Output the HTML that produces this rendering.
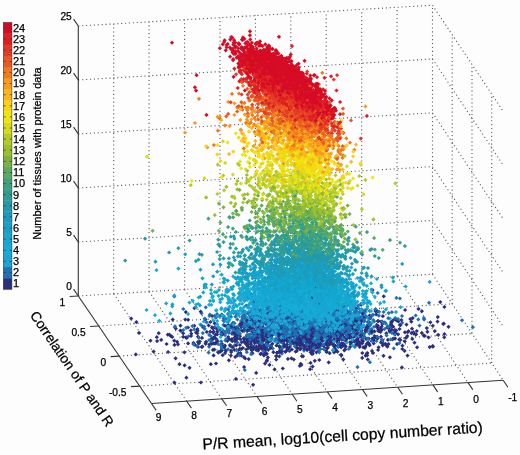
<!DOCTYPE html>
<html><head><meta charset="utf-8"><style>
html,body{margin:0;padding:0;background:#fdfdfd;}
svg{display:block;filter:blur(0.3px);}
text{font-family:"Liberation Sans",Arial,sans-serif;fill:#000;stroke:#000;stroke-width:0.25px;}
.ct{stroke:#333;stroke-width:1;opacity:0.7;}
.gd{stroke:#5a5a5a;stroke-width:1.1;stroke-dasharray:1.1 2.8;fill:none;}
.ax{stroke:#333;stroke-width:1.1;}
.s{fill:none;stroke:none;}
.tl{font-size:10.2px;}
.cl{font-size:11px;}
</style></head><body>
<svg width="520" height="455" viewBox="0 0 520 455">
<defs><marker id="m1" markerUnits="userSpaceOnUse" markerWidth="8" markerHeight="8" refX="4" refY="4" overflow="visible"><path d="M4 1.90L6.10 4 4 6.10 1.90 4z" fill="#2a2f7e"/></marker><marker id="m2" markerUnits="userSpaceOnUse" markerWidth="8" markerHeight="8" refX="4" refY="4" overflow="visible"><path d="M4 1.90L6.10 4 4 6.10 1.90 4z" fill="#2070b4"/></marker><marker id="m3" markerUnits="userSpaceOnUse" markerWidth="8" markerHeight="8" refX="4" refY="4" overflow="visible"><path d="M4 1.90L6.10 4 4 6.10 1.90 4z" fill="#1ca4d4"/></marker><marker id="m4" markerUnits="userSpaceOnUse" markerWidth="8" markerHeight="8" refX="4" refY="4" overflow="visible"><path d="M4 1.90L6.10 4 4 6.10 1.90 4z" fill="#16acd8"/></marker><marker id="m5" markerUnits="userSpaceOnUse" markerWidth="8" markerHeight="8" refX="4" refY="4" overflow="visible"><path d="M4 1.90L6.10 4 4 6.10 1.90 4z" fill="#14a8d0"/></marker><marker id="m6" markerUnits="userSpaceOnUse" markerWidth="8" markerHeight="8" refX="4" refY="4" overflow="visible"><path d="M4 1.90L6.10 4 4 6.10 1.90 4z" fill="#16a2c8"/></marker><marker id="m7" markerUnits="userSpaceOnUse" markerWidth="8" markerHeight="8" refX="4" refY="4" overflow="visible"><path d="M4 1.90L6.10 4 4 6.10 1.90 4z" fill="#1c9bbe"/></marker><marker id="m8" markerUnits="userSpaceOnUse" markerWidth="8" markerHeight="8" refX="4" refY="4" overflow="visible"><path d="M4 1.90L6.10 4 4 6.10 1.90 4z" fill="#2399aa"/></marker><marker id="m9" markerUnits="userSpaceOnUse" markerWidth="8" markerHeight="8" refX="4" refY="4" overflow="visible"><path d="M4 1.90L6.10 4 4 6.10 1.90 4z" fill="#2d9d96"/></marker><marker id="m10" markerUnits="userSpaceOnUse" markerWidth="8" markerHeight="8" refX="4" refY="4" overflow="visible"><path d="M4 1.90L6.10 4 4 6.10 1.90 4z" fill="#3ea27d"/></marker><marker id="m11" markerUnits="userSpaceOnUse" markerWidth="8" markerHeight="8" refX="4" refY="4" overflow="visible"><path d="M4 1.90L6.10 4 4 6.10 1.90 4z" fill="#5aaa62"/></marker><marker id="m12" markerUnits="userSpaceOnUse" markerWidth="8" markerHeight="8" refX="4" refY="4" overflow="visible"><path d="M4 1.90L6.10 4 4 6.10 1.90 4z" fill="#7ab244"/></marker><marker id="m13" markerUnits="userSpaceOnUse" markerWidth="8" markerHeight="8" refX="4" refY="4" overflow="visible"><path d="M4 1.90L6.10 4 4 6.10 1.90 4z" fill="#9bc02d"/></marker><marker id="m14" markerUnits="userSpaceOnUse" markerWidth="8" markerHeight="8" refX="4" refY="4" overflow="visible"><path d="M4 1.90L6.10 4 4 6.10 1.90 4z" fill="#b2cb26"/></marker><marker id="m15" markerUnits="userSpaceOnUse" markerWidth="8" markerHeight="8" refX="4" refY="4" overflow="visible"><path d="M4 1.90L6.10 4 4 6.10 1.90 4z" fill="#d4da1c"/></marker><marker id="m16" markerUnits="userSpaceOnUse" markerWidth="8" markerHeight="8" refX="4" refY="4" overflow="visible"><path d="M4 1.90L6.10 4 4 6.10 1.90 4z" fill="#f0e40f"/></marker><marker id="m17" markerUnits="userSpaceOnUse" markerWidth="8" markerHeight="8" refX="4" refY="4" overflow="visible"><path d="M4 1.90L6.10 4 4 6.10 1.90 4z" fill="#f8d412"/></marker><marker id="m18" markerUnits="userSpaceOnUse" markerWidth="8" markerHeight="8" refX="4" refY="4" overflow="visible"><path d="M4 1.90L6.10 4 4 6.10 1.90 4z" fill="#fab61c"/></marker><marker id="m19" markerUnits="userSpaceOnUse" markerWidth="8" markerHeight="8" refX="4" refY="4" overflow="visible"><path d="M4 1.90L6.10 4 4 6.10 1.90 4z" fill="#f69b1c"/></marker><marker id="m20" markerUnits="userSpaceOnUse" markerWidth="8" markerHeight="8" refX="4" refY="4" overflow="visible"><path d="M4 1.90L6.10 4 4 6.10 1.90 4z" fill="#f07a1e"/></marker><marker id="m21" markerUnits="userSpaceOnUse" markerWidth="8" markerHeight="8" refX="4" refY="4" overflow="visible"><path d="M4 1.90L6.10 4 4 6.10 1.90 4z" fill="#ea5823"/></marker><marker id="m22" markerUnits="userSpaceOnUse" markerWidth="8" markerHeight="8" refX="4" refY="4" overflow="visible"><path d="M4 1.90L6.10 4 4 6.10 1.90 4z" fill="#e23c28"/></marker><marker id="m23" markerUnits="userSpaceOnUse" markerWidth="8" markerHeight="8" refX="4" refY="4" overflow="visible"><path d="M4 1.90L6.10 4 4 6.10 1.90 4z" fill="#e01e22"/></marker><marker id="m24" markerUnits="userSpaceOnUse" markerWidth="8" markerHeight="8" refX="4" refY="4" overflow="visible"><path d="M4 1.90L6.10 4 4 6.10 1.90 4z" fill="#d60c26"/></marker></defs>
<rect width="520" height="455" fill="#fdfdfd"/>
<g><line class="gd" x1="432.5" y1="274.2" x2="432.5" y2="5.2"/><line class="gd" x1="397.1" y1="276.4" x2="397.1" y2="7.3"/><line class="gd" x1="361.7" y1="278.6" x2="361.7" y2="9.4"/><line class="gd" x1="326.2" y1="280.7" x2="326.2" y2="11.4"/><line class="gd" x1="290.8" y1="282.9" x2="290.8" y2="13.5"/><line class="gd" x1="255.4" y1="285.1" x2="255.4" y2="15.6"/><line class="gd" x1="220.0" y1="287.3" x2="220.0" y2="17.7"/><line class="gd" x1="184.6" y1="289.5" x2="184.6" y2="19.8"/><line class="gd" x1="149.1" y1="291.6" x2="149.1" y2="21.8"/><line class="gd" x1="113.7" y1="293.8" x2="113.7" y2="23.9"/><line class="gd" x1="78.3" y1="296.0" x2="432.5" y2="274.2"/><line class="gd" x1="78.3" y1="242.0" x2="432.5" y2="220.4"/><line class="gd" x1="78.3" y1="188.0" x2="432.5" y2="166.6"/><line class="gd" x1="78.3" y1="134.0" x2="432.5" y2="112.8"/><line class="gd" x1="78.3" y1="80.0" x2="432.5" y2="59.0"/><line class="gd" x1="78.3" y1="26.0" x2="432.5" y2="5.2"/><line class="gd" x1="452.2" y1="303.8" x2="452.2" y2="34.8"/><line class="gd" x1="472.0" y1="333.5" x2="472.0" y2="64.5"/><line class="gd" x1="491.7" y1="363.1" x2="491.7" y2="94.1"/><line class="gd" x1="432.5" y1="274.2" x2="503.2" y2="380.3"/><line class="gd" x1="432.5" y1="220.4" x2="503.2" y2="326.5"/><line class="gd" x1="432.5" y1="166.6" x2="503.2" y2="272.7"/><line class="gd" x1="432.5" y1="112.8" x2="503.2" y2="218.9"/><line class="gd" x1="432.5" y1="59.0" x2="503.2" y2="165.1"/><line class="gd" x1="432.5" y1="5.2" x2="503.2" y2="111.3"/><line class="gd" x1="397.1" y1="276.4" x2="468.0" y2="382.6"/><line class="gd" x1="361.7" y1="278.6" x2="432.9" y2="384.9"/><line class="gd" x1="326.2" y1="280.7" x2="397.7" y2="387.3"/><line class="gd" x1="290.8" y1="282.9" x2="362.5" y2="389.6"/><line class="gd" x1="255.4" y1="285.1" x2="327.4" y2="391.9"/><line class="gd" x1="220.0" y1="287.3" x2="292.2" y2="394.2"/><line class="gd" x1="184.6" y1="289.5" x2="257.0" y2="396.5"/><line class="gd" x1="149.1" y1="291.6" x2="221.8" y2="398.9"/><line class="gd" x1="113.7" y1="293.8" x2="186.7" y2="401.2"/><line class="gd" x1="98.7" y1="326.0" x2="452.2" y2="303.8"/><line class="gd" x1="119.2" y1="356.1" x2="472.0" y2="333.5"/><line class="gd" x1="139.6" y1="386.1" x2="491.7" y2="363.1"/></g>
<g><path class="s" marker-start="url(#m1)" marker-mid="url(#m1)" marker-end="url(#m1)" d="M310.5 342.7 256.2 372.9 310.6 362.9 275.1 339.7 330.9 332.2 313.7 319.6 221.6 332.3 183.2 336.8 334.0 318.0 270.5 315.4 213.6 355.4 312.7 335.3 335.5 327.5 305.5 322.9 287.7 329.4 271.1 345.9 299.3 341.1 279.4 336.0 270.3 346.2 417.1 347.3 259.2 346.8 342.6 339.5 340.8 307.2 288.8 337.1 239.8 348.9 249.6 347.5 351.5 320.5 300.2 322.2 258.5 315.7 328.3 332.5 316.1 326.5 404.8 341.4 312.8 353.7 221.3 345.3 367.4 353.1 361.6 335.0 194.5 308.1 329.6 353.2 309.2 328.2 296.1 340.6 309.7 313.8 299.0 342.9 177.1 341.8 362.9 341.4 288.8 327.8 251.9 353.1 290.5 342.8 289.8 325.5 175.8 328.6 319.5 344.4 313.8 339.6 289.4 326.2 323.9 339.8 305.6 301.9 438.2 334.8 307.5 315.7 366.1 327.8 377.3 338.0 247.3 345.5 238.7 349.9 385.3 343.8 440.3 302.1 318.6 351.2 345.0 316.3 342.8 331.4 267.0 360.3 326.1 317.6 237.0 329.6 305.4 339.2 315.5 347.9 300.6 291.9 382.3 340.0 265.3 333.5 243.5 320.5 296.8 351.0 320.2 345.8 288.1 325.5 340.4 328.0 288.4 313.1 302.1 341.4 277.5 340.6 197.6 330.8 238.1 328.4 205.4 319.6 312.8 309.0 304.4 334.9 421.8 332.9 198.9 343.4 278.8 333.6 135.8 354.4 308.9 330.5 286.1 306.2 285.8 321.6 380.9 342.5 253.4 332.0 294.0 329.2 309.0 339.4 365.6 355.6 262.1 317.1 259.7 322.4 355.9 320.1 234.3 333.9 251.0 341.9 288.2 325.3 334.2 338.9 345.6 320.4 260.9 327.7 324.6 333.1 221.7 314.7 301.6 332.6 318.6 330.8 235.3 356.9 334.1 352.3 304.3 340.3 293.5 322.3 377.8 321.1 251.4 350.1 318.8 343.8 286.6 324.0 212.0 327.3 279.4 351.3 280.0 347.7 269.2 320.2 382.7 345.3 367.7 325.0 222.0 334.5 327.1 345.1 290.0 333.2 378.2 330.1 283.2 342.9 272.6 326.8 437.5 321.6 309.7 328.4 308.8 328.9 378.6 347.3 423.6 335.3 277.0 352.5 332.1 325.7 223.5 316.0 299.4 343.4 293.6 335.8 333.7 340.6 238.7 337.0 288.1 334.6 217.2 334.5 275.5 340.5 318.3 310.3 328.4 317.9 343.8 345.0 416.8 331.0 279.6 346.5 358.4 337.6 235.4 339.9 232.1 333.8 395.5 330.7 367.8 359.5 235.8 334.2 296.6 318.5 372.9 353.1 271.2 338.0 305.7 323.2 369.6 345.0 333.1 333.5 300.0 339.5 235.1 341.4 304.5 314.1 372.6 290.0 185.8 312.1 244.1 367.1 239.9 345.0 167.8 334.7 131.2 318.6 301.7 337.1 386.3 333.3 220.5 351.6 316.9 344.3 241.7 342.2 298.3 343.3 178.0 344.3 413.8 333.6 341.5 343.9 271.0 318.1 266.5 343.2 387.2 327.4 289.9 346.9 322.1 323.3 304.4 332.5 282.9 341.1 341.4 355.3 336.6 335.6 198.0 346.9 292.7 327.1 234.4 327.9 225.9 350.8 297.8 325.3 340.7 334.2 297.2 348.5 260.1 345.3 228.3 324.9 314.8 360.8 311.9 329.0 287.4 326.4 383.5 355.8 316.1 332.1 281.3 330.5 374.5 336.0 336.3 320.7 253.1 340.5 270.0 336.0 297.3 341.3 338.2 316.6 342.2 339.2 378.1 350.0 304.0 332.1 426.8 328.1 258.4 317.0 314.6 319.8 237.0 333.6 188.1 343.4 257.0 349.5 311.2 338.9 353.6 330.0 298.3 337.6 287.1 344.5 335.6 349.6 347.6 311.3 350.2 335.6 191.3 333.7 366.4 338.8 314.4 344.7 405.1 310.0 200.9 382.5 314.9 337.8 338.2 333.7 338.5 336.1 261.0 335.1 186.4 377.7 280.4 348.9 287.0 339.3 315.7 326.8 280.1 312.3 246.3 349.6 300.6 340.2 328.9 326.4 346.8 331.5 312.5 327.6 295.7 351.6 219.8 329.4 364.2 337.0 297.3 338.8 310.4 332.2 213.2 332.6 266.6 361.2 320.0 330.3 408.6 331.2 184.4 352.3 407.5 355.6 341.0 354.8 292.4 332.7 300.0 349.1 251.0 344.2 350.1 342.3 412.0 328.7 237.5 355.3 297.4 345.1 253.4 321.5 400.3 340.1 314.0 334.0 358.2 318.8 389.5 331.1 305.1 335.8 346.4 314.6 358.3 345.2 288.7 350.1 225.1 353.1 341.9 315.9 411.5 333.2 303.0 336.3 367.9 328.1 279.2 323.0 410.3 319.0 328.7 362.4 349.3 338.0 298.2 327.4 434.8 331.1 271.3 325.4 301.8 343.0 313.7 343.9 234.7 337.6 225.8 350.3 306.5 343.0 323.9 331.2 260.7 336.1 312.6 344.7 256.0 338.0 326.7 351.9 331.2 340.8 332.4 331.2"/><path class="s" marker-start="url(#m2)" marker-mid="url(#m2)" marker-end="url(#m2)" d="M313.5 331.7 354.5 328.9 318.2 334.2 391.7 321.6 319.7 326.1 303.0 339.5 312.0 339.2 237.5 342.6 270.5 324.4 335.2 346.3 218.7 328.5 317.1 326.2 337.2 326.1 367.5 322.1 267.2 324.6 325.6 335.7 375.2 309.9 242.4 318.1 181.1 331.1 323.9 329.1 323.1 334.4 344.0 301.0 225.0 335.1 308.9 321.5 369.2 324.3 285.2 320.8 288.9 330.7 288.4 330.8 232.5 332.3 305.7 323.9 224.2 347.9 322.5 340.4 183.3 330.0 344.1 319.8 279.5 323.4 331.4 317.8 361.7 309.4 294.6 321.5 341.6 307.1 322.9 339.1 314.6 334.7 315.3 317.1 244.0 338.1 253.0 334.2 310.7 309.2 369.9 362.2 294.6 331.4 314.0 316.2 345.3 327.6 323.5 316.7 283.7 332.5 234.9 345.0 346.3 312.2 366.1 316.7 235.4 316.7 289.2 335.7 384.8 322.4 334.0 326.2 300.1 328.6 225.4 340.5 174.3 296.5 307.7 334.3 315.1 321.6 313.1 320.2 264.1 321.6 298.4 325.4 325.4 322.9 242.9 319.5 225.8 318.8 259.4 338.0 322.5 320.2 276.1 356.0 322.5 317.8 297.8 323.0 373.2 320.1 306.8 321.7 257.4 335.4 319.3 324.1 337.8 334.6 206.7 322.4 369.6 311.0 360.1 334.8 324.1 332.5 317.0 316.9 324.3 316.5 224.6 332.1 303.8 325.0 339.0 317.4 243.8 341.6 326.8 312.9 323.6 311.9 346.4 339.2 319.1 327.9 301.7 322.6 256.5 319.0 304.5 319.3 355.1 335.2 369.5 325.8 334.4 329.9 205.8 307.3 305.9 325.2 297.9 312.3 347.2 320.4 289.7 325.8 288.7 333.8 248.0 326.5 227.6 328.7 296.7 305.7 363.5 325.5 374.3 321.5 268.4 320.9 222.8 333.3 272.3 329.1 296.4 297.4 272.8 348.5 373.0 314.7 345.6 333.5 399.7 324.9 283.8 327.2 339.3 326.2 390.1 326.6 296.0 330.0 242.0 321.7 324.0 327.2 347.4 311.3 287.8 325.8 294.7 310.6 272.8 331.1 333.2 323.7 337.6 335.4 307.3 330.2 337.8 317.4 277.0 317.6 298.8 333.6 280.2 325.2 402.2 322.7 302.2 314.3 295.4 323.8 317.8 312.8 317.4 317.4 227.2 326.6 346.3 314.0 355.4 335.6 270.3 326.8 362.0 327.3 300.0 324.3 227.8 339.1 290.9 336.9 337.1 319.1 312.0 322.7 298.9 309.6 264.4 336.1 278.3 339.6 276.5 323.0 309.8 315.0 274.8 320.9 353.4 309.8 217.0 341.1 327.6 316.9 383.6 312.0 299.0 321.6 338.3 331.4 270.6 330.3 269.4 301.9 301.1 330.4 287.0 328.8 215.8 317.7 266.6 332.0 287.8 339.9 311.3 320.8 237.6 332.9 326.5 323.2 324.2 317.8 348.2 324.4 255.1 311.7 311.6 312.8 218.0 352.1 311.2 327.1 294.6 311.8 328.0 322.2 291.3 326.4 249.6 328.2 290.2 323.5 267.4 327.7 343.1 303.4 297.3 320.5 277.4 331.1 277.1 331.0 210.8 336.0 323.3 319.9 287.7 334.7 254.2 316.0 262.8 321.2 281.1 348.3 328.2 338.8 291.2 323.9 329.0 318.4 303.3 334.0 218.3 327.4 272.9 326.5 377.7 293.0 313.4 311.0 323.8 323.1 289.7 313.4 254.1 325.0 284.0 329.3 327.4 323.3 236.3 313.8 301.7 312.0 338.6 343.9 337.9 303.0 311.7 304.4 348.1 331.5 295.9 325.5 284.6 316.3 315.8 326.1 333.8 346.1 360.7 319.0 311.5 323.4 232.5 340.5 387.5 326.1 278.0 338.7 295.6 343.6 323.0 331.2 326.1 325.0 281.9 353.7 327.8 323.4 272.8 327.0 250.5 337.7 297.2 293.4 286.1 323.6 311.0 321.5 242.7 312.4 288.2 315.8 385.7 323.4 223.4 324.9 340.8 331.6 281.7 322.3 298.4 295.5 318.9 329.6 251.8 347.5 326.4 335.1 324.4 334.8 279.3 346.3 271.0 335.8 254.0 322.9 275.5 311.8 338.7 319.1 349.4 313.5 287.6 305.1 319.9 298.5 280.6 321.4 312.0 317.9 424.1 319.6 279.7 318.9 303.3 337.2 323.1 338.1 243.6 317.1 313.7 306.3 333.4 327.0 310.0 330.1 285.0 313.6 266.4 340.5 301.4 330.4 331.5 323.2 227.9 314.0 256.7 342.2 225.4 309.6 307.4 315.5 307.1 314.9 310.8 310.5 209.1 346.8 315.9 315.1 324.2 334.3 317.2 328.6 228.5 321.4 305.5 323.3 339.1 314.2 226.6 331.9 371.5 332.0 341.8 332.7 279.2 332.7 262.9 334.9 268.2 305.4 183.3 309.0"/><path class="s" marker-start="url(#m3)" marker-mid="url(#m3)" marker-end="url(#m3)" d="M299.5 295.3 332.0 287.8 294.0 307.3 302.3 325.8 303.0 319.5 354.5 306.7 244.6 318.2 298.7 337.3 200.3 324.5 271.4 315.4 321.0 304.3 325.7 332.2 361.9 316.9 303.1 314.6 336.0 299.6 295.5 298.8 245.4 324.7 337.5 303.9 307.8 304.9 300.5 289.5 288.8 312.1 316.3 295.6 287.5 313.9 333.6 315.2 290.3 320.2 292.4 309.2 257.1 332.8 371.9 323.0 335.0 307.5 322.4 309.9 266.3 316.0 265.6 316.6 304.5 309.7 266.1 311.4 258.3 309.8 295.6 309.8 288.5 294.0 312.3 322.5 320.7 315.2 328.9 300.9 337.9 308.6 321.3 322.6 288.8 310.5 250.0 320.6 294.0 300.3 290.2 310.2 297.3 330.0 326.4 308.6 258.8 289.0 299.8 313.1 295.2 289.1 356.8 325.5 313.1 316.1 262.7 302.9 328.1 308.0 329.1 307.8 285.9 311.9 305.9 307.0 285.6 302.9 273.5 311.1 321.8 324.1 306.6 307.7 249.0 305.0 318.3 326.7 321.9 314.0 319.8 303.2 263.1 312.2 249.9 318.0 349.7 314.2 304.0 296.1 279.8 314.2 356.8 323.5 300.2 295.6 321.0 321.1 286.2 321.9 314.4 316.0 263.2 294.4 310.7 302.7 360.7 329.5 264.1 304.3 312.1 299.4 288.5 310.3 336.9 328.8 306.8 322.0 334.9 316.0 250.8 303.0 321.4 294.7 335.0 332.9 340.4 306.5 252.6 312.3 327.9 324.7 282.4 306.7 299.8 307.7 346.8 342.6 302.2 298.8 293.4 331.5 338.9 302.5 306.9 325.0 278.9 320.1 343.2 309.4 307.3 295.2 250.2 295.5 294.5 321.6 301.9 329.6 276.8 303.3 320.0 320.1 254.2 307.8 287.7 308.9 242.4 311.4 353.9 313.2 325.4 329.9 294.4 303.2 327.6 308.5 279.3 307.1 326.6 305.8 327.9 310.2 318.7 316.5 340.6 325.8 339.3 300.6 323.3 317.5 327.8 316.2 275.3 302.5 315.8 300.8 312.9 315.8 320.8 305.3 333.5 310.6 320.8 298.8 247.7 307.5 241.2 330.1 333.8 295.9 306.0 284.8 302.4 302.9 292.3 309.6 311.5 300.3 321.0 326.1 298.7 289.2 317.7 306.8 330.6 311.5 307.9 328.3 274.5 326.6 328.5 323.2 282.5 319.4 298.1 314.1 267.9 318.4 318.1 307.0 283.1 318.2 310.5 312.0 279.0 334.9 345.7 309.4 272.3 307.6 320.1 315.9 284.4 315.9 146.6 310.0 307.3 317.4 309.9 311.1 271.6 314.2 314.9 301.2 299.9 306.9 159.3 320.8 262.7 317.6 250.5 318.4 343.5 305.9 311.6 316.0 320.7 322.2 300.2 325.5 338.9 312.1 300.4 305.9 343.6 323.2 281.9 322.1 334.4 309.9 329.7 314.1 213.1 300.3 325.7 304.2 340.9 310.8 312.2 315.7 301.8 289.1 344.6 315.8 312.9 320.0 284.2 301.7 337.1 318.7 315.6 311.0 318.9 308.0 331.0 326.5 227.8 302.9 325.3 322.3 225.7 308.9 299.9 316.3 290.7 297.4 310.4 295.2 279.0 311.0 259.8 301.2 301.4 331.2 269.0 310.4 268.9 322.9 255.0 302.5 281.7 317.2 293.2 317.3 274.5 312.4 301.1 315.2 309.1 308.4 316.2 323.2 321.5 319.4 270.4 326.4 303.9 313.4 303.6 296.0 239.9 292.0 288.6 305.7 302.7 310.9 298.1 297.1 346.1 300.2 316.8 307.6 303.1 336.7 282.8 317.2 266.8 323.9 283.0 310.6 343.1 331.9 311.2 313.6 309.9 314.0 313.0 304.8 263.4 320.7 278.0 319.3 285.4 328.3 322.0 319.8 321.4 315.1 310.2 300.2 316.9 319.2 344.5 325.9 302.3 299.8 317.5 296.6 279.4 306.0 330.0 328.8 277.6 284.3 270.5 318.7 296.1 321.2 238.7 314.3 304.7 300.6 342.9 319.2 301.2 304.8 328.2 325.9 280.3 327.5 365.9 293.6 279.9 287.7 306.2 297.3 313.9 328.7 299.2 318.2 322.6 312.1 315.4 312.6 357.4 296.0 239.3 314.3 285.7 303.2 308.1 313.4 316.1 308.7 294.9 304.7 295.9 308.0 313.9 316.1 303.6 315.2 350.5 336.1 297.5 313.5 303.1 315.2 269.8 311.8 259.8 312.5 344.9 331.0 317.1 301.6 325.8 299.5 324.7 329.0 330.3 302.6 272.1 305.0 354.5 301.2 312.5 307.9 297.4 319.4 323.8 323.8 262.2 310.9 341.5 315.3 267.8 337.3 292.4 326.1 273.3 311.4 305.9 300.4 319.1 321.3 288.7 307.6 287.3 315.8 319.1 331.9 362.7 294.0 309.5 314.1 314.4 334.4 272.4 317.6 334.2 318.6 324.8 316.0 350.6 313.2 302.3 318.3 287.5 303.8 296.6 305.3 266.9 303.7 291.5 301.8 346.5 322.2 322.0 307.4 341.5 314.8 315.0 311.3 234.6 311.5 224.8 317.0 318.9 283.1 313.0 304.9 300.7 306.8 290.8 312.4 246.0 324.0 296.6 323.1"/><path class="s" marker-start="url(#m4)" marker-mid="url(#m4)" marker-end="url(#m4)" d="M351.0 300.7 312.6 296.5 311.9 306.5 222.1 298.7 312.2 291.5 251.2 296.2 316.3 312.6 291.2 306.4 331.0 306.1 239.8 310.6 329.7 298.5 317.5 308.5 325.2 300.9 268.4 309.7 337.6 319.4 327.7 305.2 276.2 309.8 308.5 301.9 262.5 308.1 281.0 300.5 316.8 310.4 313.3 299.3 283.5 302.8 327.4 300.8 292.3 310.0 311.9 302.6 251.0 308.7 312.6 301.3 270.0 313.8 306.5 296.3 308.0 311.8 277.7 294.3 317.9 293.9 265.0 291.5 227.5 289.6 300.5 284.3 331.1 315.1 302.7 288.3 317.3 302.0 277.2 309.5 359.8 281.1 285.3 322.3 261.9 287.5 294.3 297.7 263.0 283.7 323.7 289.4 265.7 305.9 299.4 308.9 247.7 297.8 332.7 285.6 312.2 291.4 281.0 303.1 286.3 298.3 312.0 296.2 310.0 285.6 317.4 306.4 333.9 298.7 317.7 286.6 312.6 296.7 278.7 305.4 315.5 303.2 365.5 310.3 329.9 302.7 335.8 308.9 322.7 295.6 284.5 317.4 339.1 305.9 295.2 297.1 318.2 286.4 324.7 309.7 302.5 300.2 340.7 296.9 318.0 318.6 279.2 296.5 332.3 309.3 288.1 306.6 313.9 303.6 345.3 305.6 356.6 311.7 258.6 305.2 332.6 307.2 231.2 287.9 259.4 303.5 254.4 318.1 226.9 321.8 298.3 310.7 313.3 296.0 283.7 293.4 329.8 300.6 302.1 310.3 312.7 288.2 251.8 308.8 192.8 300.8 327.0 299.5 264.5 288.8 304.4 292.7 318.1 298.0 335.1 319.3 259.4 319.1 273.1 302.3 264.2 305.3 287.9 280.0 284.5 296.6 316.2 286.8 281.9 310.7 301.2 308.6 280.4 289.4 309.4 300.2 283.1 288.3 249.0 307.2 302.6 296.7 310.2 297.8 256.7 305.0 336.4 301.4 300.3 305.3 354.2 288.0 287.1 287.1 306.4 299.7 313.7 281.2 283.1 311.4 343.6 291.2 305.4 288.7 330.8 298.8 310.2 304.6 269.6 309.7 287.0 283.5 324.6 304.8 304.1 291.8 324.8 291.9 188.1 314.1 275.8 316.0 290.5 294.1 340.7 300.8 313.5 295.0 360.9 332.3 286.7 287.0 300.9 284.3 317.2 306.8 312.1 291.4 327.2 291.0 291.0 303.5 322.8 311.7 320.9 315.1 304.6 293.1 319.0 296.4 229.1 263.8 351.1 282.3 293.7 303.4 325.7 287.0 290.2 309.1 303.0 319.4 315.9 294.8 316.9 297.1 286.6 302.8 247.0 297.2 294.0 295.7 314.6 300.3 294.6 294.2 266.2 295.5 336.0 305.6 221.2 309.2 315.3 310.5 341.4 297.6 320.7 330.5 311.8 308.6 357.9 307.6 304.5 289.1 261.2 306.5 213.4 320.4 334.0 303.0 299.8 284.9 336.1 295.9 346.5 304.8 314.7 288.9 282.9 307.0 289.1 317.4 365.2 310.1 297.0 280.8 285.4 297.5 246.3 284.2 329.8 295.9 316.8 309.3 307.6 300.0 302.6 310.6 289.9 302.4 278.1 296.5 334.4 302.7 293.5 305.1 346.6 318.2 254.6 295.9 345.1 296.1 333.2 313.9 316.6 304.3 313.5 298.0 308.2 296.8 318.3 300.1 266.0 292.1 351.9 284.7 315.5 291.6 323.7 306.4 309.3 297.6 327.6 309.3 322.7 313.8 323.5 301.2 329.5 291.1 297.4 291.5 258.0 287.8 271.2 301.1 330.6 289.2 366.4 297.4 299.1 294.4 255.2 296.5 313.4 284.4 303.8 303.0 315.2 312.7 266.3 310.1 330.7 289.1 262.9 298.0 307.3 283.3 294.6 307.0 266.6 302.6 343.8 299.3 254.8 310.9 317.0 298.8 339.3 304.0 286.9 316.7 288.7 307.0 342.4 311.0 260.3 281.5 288.4 305.0 311.0 291.6 328.0 319.0 343.2 305.8 309.8 286.3 261.9 307.5 310.9 304.9 318.4 298.4 240.0 300.5 245.6 296.4 314.2 282.4 282.2 287.0 304.3 290.9 266.3 302.6 319.4 300.7 271.7 308.5 327.2 315.1 273.5 313.5 292.4 301.8 331.4 286.7 270.8 307.0 308.2 302.0 301.6 286.5 307.8 302.2 256.3 298.6 296.6 310.6 258.6 309.1 321.0 311.0 286.9 283.7 324.7 288.0 284.0 302.7 297.7 309.1 338.7 309.5 261.2 303.6 305.6 308.1 289.7 302.2 338.4 322.6 309.6 308.2 296.0 294.9 287.9 285.3 313.7 306.6 294.4 298.8 228.9 317.0 298.1 303.6 291.9 321.5 303.5 293.6 272.1 297.9 286.7 286.6 265.8 312.4 301.5 313.7 317.6 300.4 322.3 304.2"/><path class="s" marker-start="url(#m5)" marker-mid="url(#m5)" marker-end="url(#m5)" d="M309.0 286.8 321.1 303.0 266.4 298.2 289.8 285.2 294.8 271.6 354.4 300.6 310.2 285.0 313.9 274.7 346.4 316.4 327.8 288.8 289.6 289.7 326.9 295.8 400.6 307.2 294.6 291.4 267.1 286.4 347.0 292.2 348.7 289.9 286.8 282.1 289.6 265.0 342.3 299.6 317.9 291.4 306.8 293.7 326.9 286.4 330.0 310.1 257.5 308.7 260.2 290.8 324.2 292.4 258.1 278.5 299.9 280.3 323.3 292.0 315.8 287.0 318.1 289.3 334.0 303.6 278.0 285.3 295.3 273.2 336.9 265.4 334.0 290.4 305.4 286.4 327.6 316.7 228.7 298.1 276.4 311.3 267.1 302.9 339.1 286.8 322.8 288.2 342.4 278.7 322.6 283.5 282.3 287.4 306.4 268.3 279.9 275.9 328.2 313.8 331.3 287.8 329.2 301.9 341.6 289.9 316.6 292.4 245.6 297.4 266.2 307.6 312.3 292.5 334.1 280.5 276.0 289.3 305.5 298.1 317.0 285.0 321.4 291.7 299.8 258.1 295.1 286.7 315.0 284.6 314.4 290.3 308.3 289.2 313.2 314.3 261.7 289.3 325.1 274.1 268.1 290.0 322.8 315.0 316.8 285.4 251.0 298.7 304.9 292.0 284.5 290.1 316.4 288.1 309.5 293.2 298.7 281.0 311.0 297.6 327.4 305.1 358.6 294.4 276.9 287.3 321.3 273.7 292.1 298.5 285.7 277.8 327.3 280.4 263.5 282.8 298.6 292.0 282.8 276.6 316.2 278.3 292.3 283.0 286.4 276.2 269.4 277.6 335.9 275.5 344.4 305.2 265.4 282.8 361.2 281.1 325.7 292.1 308.3 286.8 294.4 298.7 241.6 279.8 297.1 282.5 314.9 291.4 308.5 255.0 318.1 292.4 272.5 310.2 241.2 280.7 336.5 306.2 273.2 286.3 251.6 283.8 280.5 298.8 248.8 285.9 338.0 294.4 349.4 278.9 319.1 299.9 329.1 295.5 275.7 282.6 287.2 291.4 304.6 285.7 315.9 284.9 333.7 294.5 300.6 276.2 344.0 293.7 351.9 316.0 272.2 304.7 290.9 289.5 309.7 293.2 312.0 288.9 337.3 291.1 241.8 294.9 331.8 300.5 284.9 280.0 308.8 290.3 286.5 277.6 294.0 303.3 332.0 279.1 313.5 278.9 275.1 262.1 293.2 282.8 303.4 279.0 271.0 288.4 353.4 300.3 333.0 286.7 295.4 295.3 232.9 298.3 320.8 283.8 343.1 293.6 269.6 291.0 323.2 295.6 332.2 299.9 306.2 278.8 312.5 283.3 323.1 296.5 277.0 295.2 311.3 289.9 320.7 297.4 326.4 303.4 254.3 281.9 329.7 294.5 326.2 277.0 290.6 309.2 305.5 285.5 292.7 291.7 328.3 287.3 338.5 299.0 275.3 274.6 284.3 287.1 323.2 283.5 326.3 306.9 279.5 296.1 352.9 293.0 203.3 292.4 292.2 287.7 292.5 276.9 255.0 265.8 311.6 281.9 228.9 290.5 247.3 287.0 313.9 277.7 328.6 270.8 284.0 269.6 258.9 280.9 226.3 289.9 297.3 285.7 308.0 300.8 323.9 274.0 287.8 278.7 302.9 295.7 293.7 309.1 332.3 283.8 275.1 273.7 315.3 281.2 314.1 284.4 259.2 275.5 291.6 287.7 311.6 296.3 278.5 293.9 277.7 289.8 300.4 282.5 346.4 291.7 316.0 301.6 311.7 284.2 314.3 282.8 327.2 301.9 289.7 285.4 232.9 308.5 312.6 279.9 292.0 304.1 307.3 281.8 304.5 314.1 363.6 283.9 245.1 292.3 295.5 287.2 284.4 296.3 318.6 300.7 283.0 281.9 337.0 297.6 327.0 276.1 344.3 287.1 305.8 273.7 216.7 292.1 296.0 288.4 243.7 286.4 325.2 292.2 261.0 283.0 305.9 273.3 326.2 300.9 345.1 301.5 281.3 295.6 297.9 288.9 346.6 302.8 245.5 288.6 345.8 303.2 318.5 270.1 283.7 282.1 279.9 291.2 329.8 306.6 263.2 291.7 309.4 283.9 298.0 283.4 335.4 300.8 276.6 281.0 310.4 307.4 269.0 285.2 325.8 293.9 307.9 296.2 280.2 292.5 316.0 261.4 333.3 281.5 322.1 273.1 320.7 283.8 322.6 287.0 270.0 285.9"/><path class="s" marker-start="url(#m6)" marker-mid="url(#m6)" marker-end="url(#m6)" d="M271.6 290.9 311.3 284.2 303.2 283.2 294.7 280.7 318.4 273.4 296.7 272.4 281.4 283.4 275.6 282.9 358.4 292.7 281.5 271.1 316.7 285.3 254.5 289.2 293.6 284.0 315.2 286.7 313.0 276.3 269.7 265.8 309.7 277.9 290.4 286.9 303.9 267.1 312.0 291.7 241.0 264.8 287.4 281.8 280.6 278.2 295.6 267.7 308.6 278.4 230.1 263.4 307.4 258.8 319.7 278.2 270.9 276.9 281.3 285.9 285.0 276.6 281.5 279.5 312.6 281.4 311.9 287.1 244.0 268.9 293.7 290.8 271.9 279.8 343.8 280.4 289.3 248.8 306.0 272.0 271.3 267.2 315.7 292.0 285.8 273.4 321.1 273.5 323.5 284.6 273.6 273.8 318.1 265.6 232.1 289.2 281.1 284.7 307.7 274.6 289.9 280.1 262.2 299.1 323.9 277.3 286.6 268.8 254.2 274.7 320.5 281.1 337.6 263.4 326.6 289.0 308.0 278.9 323.7 277.7 286.0 258.1 285.9 272.4 292.5 293.6 320.0 286.1 318.2 282.8 310.5 266.2 292.8 279.2 320.0 288.6 272.3 278.5 283.3 284.6 340.4 281.4 306.9 280.9 202.5 278.3 332.6 268.9 269.3 271.3 262.1 291.1 291.7 263.3 274.8 289.0 267.0 280.0 337.5 256.5 239.4 270.2 321.7 287.4 295.7 296.0 333.3 267.3 310.1 268.4 293.4 269.0 267.4 272.0 301.1 284.4 342.3 273.5 337.0 254.5 317.2 290.2 322.7 277.3 314.4 271.4 306.0 268.6 291.5 278.6 287.8 286.3 285.1 299.5 306.0 278.9 364.6 295.7 304.8 283.3 335.1 289.7 309.2 287.7 273.3 278.9 299.6 273.6 236.5 278.8 308.1 280.0 317.1 280.1 269.6 286.7 261.1 273.5 279.4 293.4 305.7 264.7 292.4 280.8 281.2 256.3 327.8 285.3 274.5 271.5 318.0 282.1 277.4 274.1 341.7 279.4 330.9 276.7 314.2 284.3 273.4 274.4 292.4 270.2 288.3 279.7 254.4 298.6 320.7 283.3 303.5 283.6 340.4 286.3 314.3 274.1 300.0 283.3 274.9 280.0 254.8 282.0 274.8 290.5 289.4 273.8 402.2 263.9 287.7 277.5 313.5 285.4 330.2 284.8 239.7 272.6 287.6 284.0 274.6 260.2 324.1 286.3 313.0 270.9 315.0 286.8 326.5 288.5 309.2 280.3 292.0 268.1 308.1 259.9 273.2 273.1 312.8 284.0 300.1 285.0 294.3 263.6 277.5 271.7 312.7 295.2 238.7 293.6 297.4 296.9 323.2 277.7 291.7 271.4 284.0 268.1 334.4 288.9 294.5 272.5 332.3 282.3 277.8 274.6 264.8 285.5 271.3 273.2 264.9 288.7 312.5 292.5 299.9 280.7 349.7 275.1 313.1 264.4 255.9 260.8 304.6 273.7 259.6 264.5 275.1 287.6"/><path class="s" marker-start="url(#m7)" marker-mid="url(#m7)" marker-end="url(#m7)" d="M323.9 280.7 306.7 278.6 290.6 269.7 317.0 270.4 306.7 273.9 321.4 249.0 241.2 235.8 292.1 279.8 321.0 289.6 311.6 267.7 327.4 275.9 313.9 254.3 247.1 278.0 277.8 244.5 336.2 259.3 319.3 263.7 298.9 273.2 198.5 259.7 230.2 247.9 312.5 265.5 301.4 258.0 249.0 257.4 297.0 253.4 313.8 252.0 309.2 268.5 326.0 278.3 323.2 267.7 299.6 253.6 243.0 249.6 319.3 275.2 317.7 274.2 309.1 267.0 314.7 281.0 272.6 286.9 291.1 271.5 301.4 254.6 319.5 255.2 257.7 262.8 296.1 254.9 317.6 284.6 317.2 251.8 284.8 274.1 291.8 265.7 314.7 247.7 306.6 255.6 284.5 252.3 332.1 279.3 297.6 264.1 381.5 285.3 299.3 281.6 316.6 270.0 305.5 266.6 292.4 259.4 320.3 267.1 318.5 273.4 228.9 258.4 299.3 251.4 315.2 287.6 337.0 282.4 285.4 263.6 251.9 283.5 338.7 267.3 307.8 252.5 304.5 272.3 328.9 280.7 303.4 270.0 302.3 277.8 322.6 261.6 315.9 276.0 275.1 249.6 288.6 277.8 304.9 268.7 293.5 254.7 292.4 290.1 285.2 279.7 291.2 267.4 308.0 257.2 319.6 282.5 331.9 253.8 276.4 262.8 272.4 268.5 281.7 276.3 213.0 264.4 279.6 274.3 287.4 253.0 356.6 295.0 361.7 279.0 328.6 243.6 266.8 280.6 310.0 261.9 267.5 281.4 320.9 235.2 341.4 290.3 259.1 261.9 292.0 242.5 248.5 274.9 307.1 266.5 321.4 263.3 282.5 262.6 298.9 253.6 337.8 275.1 297.4 272.4 309.7 252.6 281.1 281.7 270.1 275.5 283.1 282.4 304.3 277.7 268.3 269.0 292.5 277.8 312.2 276.4 262.8 260.0 308.2 251.4 316.3 280.3 282.5 272.4 326.5 260.3 308.3 275.4 272.1 273.0 306.9 261.1 266.4 255.4 255.2 267.4 303.0 255.8"/><path class="s" marker-start="url(#m8)" marker-mid="url(#m8)" marker-end="url(#m8)" d="M289.6 242.4 287.5 273.9 300.3 251.2 321.1 263.3 317.7 259.9 310.0 261.7 328.0 259.6 218.4 244.6 317.6 255.4 322.9 253.7 347.7 292.9 268.6 253.7 309.7 261.3 305.4 256.2 316.4 257.7 274.0 254.4 295.2 237.1 308.3 248.7 319.9 273.4 332.3 258.4 334.0 258.9 273.6 250.4 331.9 257.9 300.0 248.6 307.2 252.5 281.3 261.3 280.4 261.6 286.5 250.1 333.1 259.8 272.3 268.7 288.8 253.7 242.3 251.5 316.8 270.1 312.2 265.3 284.8 247.3 304.8 267.7 287.0 265.3 268.8 250.9 313.0 278.5 264.2 258.6 357.0 261.9 305.8 246.0 297.8 259.2 277.2 258.4 315.0 269.1 312.7 250.1 256.8 249.5 291.5 243.8 327.3 266.6 282.2 245.3 322.3 222.1 333.0 254.4 291.9 258.9 230.8 236.7 341.1 257.0 247.1 238.9 296.7 250.2 289.9 260.6 233.8 236.3 303.0 265.3 308.6 256.5 285.3 274.2 283.1 242.0 320.5 237.9 245.9 263.0 311.6 249.4 276.3 265.7 280.6 253.4 288.4 236.6 313.4 272.3 300.1 281.1 246.4 260.4 258.1 248.1 331.5 275.3 278.5 255.2 316.3 262.2 338.6 244.5 251.0 255.0 271.0 254.7 255.6 240.0 341.5 236.4 260.8 249.0 279.8 261.3 316.1 269.7 268.1 250.9 362.2 254.6 312.1 262.2 348.4 284.2 355.0 259.8 263.0 256.0 302.1 270.1 324.7 264.6"/><path class="s" marker-start="url(#m9)" marker-mid="url(#m9)" marker-end="url(#m9)" d="M297.2 268.5 295.8 226.9 276.3 253.2 338.1 249.9 301.0 217.6 317.3 238.8 324.5 265.8 299.1 238.5 312.6 245.7 336.0 250.2 322.8 244.1 295.0 254.8 332.8 246.2 307.9 246.5 285.4 236.7 312.7 248.8 303.6 232.6 308.3 229.1 286.1 244.3 277.3 235.8 252.9 228.0 307.9 245.6 329.8 246.1 276.2 238.2 330.9 237.8 279.8 261.5 292.2 226.5 310.7 241.7 302.3 223.9 316.4 251.8 321.2 229.0 338.7 268.6 308.3 259.5 317.5 250.3 323.1 252.5 324.9 237.7 189.6 240.5 347.5 240.0 264.2 260.1 306.7 244.5 287.0 232.1 299.1 265.0 260.0 227.4 301.0 225.5 253.9 256.8 301.0 237.6 316.6 240.2 320.7 240.3 301.7 256.8 283.5 220.6 330.7 242.1 308.7 254.1 320.5 261.7 294.6 231.3 300.8 248.0 348.0 249.8 321.3 238.5 295.8 257.8 313.3 257.4 242.8 267.9 312.8 245.8 310.3 249.0 301.3 269.1 374.8 256.1 310.2 245.0 300.8 250.4 279.1 224.2 319.1 232.8 318.5 256.5 319.9 239.3 268.2 235.2 262.1 243.8 298.2 254.2"/><path class="s" marker-start="url(#m10)" marker-mid="url(#m10)" marker-end="url(#m10)" d="M312.0 218.5 235.9 231.9 330.8 236.8 310.7 210.8 321.5 220.0 312.6 250.5 302.9 242.9 249.2 225.4 233.1 217.3 308.5 239.8 286.1 250.2 331.5 240.1 301.8 235.2 244.3 227.1 308.7 240.9 283.0 250.4 311.8 226.9 301.1 232.7 313.6 247.7 326.0 237.1 293.1 244.3 341.9 231.7 353.7 247.3 315.2 251.7 270.2 231.9 311.8 229.1 297.5 223.9 335.1 243.8 309.6 259.1 303.7 242.6 338.6 264.6 300.8 238.2 269.2 218.8 288.9 244.5 309.0 226.6 318.0 230.0 315.7 226.5 331.9 258.1 319.6 236.4 271.8 242.0 299.5 240.3 284.6 219.1 262.6 230.7 301.4 228.1 325.1 231.6 296.6 215.2 355.8 226.7 283.4 221.6 341.0 233.3 316.0 240.8 321.1 263.1 329.4 245.7 290.5 261.1 295.0 237.2 294.7 228.7 335.1 239.6 208.4 218.7 307.9 226.0 298.7 241.0 314.6 246.9 245.6 226.8 357.5 248.6 304.6 260.8 312.5 239.7 325.0 242.9 327.2 238.5 331.1 256.9 300.0 225.4 291.0 208.9 248.8 230.7 247.9 231.6 303.3 229.0 312.4 252.9"/><path class="s" marker-start="url(#m11)" marker-mid="url(#m11)" marker-end="url(#m11)" d="M271.2 218.9 258.0 195.7 325.2 233.6 273.4 223.9 274.0 231.9 262.2 231.8 321.4 235.0 309.1 226.4 304.0 219.0 382.7 249.8 295.1 208.0 311.1 208.4 342.7 247.5 314.7 236.3 268.4 235.0 220.4 222.6 278.6 223.6 289.6 221.3 225.7 237.0 306.4 225.7 311.0 218.4 318.3 236.9 301.3 209.5 252.7 207.1 285.1 214.9 321.9 223.3 313.3 227.3 283.1 222.7 338.8 227.3 321.7 233.7 329.3 222.9 272.1 215.0 319.4 223.5 317.1 211.3 320.4 224.3 337.0 244.7 333.4 219.6 309.5 220.1 299.5 223.8 304.4 220.7 341.7 229.3 347.8 231.5 290.6 209.1 270.1 231.0 293.9 220.7 287.3 234.4 300.4 231.6 303.0 206.7 273.8 213.9 296.3 217.6 292.5 230.2 313.2 228.6 285.8 222.3"/><path class="s" marker-start="url(#m12)" marker-mid="url(#m12)" marker-end="url(#m12)" d="M273.7 212.2 300.4 215.1 299.8 209.0 343.7 242.0 334.1 227.4 292.9 208.4 292.8 236.3 281.7 229.0 289.1 224.7 306.0 205.2 303.2 226.2 245.2 228.7 317.9 219.6 328.1 215.0 251.6 240.0 280.7 217.1 288.2 235.9 308.8 192.0 314.7 216.1 315.6 221.0 312.7 228.6 253.1 206.6 301.7 225.1 274.1 213.6 272.7 220.4 340.5 214.4 331.7 234.5 299.0 217.5 329.8 237.0 335.0 228.1 279.6 225.3 299.7 223.1 285.9 238.5 223.5 207.3 318.0 226.6 322.5 225.6 274.4 199.4 312.9 204.2 312.5 225.0 337.8 229.6 317.2 216.4 306.9 219.9 320.2 218.1 319.8 214.7 244.2 198.7 317.7 214.1 247.2 202.5 295.0 203.0"/><path class="s" marker-start="url(#m13)" marker-mid="url(#m13)" marker-end="url(#m13)" d="M315.6 206.4 322.5 210.5 324.1 204.0 304.1 198.4 327.1 236.4 274.1 175.8 307.9 196.1 300.2 205.0 270.2 201.7 340.3 189.9 330.8 213.5 316.8 202.1 252.1 201.3 273.3 206.9 303.3 198.2 291.0 176.3 256.8 199.5 316.7 208.8 237.5 181.0 289.3 203.3 285.8 209.9 314.6 187.4 317.8 212.8 329.9 192.5 319.1 182.2 267.5 195.6 286.2 203.4 267.6 206.0 287.6 214.1 283.0 211.8 263.4 171.1 307.8 206.9 303.5 191.1 293.4 193.6 341.8 218.3 300.9 193.1 355.4 239.4 301.2 191.6 284.2 212.2 301.5 212.9 334.8 196.4 335.1 218.1 301.7 185.9 297.1 211.0 317.7 219.3 312.6 211.0 318.6 216.9 334.9 218.8 247.3 170.8 332.1 192.7 341.0 214.3 323.3 193.7 257.9 216.8 296.5 193.7 309.4 203.0 304.2 200.4 305.9 195.5 312.6 189.7 299.4 200.4 329.8 201.6 318.0 225.3 277.5 193.9 267.3 195.4 321.6 213.6 263.4 193.7 291.1 213.5"/><path class="s" marker-start="url(#m14)" marker-mid="url(#m14)" marker-end="url(#m14)" d="M329.0 172.6 303.9 191.9 321.4 204.1 296.0 200.3 253.5 188.4 315.3 183.2 321.1 193.6 316.1 184.2 303.3 196.6 236.3 184.1 365.4 180.1 299.1 163.8 254.2 189.7 342.9 194.0 256.2 174.2 223.3 175.5 294.9 198.2 306.0 210.7 269.3 171.1 238.0 163.8 306.8 183.3 320.0 186.6 280.3 196.7 266.7 199.7 277.3 173.6 280.5 196.4 302.4 182.7 276.2 180.3 306.7 184.1 276.4 175.4 297.5 199.2 334.4 187.5 302.0 174.0 267.7 180.1 321.2 195.7 303.1 194.1 306.4 182.7 301.5 175.1 284.6 185.4 257.4 191.7 337.1 227.0 263.9 178.1 281.5 193.4 260.0 183.9 281.5 188.3 288.8 191.9 300.4 192.7 311.1 204.4 258.9 181.4 263.6 173.0 217.8 164.7 334.0 186.3 327.2 189.9 315.5 187.9 265.0 175.5 348.7 183.2 292.5 188.2 285.9 175.4 279.5 203.7"/><path class="s" marker-start="url(#m15)" marker-mid="url(#m15)" marker-end="url(#m15)" d="M311.4 165.6 335.1 193.1 282.2 170.0 263.4 142.2 254.7 176.6 291.1 179.5 287.5 148.5 346.9 166.3 303.3 177.2 296.4 167.7 291.4 191.0 256.2 173.4 294.6 164.5 314.8 162.0 323.4 189.3 271.4 188.4 324.6 151.6 319.0 190.2 268.7 173.7 343.0 188.0 291.7 154.4 302.2 167.8 310.1 175.3 309.4 185.5 294.4 182.2 261.3 163.9 268.0 174.7 357.6 185.7 258.3 156.3 276.3 173.3 323.6 174.8 288.4 152.3 288.4 160.7 316.6 157.2 277.0 178.0 314.6 182.9 302.4 172.5 338.4 186.0 262.9 194.3 309.5 162.8 270.7 179.4 318.3 161.4 298.4 179.7 342.7 210.5 298.0 166.6 297.3 173.4 282.7 185.5 277.6 172.3 232.9 174.5 292.7 153.5 294.7 182.5 245.7 169.3 329.9 174.1 297.2 190.7 306.0 170.1 315.4 176.9 298.9 170.5 280.8 181.6 334.2 185.1 334.1 190.9 317.0 188.8"/><path class="s" marker-start="url(#m16)" marker-mid="url(#m16)" marker-end="url(#m16)" d="M294.3 170.2 304.8 164.7 262.7 183.2 291.6 182.3 326.2 166.5 279.7 156.5 353.1 178.4 278.5 191.8 299.5 148.4 227.6 142.4 304.2 169.9 299.1 165.3 320.4 170.4 321.7 189.9 292.5 157.8 302.4 137.0 284.4 166.2 290.5 178.4 279.0 153.2 322.7 189.5 302.4 172.5 299.1 166.8 320.9 177.6 295.9 158.8 297.3 160.7 309.7 156.5 303.9 169.8 243.5 148.4 280.0 180.5 316.4 165.9 309.8 180.7 265.4 141.6 308.2 166.8 285.7 144.4 273.3 158.2 274.5 161.2 285.7 156.2 312.7 169.1 311.1 170.3 259.0 155.1 294.6 156.7 317.2 160.1 250.0 166.8 304.0 149.6 296.5 143.9 263.7 135.7 303.7 184.3 372.6 177.5 291.9 128.1 334.7 164.0 273.8 178.0 308.4 165.8 247.6 151.3 311.9 174.0 291.8 143.1 297.4 159.7 320.5 186.8 262.7 155.9 298.6 186.4"/><path class="s" marker-start="url(#m17)" marker-mid="url(#m17)" marker-end="url(#m17)" d="M345.9 182.6 319.9 165.8 309.6 162.5 291.4 138.1 316.4 179.5 328.9 175.0 294.0 147.8 330.9 170.3 264.8 129.5 339.9 166.0 271.3 165.7 271.2 151.5 321.4 158.0 296.8 150.2 299.7 157.4 312.0 157.6 310.9 165.7 317.6 154.3 310.6 147.6 261.2 173.5 246.9 146.3 328.8 160.6 277.4 150.0 300.6 146.6 306.9 165.1 321.6 169.3 281.0 174.4 295.8 146.5 301.0 146.5 314.1 168.9 274.1 133.4 312.7 162.2 273.1 127.1 268.0 146.7 319.7 148.8 269.8 173.5 280.2 123.5 309.7 163.5 347.8 188.0 307.9 147.4 267.5 154.2 244.2 135.6 284.6 179.6 353.2 156.4 312.9 158.0 288.3 142.9 281.3 127.1 296.7 157.1 217.3 154.4 325.3 172.6 319.9 155.5 296.9 174.4 311.8 161.3 266.5 133.7 281.9 159.2 269.1 156.2 308.0 160.4 264.9 142.8 286.8 147.8 289.2 138.1 308.8 161.1 262.4 147.1"/><path class="s" marker-start="url(#m18)" marker-mid="url(#m18)" marker-end="url(#m18)" d="M345.2 146.6 304.2 181.4 280.9 142.3 294.6 125.7 325.6 141.0 303.2 137.4 313.9 160.2 293.5 146.9 314.0 152.6 323.4 155.3 278.9 121.7 305.8 131.0 315.4 141.4 297.4 156.9 309.4 133.5 281.1 138.2 312.4 172.2 284.7 121.6 302.9 155.1 294.7 139.4 289.2 122.0 284.3 124.1 285.0 157.0 327.0 148.6 275.0 139.9 322.7 151.6 297.0 163.3 275.0 108.1 284.5 135.4 287.6 164.8 300.6 138.4 305.7 138.0 298.9 138.9 305.3 144.2 293.7 127.9 324.3 156.7 327.7 155.6 296.4 133.9 289.3 117.7 321.0 156.5 302.9 159.7 320.3 145.0 315.4 149.0 321.0 148.1 329.7 138.7 271.9 126.1 266.9 126.3 247.6 124.6 260.9 100.7 302.1 137.3 306.2 138.7 300.8 128.4 324.4 147.9 301.5 152.8 339.9 179.9 298.5 142.4 294.1 143.8 298.7 162.7 308.1 124.1 321.0 136.3 305.3 139.0 261.0 136.7 309.1 152.1 302.5 152.6 311.1 132.9 277.7 128.2 309.7 149.6 332.3 169.0 313.5 148.3"/><path class="s" marker-start="url(#m19)" marker-mid="url(#m19)" marker-end="url(#m19)" d="M289.9 119.7 303.9 146.3 261.9 137.8 273.7 138.1 306.0 137.1 326.8 139.6 295.8 143.9 278.9 126.5 228.2 101.9 279.1 134.2 300.9 133.4 283.9 136.1 306.1 135.5 300.7 120.4 328.9 154.0 217.5 116.8 289.4 147.3 285.0 131.1 264.6 158.3 302.7 127.5 308.2 134.2 291.0 112.5 288.4 145.5 301.0 120.5 287.5 131.6 308.8 135.9 314.8 134.3 338.3 168.8 306.9 130.5 290.0 126.6 268.1 113.3 312.7 133.9 325.7 148.4 299.5 129.6 305.0 132.5 291.4 130.2 267.1 120.4 257.8 130.3 309.8 114.0 286.3 112.1 256.9 134.2 301.5 125.3 295.8 147.2 325.6 145.7 262.6 115.9 288.3 87.4 287.4 120.1 307.9 126.4 332.7 146.1 293.3 151.0 294.1 124.4 308.5 128.4 275.2 131.7 294.4 133.4 329.4 144.1 314.6 128.3 277.3 131.6 303.1 154.0 338.2 163.4 291.6 111.4 284.2 123.6 234.5 103.3 278.2 136.2 336.8 169.4 295.2 130.6 304.2 140.7 284.3 116.5 322.1 140.2 185.0 132.6 282.4 118.5 241.0 130.2 207.4 147.3 291.3 132.5 306.1 127.5 269.2 118.1 273.0 139.3 310.6 121.8 303.3 130.0 295.9 131.6"/><path class="s" marker-start="url(#m20)" marker-mid="url(#m20)" marker-end="url(#m20)" d="M278.9 124.9 299.8 126.3 217.9 130.7 250.9 122.5 273.8 133.2 294.5 109.4 342.9 155.3 277.3 105.5 323.0 146.6 257.5 115.6 265.6 104.5 297.7 121.2 283.1 99.4 276.2 119.8 323.3 139.9 289.6 127.0 306.4 122.8 254.2 124.5 280.1 136.9 320.5 145.6 291.9 149.2 305.7 124.2 291.3 126.9 299.0 116.9 296.4 110.2 301.1 148.4 304.0 127.5 273.8 129.7 340.2 132.2 313.2 129.6 296.9 119.9 313.0 140.9 309.2 140.8 277.1 109.4 326.7 146.2 306.5 105.8 295.1 114.6 294.1 123.7 335.0 126.1 303.6 132.0 298.1 130.4 303.0 117.8 289.5 109.5 306.0 113.6 309.1 134.7 320.7 128.3 297.4 121.1 327.7 131.6 259.4 78.9 297.2 119.4 310.6 119.2 272.5 86.6 298.8 125.7 286.2 103.0 323.2 130.7 306.6 112.2 308.3 141.4 254.6 131.9 312.5 120.0 275.5 128.4 346.4 138.4 320.3 144.9 296.6 130.9 293.1 111.5 303.5 108.4 297.4 107.7 302.6 120.4 303.0 119.9 308.7 131.6 292.4 146.7 279.7 110.6 338.7 145.9 313.0 119.7 297.5 123.5 297.1 110.3 337.0 139.2 325.7 141.0 308.0 139.5 302.8 129.2 305.5 120.6 288.4 121.6 301.9 148.4 307.8 107.0 294.4 125.6 308.1 114.9 325.1 117.3 252.6 107.4 283.8 104.3 301.1 118.5 296.8 122.6 283.4 115.6 267.7 108.7 302.6 103.8 321.6 147.5 294.1 115.5"/><path class="s" marker-start="url(#m21)" marker-mid="url(#m21)" marker-end="url(#m21)" d="M254.4 88.8 275.3 100.6 304.5 112.4 226.3 116.3 299.4 113.0 228.2 113.9 304.0 106.7 297.5 132.7 283.3 99.2 295.5 117.1 333.3 129.4 331.3 133.7 257.9 112.2 295.5 124.5 280.7 114.1 309.4 120.5 296.5 105.1 261.3 117.4 298.2 99.4 304.3 106.8 318.2 150.3 327.1 127.5 264.8 87.0 307.8 121.3 270.8 98.9 284.4 127.2 290.6 109.6 311.3 117.9 295.9 111.0 288.4 109.2 273.7 86.8 271.4 98.0 311.8 117.4 283.3 89.4 272.7 95.0 325.1 108.4 219.8 118.4 279.1 122.7 279.0 98.2 288.5 105.2 294.1 89.2 319.7 106.5 288.6 124.4 281.4 80.7 311.8 129.1 312.3 117.3 321.8 119.9 281.8 123.9 273.4 115.4 266.3 112.7 274.1 123.0 320.9 131.4 277.3 114.3 303.7 108.8 272.6 121.4 293.7 130.9 302.3 113.2 301.5 112.5 302.0 120.5 316.4 125.8 291.8 101.3 279.9 106.0 309.7 137.1 273.7 93.2 286.4 113.0 302.8 109.7 291.6 104.0 278.0 95.3 237.2 111.5 314.6 136.1 255.1 97.7 300.9 103.9 284.5 106.0 308.7 120.7 298.5 100.8 319.7 137.5 299.4 105.5 286.9 90.9 251.6 96.7 269.0 123.7 292.3 123.5 269.6 99.1 258.1 119.4 308.0 123.2 290.8 118.6 329.7 102.6 285.0 98.9 286.6 108.2 291.1 108.8 308.6 114.6 291.5 124.9 307.5 127.0 318.5 138.2 333.4 146.2 333.1 118.5 258.8 103.8 284.3 95.3 305.8 111.2 299.6 102.2 274.0 104.4 291.7 101.1 288.0 114.4 305.0 109.7 301.3 100.6 279.5 112.2 260.0 110.3 293.2 103.3 272.3 109.2 299.3 111.8"/><path class="s" marker-start="url(#m22)" marker-mid="url(#m22)" marker-end="url(#m22)" d="M291.3 93.1 309.7 101.2 293.2 127.4 337.7 133.5 308.2 98.3 299.8 116.2 286.9 99.9 280.2 119.0 282.5 115.7 296.8 92.4 283.1 120.3 334.4 125.7 310.2 103.9 303.3 104.7 247.7 94.6 307.3 111.3 272.2 88.6 255.7 91.4 321.5 103.5 278.2 95.3 261.1 89.9 285.0 92.3 311.3 108.5 282.2 96.9 303.8 116.8 316.1 115.6 301.7 110.9 272.5 82.3 270.2 93.3 257.5 65.0 275.7 110.7 297.1 105.1 280.3 82.7 289.4 90.8 298.1 100.8 281.1 100.9 304.8 118.0 254.8 84.7 247.7 113.5 273.4 75.5 290.5 102.7 289.6 96.5 311.7 113.1 271.0 88.0 296.9 120.7 285.3 93.4 292.0 91.7 311.8 107.3 288.5 95.8 326.2 110.9 285.4 83.9 334.4 114.9 281.1 81.8 273.0 82.8 275.4 109.6 303.2 87.8 290.1 89.8 287.5 80.5 321.4 109.5 313.7 124.5 302.1 111.1 277.7 115.6 256.4 71.7 297.0 115.7 332.5 117.2 306.4 113.0 262.8 86.3 300.3 106.7 283.8 104.2 300.1 110.1 275.1 87.4 295.6 120.9 268.3 77.5 259.5 96.2 339.3 134.0 310.4 103.0 296.2 97.6 292.8 100.9 274.1 84.4 314.7 119.6 279.3 105.5 321.9 109.3 294.7 97.3 276.0 78.5 276.9 79.6 259.6 68.6 307.1 98.6 338.8 128.6 302.3 112.9 291.7 85.5 280.1 82.4 299.3 105.7 329.5 118.0 277.3 87.4 308.2 119.5 257.6 107.8 298.4 99.5 291.8 93.1 308.7 87.8 292.7 99.0 295.8 113.3 314.6 113.3 338.6 131.0 311.9 115.5 255.6 93.3 282.4 108.8 280.4 88.3 276.8 91.5 276.9 98.5 277.8 93.2 331.5 123.0 284.1 112.8 300.9 96.7 299.5 101.4 259.5 93.6 292.4 93.2 314.7 103.5 256.4 77.6 287.0 103.7 318.6 123.8 282.2 103.9 309.6 121.8 288.5 108.7 278.1 88.4 286.2 104.7 311.2 127.2 295.7 104.5 315.6 109.7 280.7 102.6 299.1 100.8 321.5 103.6 269.4 72.7 311.5 113.4 291.7 97.0 286.4 113.7 286.1 102.2 277.2 85.1 262.9 91.7 306.9 117.3 290.8 100.6 290.0 101.5 298.5 91.9 305.7 114.3 260.0 96.0 252.0 95.8 318.7 125.1 257.5 92.7 287.5 87.9 299.3 103.4 310.1 107.0 311.9 121.0 322.6 115.8 295.2 98.7 251.6 81.1 310.7 122.6 294.6 94.2 297.8 87.0 315.6 123.0 308.5 117.1 262.5 84.4 315.8 106.3 266.0 90.3 288.2 104.8 287.9 103.0 262.8 87.6 325.1 125.3 297.3 107.7 277.0 83.0 320.0 103.4 252.0 96.5 310.1 112.0 338.5 124.1 294.5 107.2 258.2 67.7 285.5 123.3 294.8 86.8"/><path class="s" marker-start="url(#m23)" marker-mid="url(#m23)" marker-end="url(#m23)" d="M301.8 76.6 319.7 97.2 336.5 90.5 294.6 83.7 305.9 92.9 281.1 90.6 295.3 82.2 303.6 98.8 323.1 124.2 294.5 94.0 289.0 79.6 299.5 96.6 255.9 82.0 320.0 113.8 282.4 73.5 322.3 122.8 300.7 88.3 303.1 94.5 284.0 90.9 294.2 74.4 286.6 81.7 337.7 122.7 275.9 88.2 293.4 91.1 262.7 46.1 252.9 83.6 297.6 91.1 261.3 58.6 239.9 60.9 239.3 66.2 286.1 88.4 271.2 66.7 320.2 123.9 304.4 98.3 326.4 109.6 304.2 93.2 288.0 83.7 251.0 66.2 318.1 116.7 298.0 85.4 237.4 107.0 257.6 64.9 310.4 102.0 288.6 80.8 311.1 86.9 260.8 76.0 284.3 75.2 288.7 82.6 277.3 80.8 274.8 81.3 308.8 101.4 317.8 112.9 275.5 88.1 313.9 98.0 287.8 82.8 289.8 106.2 291.6 87.7 266.8 88.8 275.2 93.4 325.8 119.6 283.3 95.2 289.9 71.7 301.7 101.4 290.9 105.2 293.3 88.9 299.7 95.9 294.2 102.1 290.5 108.1 284.1 73.2 278.1 100.0 266.4 70.3 302.4 102.1 331.1 76.3 309.0 109.6 258.9 75.6 286.3 78.4 288.8 89.9 320.1 113.6 267.5 79.7 282.1 89.8 263.9 63.7 240.2 71.4 296.4 104.6 286.3 86.8 277.6 84.4 340.1 102.0 281.9 74.5 262.4 74.9 282.6 105.6 314.2 100.3 240.3 58.4 292.0 103.7 309.8 86.3 295.0 82.9 285.4 73.5 271.5 94.0 273.7 77.0 247.4 60.0 284.5 79.8 302.1 108.6 319.4 109.3 296.6 83.9 289.9 85.1 272.6 69.8 324.5 77.8 310.4 106.9 292.8 88.0 331.6 123.6 297.0 110.0 286.8 73.8 289.2 95.2 310.9 94.9 306.6 99.9 262.4 72.2 307.0 113.5 325.8 121.1 274.4 84.9 291.9 90.6 289.3 77.2 273.4 80.7 267.7 82.9 295.1 99.5 329.4 106.0 260.1 64.8 292.9 98.0 283.3 75.3 277.6 63.6 309.0 115.1 308.5 116.6 246.0 79.1 288.7 84.9 294.3 80.5 276.4 91.6 308.5 83.2 294.3 82.2 271.9 85.4 325.3 111.4 313.4 114.7 285.3 71.1 324.0 120.9 298.2 98.5 317.9 112.3 273.6 78.8 264.2 81.2 280.1 66.3 265.3 89.1 254.7 76.8 320.9 113.5 298.8 82.4 298.5 96.6 291.6 104.3 286.1 96.5 323.4 123.9 293.0 106.0 266.9 74.6 305.3 106.7 309.6 97.8 273.3 63.3 303.1 83.5 257.2 96.6 273.7 94.6 311.4 101.1 316.5 115.0 313.8 75.4 237.8 88.0 280.9 93.3 294.0 76.5 264.2 93.6 297.8 85.1 289.8 78.6 286.0 83.8 294.8 87.2 305.5 102.2 273.0 71.7 273.8 84.7 273.6 73.2 293.4 107.9 292.3 99.3 257.9 74.4 287.1 90.2 290.1 107.0 305.1 94.9 268.1 68.1 282.8 104.0 302.0 93.1 294.1 103.8 316.8 117.8 303.5 93.2 243.7 61.8 261.7 77.9 322.8 111.1 273.6 111.4 332.7 109.5 279.4 67.7 248.9 70.7 277.8 67.3 323.6 111.7 274.3 70.5 261.7 84.3 269.8 71.6 277.2 77.5 280.3 96.1 316.4 101.2 309.1 93.3 250.3 83.2 309.9 99.6 267.2 82.3 278.7 69.6 277.8 81.9 278.7 73.2 303.4 107.0 258.1 73.2 283.8 93.2 306.6 117.6 262.9 65.2 319.1 92.8 276.2 81.4 283.3 107.6 276.5 89.4 295.6 98.7 252.7 70.4 261.7 72.6 292.1 101.1 309.6 108.5 268.2 78.0 284.1 95.8 286.2 78.0 275.7 64.4 277.6 76.0 310.6 87.5 312.3 110.8 257.7 95.7 290.9 98.0 273.0 57.9 291.8 90.5 290.9 85.8 281.0 70.6 279.0 76.8 309.8 100.3 323.1 89.3 323.1 113.7 290.7 89.3 298.2 75.2 273.0 75.8 275.0 100.4 313.7 101.8 300.3 97.3 315.2 103.2 304.7 100.1 296.7 81.1 272.8 95.9 260.2 74.7 309.6 95.6 247.3 78.5"/><path class="s" marker-start="url(#m24)" marker-mid="url(#m24)" marker-end="url(#m24)" d="M289.0 79.5 277.1 52.6 290.8 54.5 273.1 63.3 257.9 69.9 285.3 72.0 277.0 61.4 296.1 89.1 282.5 66.3 313.2 102.3 288.7 80.5 301.8 77.0 315.3 99.4 303.9 84.7 296.5 99.4 275.9 77.1 286.5 57.9 266.7 79.9 292.8 70.3 300.1 83.4 277.3 83.9 298.4 75.0 295.4 95.4 308.0 98.2 272.5 73.3 335.1 108.4 282.2 60.4 269.4 70.3 262.2 71.5 282.6 79.1 298.8 86.2 277.3 66.4 260.9 45.5 285.6 76.1 272.8 84.0 289.1 74.0 302.1 75.6 247.9 54.3 233.8 53.8 265.7 68.9 243.8 50.2 264.7 67.9 284.4 61.4 261.6 55.9 287.6 94.3 320.6 95.5 267.3 71.9 284.2 63.3 295.2 77.2 321.2 107.7 256.6 57.6 318.2 89.0 308.7 89.3 270.3 56.2 317.3 86.3 278.5 82.9 333.1 116.9 299.7 88.5 282.9 76.2 245.7 65.8 295.0 80.8 284.4 78.6 284.1 75.0 283.5 73.7 307.0 93.8 300.8 83.7 281.1 63.5 252.1 63.2 314.5 75.1 279.9 76.5 286.0 72.8 317.0 100.7 294.2 80.7 285.6 61.7 268.0 59.4 273.2 53.5 286.4 77.6 303.1 102.4 271.3 81.0 250.3 39.6 257.4 51.4 234.4 45.5 290.6 75.3 316.5 95.2 322.7 104.2 255.5 52.5 268.5 62.4 267.7 67.6 302.6 89.8 264.8 69.7 285.7 81.6 308.2 91.3 271.7 63.7 288.6 69.7 279.4 80.3 286.2 63.9 276.2 73.7 274.2 74.8 298.8 77.3 298.3 95.0 238.3 63.6 255.9 68.8 248.2 58.1 225.7 50.3 290.7 73.3 290.6 67.7 282.6 65.6 233.3 44.5 255.1 65.0 299.5 89.0 279.4 61.9 304.2 116.2 284.8 69.6 306.8 73.5 241.0 48.2 295.2 71.9 249.6 54.3 233.6 76.8 256.7 54.7 298.7 82.8 288.0 81.6 321.4 114.8 271.3 60.6 320.1 89.1 285.7 74.1 282.8 87.7 278.1 82.8 303.7 93.3 307.7 92.2 270.1 55.2 244.5 55.7 284.0 71.6 277.4 71.8 278.6 58.0 286.2 70.3 286.0 79.8 259.0 45.9 274.9 82.7 294.8 77.0 259.4 64.4 275.3 72.6 276.8 69.6 291.2 70.6 268.4 76.9 296.6 82.7 259.3 43.1 300.5 90.0 281.3 81.6 300.3 88.0 287.4 72.0 297.8 100.1 298.5 97.6 254.7 63.9 304.5 89.8 243.7 70.0 282.0 73.9 275.9 81.3 290.5 80.7 296.1 95.8 239.0 66.5 318.8 100.4 306.0 88.3 288.8 86.6 306.8 79.2 296.4 87.4 248.9 55.0 259.5 59.5 275.8 83.7 254.1 60.6 297.1 82.7 280.4 81.1 295.3 69.9 289.5 93.7 261.2 75.9 285.0 69.8 260.8 57.1 275.6 74.1 266.7 70.2 250.0 71.5 247.2 54.7 254.4 68.4 294.3 83.0 304.0 90.8 303.9 84.9 277.2 65.8 294.0 80.6 232.5 50.5 279.3 63.9 252.4 53.1 279.3 74.1 244.2 55.3 297.5 85.1 292.0 98.9 281.3 55.8 297.9 80.5 312.5 92.8 262.1 55.5 313.5 105.3 311.0 91.1 244.6 61.1 268.8 70.0 288.0 76.5 258.7 78.8 299.8 85.1 273.7 58.7 282.8 78.9 289.6 73.1 266.7 55.0 295.5 83.3 310.2 90.4 276.2 86.8 274.7 82.1 296.0 81.9 324.4 110.1 316.7 89.2 320.3 114.2 287.7 72.2 258.7 63.4 251.8 61.3 255.0 64.1 271.6 74.2 296.5 93.6 278.9 66.4 278.1 79.7 282.7 59.3 276.8 75.0 317.5 84.1 300.2 79.2 300.4 75.5 319.3 105.4 287.0 95.7 286.0 88.2 295.8 83.9 270.0 76.3 244.4 38.8 296.5 76.9 298.2 77.2 316.4 98.5 298.6 85.8 293.1 81.1 255.1 57.2 281.0 73.3 259.0 62.0 289.9 56.7 290.9 75.9 284.0 84.8 269.7 68.5 257.0 59.4 286.7 74.0 309.6 82.1 235.6 51.1 306.0 93.7 238.5 43.4 305.5 88.3 284.3 64.8 311.3 91.6 299.4 94.0 300.9 80.7 326.7 103.2 287.7 70.4 285.5 70.6 306.1 99.7 304.0 89.4 287.1 88.5 301.2 84.4 274.7 71.0 260.8 57.7 280.4 58.1 311.7 100.0 274.8 61.1 322.1 107.5 309.7 101.2 281.7 65.9 284.0 75.3 279.0 61.6 256.0 44.3 291.9 83.4 260.0 51.2 242.0 39.7 261.8 67.5 258.4 81.9 255.4 54.7 288.8 70.5 256.2 59.0 291.8 64.7 263.4 73.9 289.8 94.6 283.1 75.3 263.3 64.4 276.1 72.0 250.9 56.9 244.4 52.1 285.9 68.1 313.2 96.5 264.7 67.4 278.0 72.9 254.5 65.2 267.8 79.4 293.2 81.1 263.4 59.6 286.7 71.4 330.9 114.2 306.2 102.8 282.1 73.5 277.7 88.0 298.7 67.5 294.1 101.4 313.9 108.1 280.7 74.4 299.9 88.1 284.8 61.9 277.6 71.3 295.1 75.2 310.2 93.0 234.1 40.2 327.5 117.1 291.3 64.5 267.0 72.5 281.2 67.5 299.4 87.2 305.2 86.4 243.0 37.4 304.8 92.5 253.7 56.5 306.0 89.7 293.5 68.5 303.2 83.7 293.0 88.8 288.8 75.6 313.4 104.6 304.3 78.5 248.6 61.7 282.3 77.6 219.9 48.2 291.1 82.4 244.6 65.6 269.5 71.9 248.2 55.5 297.6 91.0 310.1 100.1 260.2 51.3 305.7 79.7 300.0 94.3 314.0 102.9 287.6 74.2 266.4 60.3 269.0 71.8 278.4 66.8 269.3 59.4 290.2 96.5 315.0 91.2 269.2 69.2 252.9 66.0 267.3 67.3 260.6 61.2 245.1 47.5 287.0 80.0 298.3 85.1 305.7 100.6 279.0 68.6 300.5 93.9 305.5 86.0 249.8 62.7 273.2 79.1 321.7 110.6 267.8 53.2 291.1 75.1 249.5 44.5 329.5 98.4 266.9 67.7 275.0 76.0 263.9 55.7 293.2 86.4 289.2 79.1 283.2 72.6 296.9 86.1 292.2 73.8 278.8 64.1 248.6 64.2 262.4 70.7 272.8 73.6 245.9 58.9 291.7 76.4 271.2 69.2 291.6 83.0 281.9 68.0 284.3 65.6 252.2 55.6 314.0 97.2 257.0 66.6 270.3 58.4 270.3 69.2 282.4 62.9 297.7 105.8 289.4 70.6 283.0 68.2 292.8 83.0 276.6 66.9 286.2 70.7 306.1 79.6 290.9 69.1 306.4 80.7 263.5 78.1 266.0 59.6 278.8 74.4 288.6 66.2 286.2 80.9 289.8 89.6 298.6 93.3 281.4 78.9 290.4 80.4 278.4 53.6 277.1 90.1 282.0 73.5 280.3 85.2 286.0 87.4 272.2 57.7 272.2 89.0 274.9 80.1 308.3 89.7 285.2 69.6 256.1 65.6 239.9 53.0 264.0 64.6 254.4 51.8 275.6 75.3 249.7 69.6 300.2 89.0 310.6 79.4 290.0 78.4 273.2 79.0 284.1 71.6 267.8 48.7 267.8 69.8 259.0 61.5 280.8 72.2 286.9 73.5 280.4 75.6 284.7 85.0 281.9 65.5 306.6 86.2 282.8 59.6 264.8 75.4 305.8 80.5 272.9 82.2 250.1 61.3 306.0 100.5 260.8 73.6 290.2 80.6 311.4 99.5 314.3 110.1 310.3 93.6 270.0 77.2 318.2 108.3 254.8 65.7 284.8 77.8 309.0 87.0 295.6 95.4"/><path class="s" marker-start="url(#m1)" marker-mid="url(#m1)" marker-end="url(#m1)" d="M319.6 338.8 186.7 337.8 266.2 335.0 367.2 355.5 314.0 339.3 334.3 322.4 261.2 353.5 246.2 342.6 280.0 352.3 341.8 344.6 252.5 353.4 297.7 328.9 377.4 337.0 230.3 345.9 356.7 321.6 311.6 352.3 318.3 332.6 168.1 352.0 284.6 344.8 325.4 334.4 361.7 337.4 329.6 322.0 397.0 344.1 307.1 328.3 301.0 328.9 342.8 343.8 307.0 336.4 262.4 324.9 264.2 351.6 376.2 314.5 358.6 327.2 413.4 332.3 336.4 307.2 263.9 355.5 334.2 345.1 314.9 332.5 310.9 339.3 326.8 342.3 301.3 331.2 346.1 329.1 315.4 343.7 269.1 323.7 298.5 331.0 261.1 330.8 282.0 347.6 258.1 350.7 263.7 323.0 269.7 341.5 265.2 349.9 311.9 353.9 358.9 335.8 166.6 344.0 266.2 347.9 333.3 341.0 353.5 327.2 326.5 351.7 302.4 334.4 317.0 329.9 293.8 359.5 355.7 329.8 262.6 339.2 353.7 336.9 286.4 334.1 297.4 336.9 254.7 340.9 274.6 340.3 300.6 343.0 369.6 315.5 381.0 336.7 244.0 341.5 277.7 342.8 393.8 338.7 232.9 322.9 212.9 349.9 336.3 334.6 282.4 341.9 416.1 334.3 316.3 342.5 388.5 344.1 407.7 332.1 377.7 338.3 299.4 333.8 284.6 330.6 314.8 333.0 208.7 325.4 320.1 334.8 231.1 350.7 342.5 344.4 217.4 331.9 215.9 343.3 255.8 341.2 368.7 343.7 326.4 343.4 348.6 333.8 255.5 332.6 312.5 342.5 350.1 336.4 381.5 326.8 325.6 329.3 292.7 333.8 247.1 339.6 352.0 341.4 369.5 345.2 310.2 347.0 303.8 339.6 300.7 363.8 267.3 330.6 214.6 323.3 348.3 323.7 378.0 327.2 252.8 348.3 343.9 344.0 346.0 319.2 399.5 329.0 361.6 330.6 249.4 313.4 309.5 332.2 293.8 339.8 342.5 315.3 296.4 347.3 301.6 339.4 343.7 345.0 306.7 325.6 291.9 349.5 294.6 336.3 300.0 338.3 400.5 325.1 358.4 341.3 374.4 338.0 389.9 331.5 352.8 322.1 272.5 327.7 276.4 356.3 193.4 342.9 347.5 333.3 319.5 338.7 273.4 352.2 235.8 336.1 313.9 313.7 265.2 352.2 287.8 334.4 265.9 339.3 278.1 328.0 319.4 342.0 263.9 354.6 258.8 337.1 311.9 347.7 319.0 325.6 280.3 334.7 337.2 324.7 310.9 341.0 242.8 348.0 228.2 337.0 302.7 335.1 283.2 337.6 263.3 345.3 286.8 347.0 315.2 342.8 344.7 337.8 265.0 363.6 380.4 328.9 256.6 320.2 327.5 337.4 256.2 350.0 359.9 336.2 234.5 349.9 303.0 356.3 372.2 338.6 382.3 324.2 320.2 325.1 395.1 338.6 298.4 327.8 254.5 335.2 275.7 317.5 348.9 334.2 282.5 329.1 280.0 333.9 309.5 331.4 280.5 335.7 373.7 343.4 320.6 340.7 322.5 337.5 195.1 344.9 367.5 327.0 299.7 347.7 188.0 327.5 349.7 336.7 354.3 341.6 284.1 313.9 329.2 335.0 185.3 319.5 289.4 351.0 325.9 333.8 366.6 344.1 270.1 319.9 238.4 353.5 296.0 334.9 277.2 353.0 259.1 331.7 345.1 332.1 248.6 347.9 402.5 345.7 201.7 347.0 412.3 338.9 313.6 331.6 263.7 339.0 229.0 339.1 250.4 337.6 262.1 341.6 332.1 324.4 361.1 304.8 285.5 335.5 274.1 331.4 282.1 351.2 393.4 320.0 268.5 340.6 307.2 340.8 295.0 336.2 323.8 345.9 335.4 323.3 337.7 342.7 313.2 340.5 309.6 347.3 318.1 347.8 222.0 343.9 428.6 337.5 335.7 345.9 351.4 337.4 183.2 333.3 295.6 326.0 274.6 369.4 387.9 339.9 380.1 330.4 252.3 331.4 356.1 308.7 310.6 352.3 285.4 325.6 306.2 320.1 301.9 340.6 297.7 324.1 378.3 321.1 325.8 336.0 263.4 329.2 357.9 324.6 227.4 341.0 256.4 346.4 306.8 336.8 358.0 329.6 278.9 329.3 355.8 329.9 341.1 326.7 312.4 341.3 374.5 331.4 300.7 345.0 295.6 316.0 388.7 328.2 225.1 325.8 279.6 346.5 312.1 345.8 285.4 331.6 285.6 317.9 260.7 323.7 356.4 328.4 295.8 324.8 362.3 353.0 346.0 339.9 302.5 326.5 246.1 342.1 395.5 333.1 347.7 336.2 318.7 335.2 335.7 351.2 357.5 343.1 297.0 343.4 252.0 320.2 345.2 349.4 296.9 322.6 150.5 340.7 282.4 339.1 404.6 350.9 430.4 322.3 283.2 332.2 332.1 329.3 301.7 336.5 324.8 336.3 444.4 306.9 340.3 345.3 231.1 326.3"/><path class="s" marker-start="url(#m2)" marker-mid="url(#m2)" marker-end="url(#m2)" d="M282.7 346.5 278.0 339.1 266.6 332.7 293.1 341.8 273.2 331.4 309.7 311.3 362.2 337.3 325.9 296.4 342.6 310.7 263.9 310.4 339.1 315.1 364.9 318.0 356.9 335.5 369.0 321.7 280.9 331.1 223.4 330.8 340.5 318.1 309.6 321.5 278.8 308.2 265.1 337.3 242.9 325.2 323.4 323.0 293.0 317.6 312.5 335.7 327.5 309.6 302.8 318.0 274.5 320.5 239.7 325.2 242.3 317.0 250.4 326.1 322.8 330.4 332.0 332.0 289.0 313.8 371.0 331.1 335.8 324.2 373.5 340.8 357.8 332.4 327.0 330.2 306.1 331.5 259.1 327.0 304.1 308.6 236.6 331.0 322.8 301.5 324.4 325.6 323.2 339.4 356.1 335.3 323.9 298.1 350.6 321.5 311.3 307.5 304.2 333.3 294.4 339.3 321.6 312.4 286.4 305.3 332.2 326.8 269.4 307.5 307.4 328.1 322.1 345.4 247.1 331.3 369.2 325.2 307.7 329.2 201.6 325.4 289.0 311.2 290.9 308.0 330.8 324.5 309.7 331.8 347.1 333.7 304.4 320.9 248.9 330.2 321.6 333.1 293.8 330.8 249.9 315.8 277.6 318.6 330.0 310.3 365.2 332.5 348.4 314.5 357.1 328.1 340.7 326.9 318.8 332.6 261.2 313.3 232.8 328.6 306.5 325.0 305.4 317.8 325.6 335.6 354.5 312.4 319.9 328.2 328.5 320.9 249.7 330.2 325.5 326.8 333.2 332.3 269.1 330.3 347.6 314.4 287.2 321.1 360.2 324.3 317.3 329.8 282.7 326.4 193.5 344.3 273.8 323.3 309.4 323.1 290.6 325.7 319.8 309.8 273.3 327.5 326.5 331.7 209.4 316.0 266.7 323.7 245.6 322.1 288.0 324.3 286.5 315.5 340.6 326.9 314.3 334.8 268.8 333.2 285.7 319.3 297.2 331.6 284.3 329.6 277.0 334.9 361.9 334.4 344.8 345.5 287.9 333.7 289.0 340.5 336.7 326.1 220.8 329.1 292.8 310.6 364.4 321.2 311.3 314.3 342.7 317.2 304.8 309.0 216.6 339.3 351.0 327.2 314.7 327.2 323.8 310.2 217.1 314.1 371.7 315.7 326.3 339.1 343.8 327.5 336.6 312.9 305.8 323.6 305.7 323.2 325.1 335.0 257.8 321.9 324.1 304.4 316.0 321.1 204.7 286.6 298.5 302.4 391.9 312.2 289.4 313.1 279.0 311.7 322.5 324.8 283.7 323.3 338.1 336.0 308.5 312.9 256.2 326.9 288.4 323.7 423.8 317.9 286.7 321.5 260.2 310.5 266.0 328.5 321.9 331.7 287.7 329.3 325.0 309.0 296.1 340.0 338.2 325.7 343.5 317.6 286.7 315.9 328.3 332.0 284.4 323.6 336.3 336.6 359.8 319.2 331.2 318.4 211.3 342.1 261.7 342.7 298.4 336.7 302.3 322.0 234.3 331.7 279.4 331.7 402.0 316.0 352.6 316.1 298.8 310.4 240.9 321.0 419.5 325.6 332.1 316.9 329.7 340.2 348.5 315.6 337.0 319.4 273.7 302.2 265.4 318.3 282.2 319.4 188.4 336.4 308.1 325.5 265.7 341.1 269.5 346.2 370.9 329.5 320.1 329.8 370.0 324.3 267.1 307.1 312.3 326.2 295.8 329.1 316.1 319.1 315.6 344.3 234.5 323.2 236.9 339.2 334.9 331.4 288.5 311.1 329.9 333.7 338.7 337.8 330.2 308.2 314.5 309.9 316.9 337.7 319.0 330.6 315.5 311.3 415.7 315.5 272.1 317.5 343.5 320.1 280.2 323.3 332.7 322.4 289.4 332.8 393.8 348.4 395.2 318.1 361.0 303.8 237.1 326.8 255.9 338.0 297.7 322.2 226.2 339.1 326.0 321.4 303.9 317.3 282.0 342.5 332.5 324.6 262.1 343.1 357.5 367.1 285.7 326.6 323.7 319.0 359.5 312.6 325.7 317.5 341.1 315.4 309.9 335.6 279.1 324.2 337.3 326.3 313.0 336.6 289.8 324.8 277.6 332.9 325.1 309.3 324.3 334.3 237.3 319.4 317.0 309.6 346.7 303.6 298.7 315.2 329.7 310.2 215.0 326.9 316.7 338.4 271.2 347.4 281.4 328.3 358.4 319.7 201.6 313.3 309.8 323.6 314.2 340.6 324.1 344.2 293.0 327.0 308.2 334.7 289.1 317.8 349.1 319.3 309.6 327.8 302.1 332.4 367.3 331.0 283.8 317.7 301.7 325.4 343.7 312.1 354.9 346.9 308.3 307.4 290.8 329.0 290.6 337.3 280.1 342.0 293.4 332.5 357.4 315.4 364.2 336.3 308.3 320.1 202.8 333.1 383.1 323.0 279.4 339.1 253.9 324.1 289.6 334.0 305.9 328.2 288.5 349.8 352.3 334.7 259.9 333.6 246.3 305.5 388.5 326.8 276.9 327.5 206.4 341.9 312.5 319.0 363.2 316.7"/><path class="s" marker-start="url(#m3)" marker-mid="url(#m3)" marker-end="url(#m3)" d="M309.0 303.6 280.4 290.7 235.8 304.9 326.9 302.9 308.5 308.5 316.8 301.6 267.8 337.8 216.5 310.4 330.0 330.5 256.1 306.2 295.0 309.9 333.1 302.8 331.4 303.5 320.0 330.2 315.0 307.8 284.2 311.2 285.1 299.0 324.8 321.7 300.6 303.1 276.3 309.6 248.9 311.4 355.9 318.9 301.6 302.5 310.7 310.7 288.9 320.0 262.3 323.2 339.4 320.4 233.2 286.6 312.6 320.4 342.4 333.2 347.1 302.4 353.5 322.4 260.1 309.2 241.8 295.6 339.0 311.7 333.0 320.4 280.9 285.3 272.0 310.2 323.4 290.0 336.4 321.5 305.2 314.3 314.8 334.0 308.1 301.2 304.0 326.2 369.7 329.5 355.4 321.4 298.1 290.1 343.7 318.1 357.4 312.4 322.0 317.1 224.3 321.4 336.9 311.2 252.5 325.7 307.7 306.2 322.3 309.1 281.6 312.7 310.6 303.4 295.1 318.9 342.8 316.7 330.8 308.8 299.6 321.1 334.5 314.6 306.9 335.7 293.1 307.3 315.1 299.3 316.4 313.3 329.2 306.7 310.3 289.3 284.9 308.9 270.1 304.7 270.7 332.3 288.5 306.6 317.1 315.5 301.9 334.7 363.6 321.5 220.3 302.2 335.2 321.2 300.9 299.6 320.5 317.3 341.4 323.6 313.8 326.7 308.7 307.6 323.7 322.5 285.1 310.8 295.1 292.1 271.9 307.8 322.7 332.0 269.2 304.3 310.8 310.6 267.8 301.7 282.3 304.0 261.7 310.8 332.0 317.9 291.0 307.9 263.0 322.9 298.5 305.3 301.2 307.5 270.7 324.4 313.8 290.9 290.5 296.2 283.1 305.5 360.8 316.6 304.9 307.2 291.9 321.1 305.9 326.6 318.9 315.5 280.2 313.3 309.5 298.5 341.4 314.4 264.1 299.5 285.3 301.6 323.8 311.2 303.9 301.4 281.1 298.5 290.5 316.2 291.7 299.6 323.5 313.1 307.1 314.2 325.9 328.0 330.3 320.3 307.1 311.1 323.8 298.2 293.5 290.2 234.9 312.5 275.3 307.1 328.4 335.1 325.6 309.7 307.0 287.9 221.9 329.0 336.4 318.3 272.3 315.8 305.9 307.3 305.8 313.2 284.5 296.3 293.4 292.8 333.6 323.6 312.5 327.3 283.2 323.7 317.3 326.4 326.1 296.8 233.5 312.8 302.8 294.9 314.6 318.7 279.0 320.3 293.8 308.8 217.3 324.3 257.5 288.8 332.7 313.2 316.8 306.6 338.1 310.8 307.1 300.5 311.5 304.7 295.5 338.4 336.9 315.6 303.7 304.2 273.4 331.3 286.7 307.3 239.8 288.5 340.0 308.0 344.5 314.1 350.6 330.7 307.2 311.4 344.5 312.5 290.2 298.6 285.5 310.5 293.7 314.4 321.4 324.5 271.4 307.6 325.7 314.9 343.2 300.8 322.0 315.4 324.5 294.3 285.6 313.8 313.9 321.8 287.2 311.7 343.1 322.4 337.4 325.2 254.4 312.0 334.1 310.1 299.5 333.1 272.2 323.2 280.8 322.6 230.3 300.4 358.4 327.6 288.5 306.6 285.3 337.7 325.0 317.7 284.7 319.6 323.1 307.6 250.5 316.4 331.8 311.0 302.7 301.9 260.4 322.0 231.1 316.9 315.3 323.1 277.0 324.2 331.8 318.5 266.0 293.5 310.1 306.9 357.0 322.9 259.6 314.1 283.6 311.4 268.3 312.6 323.4 316.4 325.8 313.7 328.7 306.5 326.9 313.4 314.8 312.5 299.9 296.7 292.1 296.2 292.9 287.8 363.4 311.6 311.2 309.0 307.9 304.7 294.2 328.5 345.0 313.0 308.4 312.1 309.0 314.5 253.5 312.8 278.6 317.5 317.3 305.1 318.3 302.5 330.8 322.4 304.8 326.2 296.9 296.3 354.1 320.3 322.2 303.1 310.2 297.9 282.4 293.7 310.4 322.0 279.9 301.9 264.9 313.1 285.3 301.9 335.1 310.7 295.0 320.3 318.9 320.5 324.8 312.7 327.9 303.5 285.8 311.9 329.2 307.4 260.4 315.5 303.3 315.7 297.7 304.4 311.9 307.8 325.2 327.9 313.4 331.1 321.5 316.8 309.5 305.1 363.0 318.1 290.3 309.6 271.4 337.6 311.9 281.5 326.3 298.4 335.4 311.3 323.3 319.4 319.8 292.5 328.3 291.2 331.3 336.9 272.2 314.0 327.2 304.0 276.8 302.8 255.5 314.4 331.2 309.5 286.2 302.5 346.7 323.2 324.5 314.1 280.8 297.6 310.7 324.0 292.3 312.6 287.5 312.4 298.6 309.6 293.3 286.4 278.1 306.4 296.9 300.4 305.4 303.5 314.8 315.9 311.0 318.3 321.1 317.5 258.5 301.8"/><path class="s" marker-start="url(#m4)" marker-mid="url(#m4)" marker-end="url(#m4)" d="M322.7 304.6 299.1 294.8 337.5 297.3 315.7 302.9 301.7 279.9 323.7 317.0 308.1 296.2 331.1 308.7 260.5 271.8 298.4 300.6 302.3 288.5 250.5 302.1 313.2 295.8 259.4 288.8 316.1 310.0 327.6 315.6 264.5 328.4 329.2 303.4 319.3 308.2 323.5 311.6 272.6 300.6 253.5 283.3 307.1 312.1 297.2 293.2 353.8 306.0 299.1 287.3 312.0 294.0 274.3 295.9 303.0 286.6 317.0 294.4 292.9 279.5 307.7 308.7 253.7 304.5 314.8 292.4 245.6 276.4 294.6 282.5 296.3 299.9 269.7 310.8 313.3 304.1 300.5 298.5 250.4 302.4 312.8 301.7 324.7 308.8 312.1 297.9 304.9 307.5 274.5 308.6 309.4 302.7 312.8 300.0 339.7 307.7 323.7 288.1 254.5 304.9 291.3 290.1 363.6 303.6 300.3 309.6 309.2 300.3 335.5 287.2 330.8 308.7 330.5 311.9 360.5 312.4 324.8 295.2 326.1 295.2 312.3 305.3 350.0 311.1 309.9 305.4 305.7 318.1 281.3 299.1 319.6 315.1 324.1 308.7 308.4 298.3 303.1 300.1 335.2 307.9 254.5 295.7 365.8 312.1 329.7 323.4 290.8 295.2 309.6 290.0 251.0 310.7 309.6 296.5 286.8 293.2 276.4 285.2 333.7 308.7 290.4 309.3 320.0 302.1 331.6 311.3 318.9 308.6 362.5 303.7 286.9 299.6 296.3 279.7 254.5 293.2 319.4 314.6 300.4 311.7 334.6 296.7 329.1 298.6 356.2 303.0 304.6 292.3 300.1 289.9 341.5 291.8 263.6 316.1 328.9 293.9 290.1 287.5 292.8 278.9 277.8 292.7 279.1 305.3 277.3 270.0 246.9 291.3 333.2 307.1 323.5 305.4 297.3 294.0 291.4 287.9 284.6 293.7 300.8 329.3 292.8 284.7 266.5 294.7 282.2 311.0 263.1 301.3 273.2 302.2 265.4 296.7 281.6 303.1 259.1 298.8 325.5 289.0 321.9 299.1 340.2 281.7 335.1 305.4 339.3 321.3 292.4 299.0 371.0 283.4 317.8 308.8 290.7 301.9 282.2 296.8 303.0 291.4 303.5 286.0 309.2 302.1 311.6 304.6 272.9 310.4 263.0 293.3 253.4 300.4 337.4 312.5 282.6 301.3 287.4 303.6 314.1 304.1 304.5 304.2 303.4 292.3 325.6 303.3 262.1 294.8 310.7 293.5 310.0 310.9 254.6 295.1 305.2 303.1 294.1 289.2 258.7 290.1 321.0 320.0 389.9 318.5 240.2 294.4 289.4 289.9 273.6 312.0 317.0 307.6 325.9 319.2 292.9 289.6 310.9 291.6 288.2 307.6 333.3 309.2 302.4 300.5 320.4 299.0 248.7 294.3 309.5 284.8 263.6 296.4 301.4 316.7 297.4 286.2 242.4 282.6 252.9 295.5 325.9 306.9 304.6 304.9 278.3 304.4 259.1 296.9 322.8 273.1 295.8 314.0 307.5 298.9 283.8 304.9 309.8 286.7 342.0 306.1 327.9 309.6 324.7 323.0 372.5 292.5 317.5 321.2 364.4 302.3 321.0 291.9 284.6 317.6 234.1 295.2 296.7 301.1 341.4 307.4 281.6 292.1 258.7 313.9 249.1 291.6 313.8 305.0 325.3 309.2 239.4 278.6 156.5 270.2 263.0 314.7 310.5 292.0 292.4 302.2 281.3 301.5 198.3 303.9 362.7 291.0 284.0 288.7 306.6 305.6 288.8 302.2 262.7 297.3 316.0 297.5 283.1 295.7 325.8 303.0 310.5 280.2 221.5 308.2 297.4 299.1 318.0 319.5 330.9 291.7 320.0 316.0 357.5 301.6 293.4 305.1 259.6 294.3 296.4 310.2 312.3 286.0 332.4 280.5 296.0 316.2 248.8 281.0 321.7 295.3 346.5 316.8 315.1 287.9 329.1 315.1 330.1 303.8 308.5 299.4 243.3 297.9 330.9 300.1 313.9 288.3 309.1 294.5 322.8 307.8 295.9 294.0 305.3 308.2 209.1 304.8 250.2 298.8 295.7 305.3 302.9 302.1 325.9 303.0 329.7 310.4 234.0 300.9 283.2 292.8 307.2 309.7 310.7 283.4 334.1 299.4 330.3 299.7 329.6 291.6 276.4 303.9 337.2 306.1 340.5 291.7 306.0 285.7 323.1 300.8 302.7 287.0 326.0 313.4 314.3 307.3 245.5 316.2 242.0 288.5 296.2 309.3 264.8 293.1 291.6 304.6 309.6 274.6 310.6 284.9 310.6 281.9 254.7 294.0 315.2 307.0 318.1 301.4 277.6 296.5 341.4 307.4 261.8 288.4 316.8 300.7 264.1 306.2 325.5 304.2 321.8 311.3 311.5 315.3 319.3 285.2 308.4 305.0 254.8 291.1 325.9 287.1 286.3 291.6 323.9 289.2 317.4 305.6 282.0 310.2 298.2 310.7 304.1 297.7 354.0 298.2 272.1 302.5 266.2 302.0 286.0 300.9 273.0 294.2 312.5 301.5 292.2 292.7 271.5 287.5 339.8 280.6 287.6 303.0 316.5 303.3 288.7 293.5 322.1 323.2 267.6 320.5 313.5 286.2 321.0 285.2 284.1 303.4 328.4 297.8 312.8 313.5 323.4 300.8 324.8 309.1 281.4 294.8 320.8 309.0 353.6 300.1 341.2 297.7 275.7 307.2 352.1 283.7"/><path class="s" marker-start="url(#m5)" marker-mid="url(#m5)" marker-end="url(#m5)" d="M335.0 271.3 265.2 295.3 285.2 290.8 348.2 276.2 242.1 303.8 287.6 295.0 312.5 282.9 265.9 290.6 306.9 295.9 304.4 291.2 255.9 298.8 254.3 282.7 243.0 276.9 246.4 295.8 254.5 284.5 304.5 284.6 364.0 285.0 301.1 279.7 283.3 299.9 295.9 265.7 287.3 300.5 278.2 284.3 325.0 297.7 315.8 297.5 265.8 268.6 323.8 286.5 321.3 279.4 345.2 286.4 240.3 280.7 247.8 290.4 302.3 279.4 316.1 278.7 334.0 309.1 281.5 280.8 255.5 271.9 334.3 303.1 324.0 299.7 329.6 284.6 318.3 293.8 312.1 274.5 277.0 294.0 316.9 280.5 258.8 273.1 314.3 290.9 302.9 290.1 312.9 287.7 264.9 281.6 310.3 293.2 337.4 293.7 274.4 287.1 333.0 287.5 294.5 303.7 293.9 300.3 306.8 269.9 319.3 290.7 345.5 297.1 264.9 280.9 303.8 283.9 318.7 298.0 293.5 299.1 312.8 277.4 243.7 285.5 283.0 289.0 312.7 291.7 211.2 293.6 239.6 278.7 332.8 298.0 285.6 274.0 318.3 284.4 253.4 299.9 278.8 294.6 291.1 297.8 303.2 266.5 293.0 282.2 316.2 299.7 280.5 301.3 342.0 290.6 329.9 295.4 339.9 283.5 302.5 294.4 307.9 289.7 329.7 277.4 304.3 270.8 351.0 304.8 319.6 304.0 303.1 273.3 288.7 248.6 309.0 282.0 242.8 287.7 314.5 286.5 285.4 300.3 300.9 294.2 253.6 287.2 285.2 279.3 307.0 288.3 345.0 293.6 333.1 291.1 320.4 291.7 366.9 291.0 283.2 289.1 292.2 297.6 294.6 287.5 351.6 296.1 289.7 290.1 333.0 273.5 282.7 291.5 318.0 302.9 257.3 282.9 324.6 291.7 271.6 305.6 310.2 285.3 286.8 273.3 304.7 269.7 327.2 290.5 296.7 311.9 315.6 268.1 327.9 288.4 311.4 286.7 283.6 279.0 376.9 279.0 254.7 293.0 286.6 288.2 341.7 289.1 324.1 281.0 310.8 283.5 272.0 285.6 287.4 270.9 298.4 288.6 341.0 296.2 377.2 311.2 198.7 297.5 268.4 288.3 264.8 288.6 274.1 286.7 282.2 291.6 269.1 283.7 293.8 296.7 332.5 291.2 314.9 313.7 325.9 290.0 280.3 280.3 311.9 283.7 269.6 296.4 302.7 290.7 332.8 298.4 279.1 285.0 240.7 277.9 280.9 298.1 342.2 299.7 309.3 301.8 346.5 314.5 315.0 297.2 324.2 280.0 322.7 299.0 301.8 259.5 317.5 298.4 306.0 276.4 273.0 289.1 323.4 288.3 302.7 302.4 278.5 312.7 326.2 267.1 330.5 280.5 285.2 281.2 347.5 296.0 320.5 275.5 326.3 300.1 274.2 274.9 321.2 307.5 330.0 281.0 296.1 273.5 317.0 277.1 302.8 280.6 262.8 297.8 302.5 289.7 328.1 296.8 235.3 278.1 262.0 275.6 296.3 282.8 323.6 302.5 287.3 296.4 251.9 274.8 297.2 282.3 304.3 289.0 349.9 295.6 339.4 286.9 311.7 279.8 312.3 286.1 305.8 304.5 318.5 295.1 263.1 281.1 321.8 279.4 303.9 304.7 244.4 286.2 315.2 286.7 310.5 295.5 315.5 299.0 310.8 284.0 304.7 296.4 227.5 291.9 319.0 292.6 273.1 285.1 325.6 299.0 258.4 272.2 293.5 286.5 327.5 312.1 270.8 301.8 318.1 287.7 298.0 279.4 318.8 297.6 247.3 289.9 302.6 286.6 317.4 286.2 330.0 287.4 283.6 287.3 264.6 298.2 302.3 275.0 261.0 316.5 286.9 300.5 310.9 295.8 319.1 287.8 214.8 292.0 303.0 304.7 302.9 289.4 266.9 272.7 304.4 282.3 298.3 273.7 327.8 288.8 313.1 278.4 299.9 284.5 338.8 306.9 315.5 298.4 308.6 287.6 307.8 291.0 319.1 291.2 299.3 278.8 301.1 285.3 303.6 284.9 325.7 278.3 326.1 280.9 309.0 271.8 277.5 270.3 302.8 294.5 315.8 296.3 326.3 296.1 291.3 300.1 313.8 284.7 344.9 292.7 348.8 314.7"/><path class="s" marker-start="url(#m6)" marker-mid="url(#m6)" marker-end="url(#m6)" d="M299.6 267.5 324.9 285.3 330.9 288.8 280.0 251.6 296.1 280.9 271.8 293.1 236.6 283.2 287.1 276.2 307.4 288.3 240.8 269.2 308.1 286.3 318.0 277.9 327.2 269.8 381.6 287.3 289.5 260.9 315.0 277.2 298.3 281.8 289.2 287.3 252.0 283.2 239.7 263.9 291.3 261.5 312.6 281.0 333.1 252.3 290.3 270.1 269.0 283.6 305.6 291.4 300.6 279.2 311.5 260.6 322.6 287.3 310.8 282.5 357.7 278.0 331.5 275.4 330.0 272.8 273.7 281.0 342.4 294.0 303.5 281.1 303.4 275.5 307.4 281.1 309.3 275.1 271.6 282.6 270.6 280.9 299.4 275.9 322.9 283.9 274.6 284.4 288.0 276.4 295.0 261.6 328.1 282.8 288.2 263.6 261.5 264.0 302.6 259.9 305.1 284.2 316.7 295.9 328.9 278.9 320.6 287.2 323.8 278.6 313.1 276.5 255.8 283.9 284.9 260.4 289.0 270.1 289.6 253.5 332.1 295.8 314.0 278.0 360.6 277.6 392.8 277.6 347.8 296.5 361.7 273.0 326.2 263.4 324.7 281.6 277.1 278.5 297.4 296.7 267.6 279.2 281.1 276.9 291.6 269.2 329.7 273.8 301.4 276.8 293.4 280.6 248.5 292.1 300.5 280.5 322.5 277.5 300.2 265.2 302.5 307.6 337.0 264.5 303.9 274.1 328.7 276.3 270.0 272.7 295.3 301.5 254.4 290.1 329.3 300.6 247.3 273.9 269.5 287.6 311.6 281.5 292.7 263.0 218.9 290.0 331.5 284.9 286.8 281.2 290.4 294.7 314.6 269.1 310.8 296.5 244.7 264.8 322.2 279.0 325.1 272.1 305.5 292.9 205.3 287.4 308.5 279.4 284.5 260.3 336.1 276.8 282.7 277.2 253.9 258.3 263.8 281.5 273.2 287.1 314.5 294.8 314.9 281.8 314.2 277.4 338.5 282.2 311.6 268.7 327.6 281.4 333.2 286.0 307.1 272.4 336.7 275.4 296.7 301.1 333.4 287.2 255.7 283.7 325.4 286.0 313.2 280.2 308.3 291.3 299.7 279.9 238.5 272.5 319.8 277.1 265.0 280.5 273.8 290.7 220.4 264.8 328.2 283.9 291.9 302.6 274.2 288.4 305.5 292.6 311.8 283.8 308.9 278.4 314.3 295.2 318.1 284.4 313.5 254.8 300.5 254.7 271.1 267.8 323.9 279.0 247.1 279.6 308.8 259.1 308.7 284.3 342.5 290.6 280.4 274.2 272.2 292.4 333.2 289.3 323.9 266.8 328.2 267.2 261.5 271.9 294.9 277.7 325.1 290.0 251.5 293.8 316.3 277.1 334.3 277.2 312.2 285.9 285.7 269.0 325.1 261.2 281.9 264.1 386.1 290.8 276.4 265.6 270.2 279.2 351.8 286.6 284.8 284.2 330.2 285.4 312.4 273.4 242.5 285.2 339.4 293.6 280.2 302.0 308.9 275.5 347.2 301.5 294.3 289.9 309.6 294.0 324.7 285.7 294.6 276.9 313.1 285.5 284.9 262.9 330.9 280.9 313.1 289.4 278.6 286.8 292.5 291.7 293.4 292.7 282.7 264.2 319.3 265.0 306.2 260.8 256.9 275.9"/><path class="s" marker-start="url(#m7)" marker-mid="url(#m7)" marker-end="url(#m7)" d="M276.4 240.6 294.7 249.2 304.5 263.3 316.0 253.4 287.9 286.8 289.4 245.1 311.9 267.5 270.5 266.2 312.6 267.0 217.2 271.7 295.2 284.2 286.3 270.9 296.0 261.1 200.5 269.7 335.4 276.0 328.6 279.4 258.4 282.9 304.1 268.9 297.4 250.8 308.8 265.3 291.6 245.8 285.9 247.3 345.5 259.0 249.2 282.8 341.7 298.5 277.7 278.6 307.5 268.1 296.4 259.5 302.4 267.7 293.5 256.9 290.6 269.3 330.7 252.4 318.6 275.5 289.1 276.0 312.1 284.8 327.1 262.2 285.0 269.9 352.9 274.1 322.0 252.3 323.1 259.9 331.6 272.1 318.8 254.4 302.4 250.5 305.8 271.6 280.6 284.4 305.8 275.4 281.5 269.9 287.8 269.1 320.8 276.7 288.9 262.9 270.4 260.4 321.9 274.4 306.1 260.1 254.1 269.6 289.4 280.4 297.6 289.1 284.8 260.2 277.3 269.6 315.8 287.3 311.8 276.8 251.6 253.8 257.0 260.7 314.6 275.1 260.0 275.4 320.5 257.4 291.6 277.2 302.5 278.1 314.7 269.4 326.4 294.3 305.6 287.8 325.0 257.1 219.7 259.1 305.3 270.0 245.9 272.9 269.1 276.1 274.7 266.8 272.0 267.5 325.2 258.7 328.8 257.1 320.9 279.4 322.5 271.6 305.9 274.5 282.8 270.9 252.5 278.4 336.7 279.6 217.1 252.0 317.1 274.1 283.8 259.1 266.1 252.2 329.3 293.3 274.6 269.8 284.1 261.0 304.2 270.6 299.2 270.7 255.5 278.3 318.2 265.6 271.5 267.7 233.8 257.4 349.5 270.8 310.6 270.6 331.8 261.7 342.0 246.0 307.3 248.0 234.8 260.2 350.6 257.9 285.3 282.2 301.1 262.5 303.4 281.3 304.6 269.2 343.9 267.3 309.0 276.9 296.5 269.4 308.1 264.5 277.8 276.0 297.5 256.0 323.3 275.9 307.7 263.0 255.4 259.1 248.7 250.2 258.2 288.1 256.2 254.3 285.6 269.8 301.4 274.2 311.0 271.0 260.2 255.0 290.9 254.8 283.0 264.7 301.6 268.4 242.9 273.8 332.5 271.2"/><path class="s" marker-start="url(#m8)" marker-mid="url(#m8)" marker-end="url(#m8)" d="M318.0 252.6 361.1 253.0 237.9 256.3 310.3 248.5 250.5 239.0 286.8 260.2 296.4 241.5 322.1 269.8 238.6 252.8 267.0 268.9 302.5 245.7 305.3 268.9 284.1 260.2 306.4 231.0 314.1 254.9 268.1 254.0 309.7 251.2 317.5 255.8 310.2 247.2 298.0 248.0 270.9 236.0 281.7 236.0 306.2 253.4 293.6 246.8 230.6 243.9 308.7 248.7 299.1 245.6 301.0 248.1 323.1 257.2 346.5 268.0 320.1 237.2 333.1 249.3 319.3 247.9 288.7 224.9 268.5 239.9 314.7 256.0 305.3 258.4 317.4 259.0 280.1 248.1 325.5 280.8 274.1 266.2 302.5 242.2 328.6 274.9 261.8 241.6 315.3 265.5 280.8 266.0 256.3 261.8 320.1 269.2 283.9 241.7 316.1 270.9 249.9 258.4 329.6 266.6 318.0 269.5 308.6 261.7 240.0 261.8 288.7 243.2 287.6 250.7 257.5 247.8 303.2 233.4 286.1 249.0 319.8 256.8 282.7 255.7 306.2 238.4 328.1 262.5 261.2 241.6 332.3 259.4 263.8 257.7 355.1 246.9 292.6 252.4 305.4 270.6 320.3 260.3 316.2 255.9 313.2 259.6 322.6 244.1 195.9 261.1 315.0 250.2 317.1 263.1 348.8 237.8 297.8 250.4 313.6 256.6 266.5 268.2 310.1 259.8 260.7 254.0"/><path class="s" marker-start="url(#m9)" marker-mid="url(#m9)" marker-end="url(#m9)" d="M275.3 275.7 235.5 272.6 302.8 225.3 311.8 218.6 335.0 238.2 331.1 260.9 303.3 258.7 328.2 257.7 343.6 266.4 317.3 234.4 306.0 241.0 302.4 245.9 329.0 278.6 314.6 236.6 303.3 259.8 259.5 255.7 288.0 243.0 345.6 250.0 271.6 247.6 317.8 238.6 304.2 251.8 319.3 246.5 249.8 220.5 310.1 234.1 325.9 266.6 325.7 251.7 315.4 245.3 330.2 253.5 294.5 250.0 282.5 246.7 327.9 249.6 301.8 239.0 344.8 257.5 302.1 241.2 279.8 266.1 313.8 257.2 316.3 250.5 333.4 253.3 287.4 239.2 279.9 245.1 299.8 237.7 333.5 261.4 260.8 267.0 321.6 238.0 292.3 253.1 245.1 265.8 282.9 246.4 309.2 251.0 312.3 235.3 256.2 228.0 278.2 238.4 303.2 228.4 250.6 238.1 257.2 243.8 316.0 249.9 322.6 254.7 325.7 236.7 324.5 245.3 283.7 254.2 295.8 239.3 332.1 248.8 288.2 258.0 252.0 258.5 289.7 244.3 339.5 276.2 284.9 238.7 201.8 254.8 378.8 258.0 311.1 242.8 320.5 230.4 314.6 249.9 327.4 249.4 339.3 244.7 302.5 244.3 329.8 252.0 275.0 239.7 247.5 239.5 315.4 275.7 337.3 259.5 304.6 252.3 315.8 234.9"/><path class="s" marker-start="url(#m10)" marker-mid="url(#m10)" marker-end="url(#m10)" d="M310.4 232.0 262.4 243.1 262.6 244.4 309.4 232.5 327.0 232.9 306.6 223.4 274.3 209.6 354.1 246.7 318.2 249.1 309.9 244.1 310.1 235.9 312.9 230.1 291.0 232.1 316.3 223.1 282.9 235.6 301.0 220.9 303.8 234.0 287.5 233.0 295.1 219.2 305.8 228.9 282.2 244.8 319.3 232.0 319.0 238.2 281.8 238.3 316.3 224.8 319.5 267.6 290.5 232.3 313.1 229.1 322.9 231.2 301.4 225.4 310.2 244.9 329.7 235.6 315.8 243.3 287.4 235.4 299.0 227.5 312.0 227.2 335.9 230.9 305.0 237.7 323.1 227.6 251.7 228.2 344.0 247.1 310.4 245.5 269.7 217.7 301.1 230.8 299.5 236.7 274.6 222.3 228.1 227.1 308.7 212.3 340.7 234.6 310.4 244.0 305.1 232.4 333.8 245.5 322.5 243.4 296.5 226.7 341.2 230.8 314.2 235.3 308.5 233.0 272.6 235.7 328.9 228.6 311.8 236.3 262.9 245.6 317.4 229.0 318.5 238.8"/><path class="s" marker-start="url(#m11)" marker-mid="url(#m11)" marker-end="url(#m11)" d="M293.7 220.4 310.3 229.7 280.1 250.5 318.0 239.1 312.7 224.4 334.2 219.4 315.9 211.2 295.3 207.9 281.4 217.3 302.4 233.6 312.1 230.3 329.3 208.2 281.7 240.3 341.9 228.5 324.1 214.4 320.0 227.5 251.4 247.2 298.0 204.2 319.1 232.5 262.5 227.1 329.1 237.1 306.2 211.3 307.4 214.5 263.9 212.9 336.8 226.0 272.8 220.5 297.2 221.9 322.7 225.1 324.3 223.2 314.7 229.8 304.1 236.7 309.8 210.2 307.0 223.5 308.4 217.3 302.7 234.4 281.5 204.3 311.5 235.5 263.7 232.1 242.2 237.2 310.8 225.4 263.6 216.9 306.8 226.7 293.1 195.5 315.1 230.8 255.8 212.7 310.2 215.6 264.3 224.5 311.4 230.4 328.9 219.3 289.3 230.8 317.2 242.7 337.0 233.6 317.5 238.4 333.1 231.7 289.8 204.8 311.6 230.6 268.6 230.6 272.4 203.5 307.9 225.2 330.5 233.4 285.7 223.3 280.9 220.0 359.9 233.1"/><path class="s" marker-start="url(#m12)" marker-mid="url(#m12)" marker-end="url(#m12)" d="M259.0 210.6 275.8 200.5 294.4 206.8 302.4 191.7 320.1 214.3 327.6 206.2 294.7 219.1 285.8 205.2 331.0 201.3 318.3 216.1 285.9 219.6 260.5 219.3 303.8 205.7 331.3 223.1 313.2 213.3 317.2 206.1 272.3 213.3 303.6 208.9 295.1 197.0 308.8 219.0 335.1 217.4 263.4 219.9 287.6 203.4 290.1 218.7 296.4 228.1 321.4 220.8 315.4 217.9 251.6 211.9 305.8 231.6 262.7 211.5 317.9 202.8 287.4 181.0 232.9 213.5 304.3 206.7 302.2 209.9 310.1 211.6 301.8 218.1 294.5 212.5 285.9 230.2 331.8 211.4 291.2 206.5 347.7 205.6 277.3 210.7 319.1 201.2 315.9 197.3 314.4 227.8 319.5 218.4 262.2 200.1 299.4 225.9 275.1 218.0 320.4 208.5 306.9 218.5 362.0 252.2 306.3 213.4 317.7 211.7 302.9 210.3"/><path class="s" marker-start="url(#m13)" marker-mid="url(#m13)" marker-end="url(#m13)" d="M333.8 210.3 311.1 192.6 314.7 218.0 312.3 201.9 230.9 202.8 235.5 203.9 326.1 179.4 313.7 191.0 334.1 217.1 285.9 181.6 254.4 198.6 303.4 192.2 278.0 227.9 244.7 194.5 304.7 207.4 309.0 204.0 323.5 219.0 328.6 186.0 309.8 216.1 305.9 215.2 327.3 184.1 331.2 221.0 331.8 214.9 323.0 194.6 277.1 213.3 295.2 205.8 237.3 189.3 295.3 215.1 310.2 192.8 279.8 176.6 285.7 207.1 314.8 207.6 311.0 205.7 273.4 199.7 314.7 207.1 261.6 233.8 310.5 200.2 276.8 192.6 271.8 205.2 323.0 214.1 331.4 212.1 248.9 200.8 353.4 225.0 256.6 205.3 323.1 201.1 298.4 206.0 310.2 193.5 308.8 200.7 307.5 199.5 294.1 200.7 327.4 199.5 291.3 190.0 299.5 177.3 284.9 195.0 292.7 214.9"/><path class="s" marker-start="url(#m14)" marker-mid="url(#m14)" marker-end="url(#m14)" d="M301.2 184.4 325.3 193.0 292.3 178.9 319.0 194.4 307.4 183.6 308.8 193.8 361.9 209.2 247.4 179.5 293.7 194.8 265.3 185.5 307.5 167.4 329.8 191.8 263.0 180.0 305.1 198.2 307.4 185.9 311.2 195.7 311.1 190.9 303.0 185.9 308.3 190.6 333.7 201.6 286.9 186.0 301.3 171.8 272.6 180.3 329.7 216.9 304.9 188.4 285.6 190.0 281.5 177.0 316.1 179.0 315.1 212.4 313.5 176.2 299.7 181.5 299.7 189.6 291.2 189.5 255.6 190.6 272.4 197.0 266.3 181.2 299.0 182.9 309.1 187.4 289.9 185.6 275.8 180.8 319.2 210.4 239.2 165.1 333.7 201.1 316.9 197.8 295.3 185.0 288.3 189.6 339.8 180.8 359.3 176.1 295.6 185.1 286.9 197.7 251.1 177.8 304.5 178.7"/><path class="s" marker-start="url(#m15)" marker-mid="url(#m15)" marker-end="url(#m15)" d="M306.3 175.9 315.0 189.4 303.5 184.1 303.5 194.3 336.7 186.3 316.1 196.9 287.4 175.7 349.8 180.8 285.3 180.2 274.0 186.2 265.6 179.7 287.9 170.0 279.2 135.4 308.5 175.7 276.4 161.1 302.0 157.0 292.6 182.6 269.4 157.0 290.8 173.7 319.1 192.2 330.2 200.8 314.0 174.7 325.4 172.5 309.5 167.3 320.9 207.1 313.8 188.5 317.7 200.0 314.7 167.2 287.1 196.2 274.0 183.4 225.2 162.9 322.0 203.8 297.8 162.7 298.4 158.9 251.6 150.1 222.9 141.3 330.4 184.4 282.8 187.5 299.3 175.5 204.3 178.3 341.4 208.3 300.3 160.4 289.9 219.3 295.6 185.0 274.9 186.2 315.8 192.5 298.0 180.3 286.0 191.5 240.9 183.6 308.5 184.4 288.6 181.8 282.7 171.4 315.9 195.6 327.0 206.3 293.4 183.9 296.8 169.9 343.8 177.7 325.9 213.1 269.8 158.5 306.7 185.7 320.0 167.6 289.2 179.9 268.7 185.1 283.7 176.0 312.9 164.5 306.9 180.7 266.0 168.4 271.8 177.3 267.9 171.0"/><path class="s" marker-start="url(#m16)" marker-mid="url(#m16)" marker-end="url(#m16)" d="M321.2 166.6 256.8 162.3 221.5 177.2 311.2 158.8 291.6 164.5 280.7 168.3 332.5 181.5 267.4 168.6 317.9 182.3 262.6 158.9 351.0 188.8 314.3 177.5 302.9 164.7 271.8 152.3 300.9 159.0 321.9 167.7 296.8 162.6 240.1 161.5 310.0 166.0 317.2 167.9 310.9 163.2 307.0 156.4 324.5 188.5 316.1 150.0 267.8 145.4 315.2 161.0 270.3 176.4 287.3 170.6 319.6 177.3 325.0 162.5 321.9 169.2 309.8 170.7 283.7 149.8 241.2 168.4 308.1 186.8 295.7 157.1 280.2 199.5 324.5 183.7 271.9 181.8 255.6 161.4 310.4 154.0 284.0 168.3 280.3 149.6 314.5 175.6 191.8 180.9 266.8 152.9 259.5 157.0 276.0 141.5 332.1 179.5 323.2 183.7 308.8 160.4 297.1 160.2 289.0 149.9 278.6 181.1 324.3 161.7 286.0 153.7 299.8 176.5"/><path class="s" marker-start="url(#m17)" marker-mid="url(#m17)" marker-end="url(#m17)" d="M312.0 141.3 315.8 166.4 310.0 144.7 270.2 174.0 296.1 147.3 300.6 155.1 328.2 171.6 282.5 143.8 309.0 158.0 297.7 157.8 290.9 137.6 319.1 160.8 343.1 175.8 308.1 164.0 291.1 149.2 285.2 148.9 319.8 146.5 294.0 144.9 278.3 148.2 283.6 159.5 271.2 172.4 321.2 157.3 304.4 146.4 263.7 128.3 241.4 140.9 300.6 144.7 300.2 150.9 315.6 152.6 310.5 159.4 220.5 161.1 272.1 165.5 293.2 154.2 282.8 160.2 315.9 175.5 290.7 159.2 290.0 161.0 259.9 167.2 262.9 163.2 267.6 153.1 315.3 154.8 256.9 170.9 279.5 147.0 330.0 183.3 346.9 145.3 294.1 159.5 252.7 150.7 295.7 147.5 303.7 160.2 279.5 165.7 275.4 149.5 282.7 153.2 315.5 168.7 297.9 164.4 317.8 183.0 301.6 165.0 312.6 151.8 302.9 167.6 293.3 176.6 319.5 153.3 267.6 136.7 287.9 137.4 243.2 134.2 206.0 146.3 318.6 157.5 296.3 147.9"/><path class="s" marker-start="url(#m18)" marker-mid="url(#m18)" marker-end="url(#m18)" d="M302.4 132.6 342.3 132.3 275.9 143.4 284.6 130.6 271.3 131.0 290.5 128.7 265.0 125.7 329.3 178.7 287.7 140.3 273.8 148.9 351.2 161.9 298.6 147.8 288.1 119.7 294.8 135.3 316.5 147.3 300.0 140.3 321.7 153.0 268.0 143.6 276.3 145.6 268.1 120.6 282.3 107.7 244.0 141.1 296.6 128.2 287.5 136.1 290.4 147.9 263.4 148.3 289.5 132.2 303.0 172.1 304.1 136.3 314.1 119.9 255.4 141.1 305.1 136.2 241.9 133.1 327.2 154.7 289.7 134.4 257.1 148.0 264.8 143.1 307.5 141.1 294.9 138.9 312.1 113.0 293.6 118.1 295.4 111.3 272.3 142.4 295.1 139.2 306.1 146.5 297.3 132.4 311.1 148.3 314.0 163.7 292.7 156.5 292.6 152.0 313.9 148.3 275.6 138.6 291.6 152.2 311.3 130.3 306.2 153.4 288.8 146.1 303.2 144.0 271.8 164.3 322.7 153.7 297.0 137.0 324.6 153.7 282.9 120.4 301.4 144.6 256.9 125.6 278.1 130.9 263.4 136.1 242.3 104.0 278.4 158.8 309.5 163.7 298.7 119.3 313.4 148.1 311.5 152.8 278.4 141.1"/><path class="s" marker-start="url(#m19)" marker-mid="url(#m19)" marker-end="url(#m19)" d="M306.8 111.2 290.3 124.2 246.8 119.4 325.2 144.4 296.3 124.4 301.9 134.5 305.7 141.0 283.7 132.4 302.5 130.2 300.5 125.4 281.6 121.8 295.7 125.9 294.9 138.0 319.4 141.8 240.3 120.1 329.0 144.8 301.5 132.8 321.7 143.4 297.9 128.8 266.1 122.3 301.8 130.0 277.2 124.9 307.6 133.1 261.1 123.8 296.7 131.0 294.9 130.2 260.6 133.4 285.6 134.4 321.7 148.3 318.1 157.6 289.4 132.0 296.3 126.3 298.7 121.1 365.5 106.4 283.1 128.2 289.6 144.1 318.6 156.0 305.9 135.3 300.8 112.3 273.5 108.7 276.9 118.2 271.4 146.8 294.6 154.7 268.9 138.6 303.0 132.8 259.4 96.6 289.0 119.0 284.1 117.0 279.8 129.4 247.5 121.1 318.1 160.8 275.5 123.5 307.2 152.5 335.2 157.7 290.9 119.7 293.4 124.9 339.8 170.1 321.7 141.0 311.0 123.1 325.6 159.4 286.0 113.4 234.3 115.0 247.0 109.3 302.2 147.0 275.5 105.2 313.6 135.2 262.5 105.8 287.8 110.3 284.8 90.3 316.1 148.1 254.1 100.3 295.1 135.2 337.6 144.9"/><path class="s" marker-start="url(#m20)" marker-mid="url(#m20)" marker-end="url(#m20)" d="M309.5 121.3 288.4 108.8 273.9 116.8 310.2 123.1 333.4 142.5 293.1 104.7 255.1 99.8 322.3 72.8 338.5 151.8 299.3 123.4 279.6 127.8 302.2 127.2 249.9 100.3 269.4 107.1 300.3 114.9 247.9 116.4 333.0 148.3 337.7 157.3 295.1 118.6 274.8 90.7 258.6 103.9 307.6 123.3 313.7 131.0 304.0 117.1 327.3 149.4 292.4 97.5 285.3 130.5 289.7 105.6 320.9 121.2 317.6 133.5 278.0 139.6 314.9 121.8 266.1 99.4 309.5 129.1 294.8 113.0 310.2 132.3 259.8 97.8 284.3 129.7 318.4 141.1 298.7 111.3 258.5 98.1 342.5 157.9 328.3 159.0 281.2 114.7 289.9 98.8 297.9 127.5 245.7 107.5 304.4 102.1 266.6 117.8 290.8 111.3 283.4 123.5 332.0 131.1 321.6 153.5 294.6 101.2 280.4 106.8 278.0 133.5 272.8 105.7 304.8 141.9 289.6 109.2 309.5 125.4 354.3 149.8 295.5 92.8 304.9 122.6 297.5 125.9 295.5 118.0 271.7 124.9 319.1 142.4 325.3 130.0 303.9 111.3 297.9 129.4 287.8 113.1 244.5 102.9 273.4 110.9 249.7 123.4 257.9 111.2 323.5 143.3 265.4 102.8"/><path class="s" marker-start="url(#m21)" marker-mid="url(#m21)" marker-end="url(#m21)" d="M318.3 126.5 291.6 94.0 343.0 113.9 294.6 108.9 278.9 99.7 314.1 145.9 316.2 124.2 319.8 129.6 287.9 110.1 332.7 126.0 300.7 90.2 331.0 136.3 304.7 118.2 300.6 115.5 312.9 122.7 303.4 118.6 306.5 114.9 307.0 140.3 279.1 80.1 307.1 120.1 286.0 95.1 274.1 102.0 289.3 110.0 319.6 122.7 294.8 102.9 293.8 110.8 302.2 134.4 328.7 141.3 264.2 97.4 306.8 132.7 300.9 102.3 269.6 109.5 305.2 107.6 263.9 102.7 321.2 132.6 282.8 102.7 338.7 135.3 303.7 122.8 287.8 98.5 311.8 110.5 292.3 106.2 241.4 102.2 302.9 106.7 283.7 114.2 269.4 100.0 303.2 122.8 298.4 124.2 342.6 146.2 242.3 109.7 274.0 101.3 294.9 128.4 343.0 108.6 294.8 102.8 286.9 117.7 310.7 114.6 324.7 127.6 302.9 108.5 292.9 98.2 308.2 115.2 310.9 123.4 281.6 106.4 303.0 117.9 321.7 129.9 290.4 119.6 320.9 128.4 302.2 117.7 324.7 131.6 318.9 126.3 329.9 132.9 317.0 117.4 313.4 118.0 280.6 113.6 264.2 101.2 337.3 137.8 272.6 106.9 317.4 130.7 284.3 104.9 260.4 96.5 287.7 94.9 315.2 108.9 293.5 112.0 309.8 120.4 261.0 110.3 273.3 95.9 290.7 110.8 297.4 132.0 287.5 98.2 293.2 108.8 300.3 108.5 316.8 124.2 310.9 111.1 308.7 136.3 270.1 102.6 302.2 139.8 251.3 108.3 316.3 122.0 293.1 85.4 272.3 114.4 287.3 97.9 351.0 120.4 261.5 98.9 315.8 126.6 303.7 118.8 317.7 120.2 280.9 108.9 313.1 123.5 294.0 97.9 305.6 125.2 317.9 111.7 286.3 114.9 315.1 97.3 317.2 118.0 294.8 99.5 301.7 112.7"/><path class="s" marker-start="url(#m22)" marker-mid="url(#m22)" marker-end="url(#m22)" d="M334.7 122.0 256.6 92.6 324.5 124.7 315.5 116.9 289.6 86.3 300.7 111.9 292.0 113.9 311.6 98.7 295.0 98.0 305.4 97.1 318.3 122.4 269.4 99.0 296.4 98.5 301.3 111.2 281.9 95.9 288.4 93.3 280.7 77.1 284.2 79.5 301.0 99.4 269.4 90.6 311.5 107.9 274.9 95.0 288.0 101.2 277.9 99.4 294.4 73.8 288.6 97.3 293.1 89.6 278.6 86.5 275.7 94.4 300.4 92.5 276.8 122.8 230.7 102.3 264.9 65.7 307.6 106.2 296.2 114.0 266.6 95.6 273.6 89.5 291.7 98.2 299.0 106.0 241.7 107.1 293.5 99.5 299.9 97.2 296.9 97.0 312.0 112.8 246.0 80.9 286.7 95.5 278.6 98.5 305.9 103.7 305.6 103.3 300.2 109.5 282.2 95.3 256.0 74.5 259.4 77.7 298.2 102.1 297.3 96.8 271.8 95.0 289.9 86.6 266.6 115.2 302.5 101.7 307.1 111.1 279.5 88.6 289.7 115.4 321.4 131.9 343.4 132.8 282.5 104.1 296.0 95.1 290.9 78.1 278.0 102.9 271.8 82.5 280.5 103.0 289.6 90.9 288.4 88.8 309.9 100.7 283.9 91.7 297.5 119.1 260.0 81.3 314.0 102.2 273.9 97.5 276.8 86.6 244.3 68.9 301.3 106.1 302.7 101.5 334.9 130.6 312.5 105.5 312.3 110.5 302.6 86.5 290.8 118.4 312.5 116.8 307.9 95.5 302.4 127.9 280.3 84.8 266.9 85.0 309.5 119.9 273.0 101.1 316.8 122.9 310.7 106.1 313.6 113.1 311.2 120.7 289.4 118.9 328.3 116.2 295.9 98.1 263.4 103.7 269.2 89.1 285.0 80.9 318.0 114.0 309.4 93.2 268.4 102.2 278.1 100.7 302.1 104.5 304.2 105.8 297.6 104.0 306.2 97.7 293.0 113.0 261.8 77.6 302.1 106.0 296.5 99.9 291.6 79.4 305.9 92.4 312.4 112.2 291.9 87.9 289.7 81.3 280.5 103.5 305.5 91.7 297.8 94.6 293.7 97.4 263.6 92.9 276.2 66.9 306.1 101.8 286.0 118.0 318.5 106.6 297.7 109.6 296.9 113.0 288.9 100.2 276.5 104.7 300.2 98.6 291.5 101.8 335.2 122.4 337.1 75.2 301.4 98.5 312.0 102.6 312.1 126.0 256.5 97.7 285.9 107.0 303.2 107.8 282.9 85.7 323.0 120.8 300.1 131.2 318.7 104.5 272.4 77.9 280.7 86.7 286.6 87.2 284.7 94.4 270.1 98.6 279.0 88.4 278.9 99.7 295.6 108.2 279.4 88.1 302.6 116.1 275.7 67.5 302.5 96.0 290.1 105.8"/><path class="s" marker-start="url(#m23)" marker-mid="url(#m23)" marker-end="url(#m23)" d="M275.0 83.5 293.7 78.1 323.7 113.8 323.3 103.3 307.1 89.8 324.8 117.8 297.4 86.0 318.5 116.9 271.5 77.9 267.2 74.5 271.1 71.7 324.5 120.1 270.3 93.3 258.7 80.9 298.7 99.8 295.5 68.3 308.9 98.6 269.2 82.4 292.8 81.8 247.0 72.4 278.3 77.8 286.6 68.8 311.6 105.2 313.8 92.5 270.4 79.1 280.2 92.4 283.4 79.4 299.9 87.0 262.2 85.5 320.7 97.9 326.6 109.3 293.1 82.3 300.7 77.6 315.0 99.9 305.7 103.9 307.3 95.1 285.2 85.4 278.5 84.8 276.0 76.2 278.2 95.1 257.5 88.8 299.2 91.3 273.3 95.3 308.9 88.8 250.4 82.1 299.1 83.2 304.2 93.6 315.6 112.6 300.2 86.9 262.3 72.3 266.3 78.6 268.3 70.9 262.9 78.3 333.9 111.4 282.3 99.1 317.0 77.2 279.8 96.3 287.8 104.0 366.9 115.9 274.2 77.5 293.1 86.1 277.0 72.1 306.0 111.4 274.6 82.5 284.8 89.5 306.2 105.7 304.8 102.0 260.9 63.8 260.3 82.0 272.7 74.2 280.9 68.1 271.8 76.1 289.5 82.3 266.3 79.6 318.1 104.1 299.8 98.9 310.2 103.7 325.2 119.0 291.1 83.7 287.3 103.5 272.6 86.2 253.7 55.1 329.0 113.8 265.2 68.2 272.4 81.4 281.7 94.5 296.1 88.8 302.2 104.9 262.0 73.4 278.8 84.1 290.8 85.0 319.8 96.3 271.1 71.2 252.5 82.4 305.5 100.6 286.3 103.8 280.9 91.5 285.9 69.6 293.8 81.9 246.9 73.7 279.3 93.8 281.1 91.3 294.0 78.8 279.4 79.1 299.8 94.9 255.9 73.4 294.1 94.2 322.8 96.9 319.0 107.9 267.7 103.3 267.5 77.9 257.8 89.4 292.1 90.5 332.1 125.9 250.0 82.0 284.9 80.5 311.0 100.4 299.5 96.8 287.5 88.0 286.2 98.1 327.0 106.8 272.2 93.1 284.8 92.9 291.3 86.9 308.8 93.0 289.0 83.6 301.1 86.8 291.6 96.3 307.5 83.8 266.8 89.5 303.7 94.3 293.9 80.1 294.6 92.2 301.0 84.3 281.1 92.4 277.4 86.4 315.3 106.7 295.5 88.6 285.1 93.8 299.5 95.7 287.1 78.1 268.8 67.5 272.9 82.2 314.0 105.5 297.3 78.9 295.6 110.2 272.6 76.3 270.9 89.6 286.7 76.7 271.5 89.4 314.0 104.1 258.2 80.2 275.4 102.9 309.0 108.5 308.7 101.5 263.7 79.7 284.2 89.7 291.5 81.7 296.4 96.1 296.5 97.5 301.3 82.7 271.7 97.8 270.6 96.4 293.6 92.2 303.7 75.9 279.9 83.5 255.7 61.1 286.7 83.8 312.4 101.6 289.8 104.4 302.8 113.8 326.6 114.2 310.3 112.6 274.1 92.7 337.0 127.0 330.5 105.6 275.5 80.9 275.4 97.3 287.3 85.8 245.1 62.6 271.8 78.3 306.5 105.4 321.0 100.9 330.0 117.8 289.7 87.0 286.2 72.2 322.5 110.1 286.8 84.7 288.6 96.0 293.8 85.5 298.3 109.6 296.0 74.2 271.0 73.9 273.4 64.5 296.1 108.1 332.8 129.0 297.2 71.3 280.6 73.8 286.8 97.0 305.8 103.3 297.9 101.6 259.8 81.3 252.5 83.1 313.7 89.9 263.8 77.3 264.5 72.7 281.3 84.5 316.5 115.6 298.3 114.5 313.4 118.5 321.2 120.6 284.4 69.2 271.9 78.4 247.3 56.1 309.6 85.0 264.0 75.2 246.9 66.7 290.2 103.3 300.2 109.1 269.2 81.2 274.8 77.6 257.4 75.1 290.9 82.3 291.3 95.7 325.5 109.3 340.0 114.2 317.2 95.7 271.4 92.5 310.4 99.1 263.2 86.5 289.1 100.6 315.3 95.8 326.1 106.7 304.7 91.0 312.6 102.0 288.4 70.0 301.1 101.5 306.6 98.8 277.2 70.0 265.0 59.5 296.0 127.7"/><path class="s" marker-start="url(#m24)" marker-mid="url(#m24)" marker-end="url(#m24)" d="M285.1 75.4 275.0 77.9 272.5 48.9 249.9 35.3 292.3 78.8 257.4 59.8 276.6 69.6 278.9 89.5 286.5 62.7 311.9 106.6 276.9 61.5 307.8 97.9 268.9 56.5 304.1 106.2 299.0 82.1 297.3 71.2 280.3 82.3 284.9 67.0 302.4 80.0 272.3 80.1 280.5 69.2 303.8 92.7 260.5 64.6 206.5 114.9 290.3 70.9 279.7 85.0 262.2 88.8 277.6 57.5 305.2 89.2 322.7 102.0 279.3 71.2 264.1 65.2 268.8 45.4 315.1 100.1 277.3 68.3 247.0 67.8 292.8 92.7 262.7 57.4 265.3 44.3 318.3 88.4 296.1 79.3 301.8 88.6 263.2 68.2 292.1 81.3 285.0 67.6 269.5 78.6 303.6 76.7 273.7 60.5 260.6 55.7 332.0 112.4 282.4 65.2 310.2 97.1 268.1 65.6 331.8 100.3 281.6 78.8 276.7 89.8 267.7 61.8 253.2 72.7 280.6 59.9 279.3 83.6 282.4 93.4 239.3 44.6 242.4 39.7 285.1 67.4 305.2 88.4 267.2 47.0 259.4 65.4 286.8 68.6 286.2 81.2 285.0 68.9 194.9 87.3 251.3 55.8 235.3 42.5 266.3 68.2 246.6 42.3 300.8 80.3 284.1 70.3 290.6 95.2 286.3 68.0 270.2 63.8 281.1 69.9 288.5 80.5 292.1 71.0 266.1 64.3 299.1 88.4 261.5 72.8 250.1 84.0 259.3 57.5 272.7 61.4 308.8 92.6 263.9 76.8 300.5 80.3 263.6 70.3 309.8 110.5 250.1 54.0 261.7 63.7 301.6 83.4 268.1 56.1 241.9 54.3 290.4 90.1 276.3 73.5 255.4 52.5 288.5 65.5 291.1 61.7 257.7 57.1 285.3 76.0 303.6 84.2 270.3 87.4 301.9 84.9 309.8 78.7 286.0 74.8 293.0 79.2 270.4 66.1 301.8 73.0 278.8 67.0 260.0 41.3 248.3 50.4 308.8 92.6 303.8 86.9 296.0 77.7 281.4 60.3 256.7 62.2 318.0 97.0 298.7 99.0 273.5 76.0 296.8 91.8 282.6 66.7 272.6 67.1 297.0 85.8 269.3 49.9 315.3 98.8 246.0 57.0 287.4 72.2 262.7 83.8 284.9 69.2 284.2 90.1 263.7 72.2 324.9 100.4 275.2 66.7 276.4 72.7 282.7 74.4 292.1 79.9 257.8 63.9 252.8 69.6 306.3 98.0 276.2 77.4 286.2 59.0 279.1 67.2 287.6 67.9 282.7 67.4 300.1 106.1 233.8 42.6 287.4 66.9 275.6 61.6 329.6 106.6 276.9 79.9 285.4 79.9 322.1 95.0 274.1 64.3 313.9 106.2 231.2 37.1 275.6 77.7 282.3 74.9 278.9 68.8 278.5 64.1 265.5 76.6 291.4 76.1 289.1 58.7 302.8 100.8 240.7 61.2 260.4 51.2 294.8 79.8 277.3 78.1 317.1 100.3 323.3 113.4 305.4 84.7 273.8 64.2 310.9 78.5 336.0 110.7 301.3 82.7 242.3 66.3 282.2 73.2 293.6 87.0 310.3 88.9 277.5 62.3 224.2 41.9 258.5 70.5 301.8 90.1 288.3 76.7 285.5 74.6 262.9 62.8 300.8 104.1 294.7 79.1 317.3 105.8 294.8 88.5 263.0 64.6 256.9 60.1 290.0 78.6 309.5 89.7 316.0 92.6 304.0 94.2 256.7 66.7 283.9 64.0 273.0 80.1 316.9 87.9 301.4 90.9 280.6 76.9 303.3 98.4 304.9 89.8 284.3 74.1 273.8 73.8 265.7 68.7 266.7 72.8 260.7 77.0 293.2 85.6 250.0 60.1 255.1 64.9 282.1 75.9 294.9 72.5 292.7 82.7 291.8 69.0 333.7 114.7 279.8 79.6 322.4 104.2 273.5 75.5 238.2 48.4 252.9 48.9 325.4 110.4 266.9 72.4 270.4 66.5 277.4 59.5 258.4 52.0 253.2 74.6 274.7 71.6 290.3 79.4 266.5 57.2 275.2 75.8 305.6 93.9 172.0 42.7 266.1 70.5 247.6 48.8 281.5 79.8 278.6 76.1 279.2 57.0 280.3 80.8 278.6 73.4 295.6 86.8 253.4 57.9 292.6 77.8 261.0 73.7 310.9 93.7 255.2 59.7 327.2 115.7 301.6 80.8 275.1 79.6 287.6 79.4 264.1 70.4 298.5 97.6 279.2 69.8 280.6 65.6 293.8 82.7 269.1 71.2 291.2 92.6 306.4 94.6 255.8 43.4 253.0 71.8 271.0 55.9 312.0 84.6 270.0 76.5 290.0 98.4 282.1 66.0 306.4 100.9 325.1 90.9 277.8 68.8 324.6 94.1 310.8 91.8 325.9 105.9 298.6 63.7 311.8 102.6 296.5 74.8 276.0 71.0 277.0 57.7 298.3 88.5 274.9 67.5 252.3 67.7 286.9 73.7 275.2 90.4 295.2 86.2 271.7 61.8 282.6 65.9 290.3 87.7 295.8 80.7 284.4 74.4 240.0 66.4 309.9 82.8 308.0 92.3 275.2 66.7 288.9 80.6 286.0 81.7 297.4 77.7 293.1 66.4 251.0 59.7 315.7 86.9 256.0 53.5 274.8 87.2 286.0 101.6 278.5 63.1 304.0 82.3 302.5 78.9 293.6 90.4 281.8 62.7 265.0 76.2 254.0 60.0 300.7 96.1 278.8 71.5 274.0 69.7 247.8 56.7 287.8 79.2 271.3 78.3 273.0 69.8 260.3 62.7 248.5 53.1 295.7 94.7 277.2 73.6 308.3 102.6 289.1 74.8 301.3 81.1 258.0 81.6 262.8 75.9 282.4 77.5 316.6 102.8 266.0 69.9 243.6 61.9 317.4 104.4 295.7 87.6 299.9 84.0 263.8 67.7 312.8 97.3 301.8 87.0 196.1 90.6 299.4 88.8 276.8 88.4 267.6 83.4 245.4 43.4 303.5 84.3 267.8 56.2 276.8 70.3 251.8 57.0 276.8 62.5 292.1 88.6 270.8 67.8 285.6 68.6 280.7 63.8 296.1 89.5 263.7 50.0 280.6 70.5 268.9 82.1 227.8 44.0 266.6 67.7 331.1 118.8 272.7 57.1 323.7 105.4 317.2 103.6 222.8 44.3 274.7 76.3 287.2 77.7 295.1 90.7 278.0 69.3 248.6 65.1 264.1 73.2 245.7 72.1 316.7 99.3 273.4 70.1 274.2 67.6 267.3 67.0 284.6 77.7 288.6 71.0 247.7 74.0 279.5 75.5 321.2 107.4 316.0 107.2 285.3 71.3 262.0 59.1 282.4 85.6 292.7 69.1 259.0 90.5 278.3 71.2 291.6 79.1 271.8 63.4 252.9 63.9 289.1 91.8 262.9 70.6 292.1 71.6 296.0 88.6 288.7 70.6 269.1 76.2 278.8 66.8 293.6 74.4 263.4 75.7 307.7 101.2 298.0 73.1 278.2 77.3 294.9 87.1 301.0 79.9 307.2 92.8 306.8 107.7 293.9 76.4 264.1 73.5 276.6 78.0 262.4 52.5 280.8 95.7 265.0 57.9 235.2 53.9 304.4 84.2 273.1 68.1 261.5 66.9 234.4 51.6 279.9 74.3 293.0 75.6 293.9 72.7 266.1 49.7 278.4 62.3 250.4 66.7 265.3 80.1 254.5 54.8 276.3 72.7 265.9 80.3 282.9 70.0 285.3 76.4 243.9 60.3 266.6 52.1 273.3 82.2 288.0 73.0 278.9 74.0 295.3 72.4 269.3 67.3 293.6 68.4 287.0 73.7 315.3 99.1 271.2 77.7 293.3 80.4 250.8 59.1 290.5 73.3 297.1 69.9 298.3 90.4 280.4 66.5 256.5 66.1 281.8 87.4 255.3 59.7 265.7 56.2 289.1 74.8 269.0 57.3 257.9 57.0 291.1 81.5 312.5 107.7 285.5 69.4 279.0 76.9 304.9 95.1 318.5 101.2 239.2 63.4 295.5 76.9 269.1 62.8 260.1 59.6 247.7 58.8 287.9 77.5 251.6 48.2 292.7 82.8 270.4 74.5 320.6 111.2 281.3 63.1 301.1 90.2 288.5 93.0 280.4 73.5 262.2 52.8 266.4 67.0 276.7 54.0 248.5 49.3 231.2 49.1 283.5 76.8 285.4 79.0 302.2 80.2 285.3 72.7 285.3 72.3"/><path class="s" marker-start="url(#m1)" marker-mid="url(#m1)" marker-end="url(#m1)" d="M270.6 348.1 412.7 318.1 302.1 322.1 336.0 327.4 432.8 325.8 396.5 320.4 329.3 331.2 230.9 355.5 302.4 322.8 344.3 350.3 370.4 318.1 333.3 327.2 357.6 339.6 302.8 321.3 240.4 353.1 399.2 339.4 331.2 336.9 258.8 340.6 365.5 330.8 319.7 330.2 329.5 338.9 404.9 332.3 307.9 345.1 304.7 322.9 272.2 335.1 411.3 321.7 316.8 343.1 239.7 336.4 295.2 334.2 203.3 327.5 316.3 332.1 273.8 320.5 244.2 329.9 345.5 327.4 345.0 338.6 293.4 332.1 289.2 340.5 311.8 325.4 360.6 335.3 358.5 326.9 259.9 342.6 320.3 329.6 320.1 328.1 308.3 319.8 392.6 326.7 281.9 321.6 213.1 328.4 236.4 329.0 250.4 347.1 337.3 335.5 310.1 369.2 342.6 346.0 351.1 344.6 359.5 345.2 437.8 317.1 339.1 340.1 252.9 349.6 298.4 330.3 331.9 343.6 301.8 347.4 333.3 340.8 237.3 336.4 337.2 332.3 327.8 347.7 210.4 322.0 289.5 336.0 381.0 321.7 242.2 325.7 236.3 345.3 337.6 330.8 329.9 341.9 318.9 340.7 398.1 334.3 196.1 332.4 264.8 345.3 172.2 336.9 351.2 344.2 329.5 344.5 363.7 317.7 252.0 323.8 307.2 350.1 211.6 344.0 305.8 336.2 342.0 336.5 250.5 328.1 245.0 328.4 249.4 335.5 249.8 319.2 288.8 334.7 253.2 328.7 158.7 333.2 352.5 326.9 304.7 337.2 271.3 335.8 406.5 324.6 262.8 339.7 338.6 346.6 341.3 322.4 301.4 364.9 350.9 318.7 237.9 336.0 315.4 344.9 393.0 326.5 334.3 348.9 212.2 339.3 288.2 321.1 174.5 344.9 331.9 331.1 356.2 344.4 263.8 339.8 229.5 312.5 299.4 333.6 239.4 336.0 293.3 343.4 335.5 322.1 352.4 328.2 260.4 354.1 285.3 325.9 312.9 334.5 247.0 341.4 342.3 337.9 285.3 335.3 337.4 324.8 303.2 329.2 286.3 350.8 350.1 346.9 191.1 335.9 239.7 335.9 290.1 318.3 353.0 327.7 309.2 327.7 288.5 340.9 241.9 323.0 344.0 345.6 350.6 325.4 376.3 337.1 241.2 355.6 234.9 334.4 296.5 324.3 339.0 342.9 316.2 318.5 415.7 334.5 344.9 323.2 421.9 311.2 205.6 343.8 172.7 319.6 250.5 338.2 331.7 321.4 360.1 342.9 231.2 352.1 213.8 343.6 277.5 318.1 316.5 352.3 288.5 322.0 316.9 347.7 289.9 338.7 297.2 340.3 361.8 333.9 357.7 342.1 340.9 316.4 224.9 345.5 392.5 339.2 342.5 334.9 249.1 340.7 199.8 341.5 249.2 334.8 233.0 332.8 206.8 331.9 220.7 350.8 236.7 339.3 282.3 328.6 372.0 351.0 299.8 365.8 342.7 336.3 296.4 339.6 189.5 367.8 329.4 327.3 321.5 331.5 383.7 296.3 214.3 349.6 273.4 321.0 252.4 346.8 341.8 327.9 326.7 330.6 281.0 338.3 444.4 334.0 258.9 343.7 282.4 330.4 380.5 332.0 259.1 330.7 235.8 338.7 337.1 341.4 262.5 326.2 355.3 320.8 231.2 339.8 297.0 330.9 327.4 343.3 294.5 326.0 269.5 364.9 298.9 338.7 308.4 345.0 341.0 346.6 299.6 339.8 288.5 348.7 367.9 342.6 268.0 313.5 253.6 338.7 266.7 325.0 233.8 326.8 320.9 325.8 267.3 336.4 218.5 352.6 246.9 327.5 287.9 358.9 354.5 317.6 339.7 324.9 350.0 318.9 327.8 335.5 377.7 327.5 349.4 330.0 232.0 339.0 375.6 311.3 342.7 344.4 299.2 335.1 249.8 327.4 262.0 335.1 268.2 349.8 319.3 360.0 304.7 338.8 280.4 338.1 315.4 328.8 299.6 330.6 296.7 324.7 210.8 364.2 139.0 332.9 356.4 339.7 287.7 334.9 247.7 346.0 300.0 332.8 313.7 337.0 251.3 321.8 259.8 336.0 194.3 325.8 344.7 319.0 362.1 343.4 290.8 336.9 313.7 337.0 328.0 320.0 396.1 330.4 282.3 339.0 279.3 356.3 275.3 327.8 306.5 334.7 180.3 330.5 197.2 333.3 354.6 331.4 312.6 366.6 360.8 323.1 304.9 339.9 382.4 340.9 205.8 342.1 264.7 289.8 269.2 328.4 272.4 343.7 424.7 335.9 326.6 344.3 323.1 319.6 320.1 341.1 170.8 335.9 341.0 327.3 266.8 353.8 286.5 345.3 310.7 329.0 262.9 332.5 333.1 343.0 284.5 346.5 260.8 346.9 361.8 328.1 322.7 331.5 265.0 332.6 284.4 340.6 244.9 321.8 202.0 337.9 333.6 350.3 348.9 324.3 341.6 336.0 310.9 314.1 387.4 346.7 373.6 339.8 339.7 332.7 285.1 323.0 306.1 327.4 221.9 350.3"/><path class="s" marker-start="url(#m2)" marker-mid="url(#m2)" marker-end="url(#m2)" d="M328.6 320.6 253.7 302.1 308.4 319.0 313.6 316.6 339.2 328.1 297.9 341.0 287.4 316.7 253.3 322.7 280.9 326.3 340.1 314.8 314.6 335.0 231.4 346.7 322.2 327.8 362.0 320.7 303.2 330.5 252.2 315.9 313.6 347.8 299.6 322.2 384.7 329.0 319.7 342.2 309.4 301.4 233.1 323.2 371.8 333.2 332.4 328.4 301.7 308.0 269.6 324.0 363.4 313.6 299.2 316.7 343.5 321.7 236.7 350.4 296.0 326.1 284.6 333.2 325.5 319.7 262.9 323.4 321.0 311.8 294.4 334.8 369.5 322.8 299.0 327.9 323.7 327.9 343.1 309.2 358.4 323.5 246.8 352.2 300.0 318.6 329.3 319.3 314.9 342.4 322.6 325.6 342.4 305.1 328.6 311.1 334.9 322.5 303.8 321.7 251.2 354.2 254.2 346.1 361.7 318.6 333.7 320.8 301.3 336.9 316.6 325.2 317.3 318.8 259.8 335.8 318.5 316.7 339.0 336.6 245.3 321.2 462.0 320.3 292.0 325.3 309.2 326.1 272.4 332.7 317.4 302.8 301.8 348.1 227.5 329.2 285.6 315.9 292.9 325.1 308.6 332.1 295.7 324.1 274.4 312.7 275.7 316.5 319.2 352.3 320.7 349.0 278.0 332.2 259.1 325.0 278.5 322.8 304.0 329.5 369.8 325.3 377.5 336.9 276.5 329.8 300.9 329.2 336.5 316.6 284.4 319.1 316.5 320.2 269.5 333.2 472.9 327.2 315.2 322.3 342.5 315.7 254.3 322.9 260.1 342.6 315.7 328.3 232.6 333.0 287.0 318.8 304.0 329.0 333.2 324.3 252.9 319.7 364.2 321.0 356.0 313.7 348.8 305.2 305.3 323.4 265.3 320.3 325.2 333.1 244.8 370.0 273.6 325.3 285.8 336.3 295.0 325.9 311.1 335.7 278.7 304.9 302.1 327.7 339.2 319.0 266.4 317.7 326.7 330.0 290.3 335.3 396.4 297.9 347.3 335.0 264.5 321.0 314.0 322.2 246.0 321.4 204.7 328.8 365.8 315.9 270.9 340.2 226.0 331.9 279.2 326.5 264.4 321.5 357.0 318.6 316.1 317.1 279.8 325.4 331.5 319.0 285.8 335.0 329.5 319.5 272.5 316.5 274.6 329.6 312.1 327.5 212.0 340.8 344.2 305.5 324.1 336.6 295.5 330.8 323.1 323.5 351.8 320.4 336.1 320.6 267.3 335.9 282.7 330.5 286.8 318.1 310.7 324.0 324.8 338.7 295.1 321.7 317.8 330.1 378.9 315.7 348.8 349.0 304.0 350.6 287.5 326.3 300.2 330.4 228.4 309.4 255.4 335.2 356.5 316.2 272.6 318.3 313.8 336.8 350.1 313.5 344.2 331.8 246.0 317.6 230.9 325.0 285.6 334.0 353.8 334.7 222.2 314.9 273.6 315.2 298.7 317.2 310.7 327.2 338.9 315.7 346.2 315.7 322.3 310.5 294.9 313.1 318.7 329.8 289.9 329.0 320.8 326.6 278.1 315.7 368.3 302.4 319.2 324.5 204.2 326.5 255.1 331.9 262.0 329.4 246.5 325.5 301.9 317.6 306.9 294.1 269.0 318.6 373.9 326.9 272.5 324.3 323.4 328.4 209.9 314.5 388.7 313.1 267.0 344.2 282.9 329.8 248.1 322.0 321.9 324.8 319.1 329.0 221.8 347.1 317.1 307.2 250.7 334.4 335.7 321.8 317.7 324.2 344.9 316.0 329.1 317.7 338.2 323.9 243.0 315.4 305.6 320.9 360.4 317.0 320.7 321.7 388.2 318.2 323.4 323.6 341.3 315.3 261.9 321.7 302.1 332.6 279.0 314.4 194.2 329.4 218.1 344.1 308.6 343.1 245.6 321.8 286.2 336.0 371.2 341.0 311.0 323.1 369.4 333.7 290.7 318.4 291.7 319.0 256.5 330.6 278.9 322.3 251.1 312.0 294.5 314.5 371.4 329.2 323.1 306.2 303.1 322.6 314.4 325.8 358.6 335.2 275.0 333.2 275.6 314.9 301.0 323.4 356.9 322.2 390.8 339.4 238.2 333.1 311.9 318.9 254.4 321.4 284.3 329.0 282.2 319.7 228.0 349.3 263.8 351.7 370.1 324.9 223.5 318.5 295.0 332.8 244.0 331.1 233.3 312.7 267.1 344.7 314.5 311.8 324.0 334.7 209.2 334.8 248.2 326.9 382.5 321.7 249.3 336.2 266.2 346.1 320.3 327.8 208.6 352.6 288.9 326.0 239.8 329.8 294.9 333.2 289.1 332.2 270.4 311.1 273.6 327.9 313.1 338.8 363.9 312.2 329.8 326.4 271.5 315.9 280.3 319.9 327.8 332.2 232.5 328.7 311.3 309.7 254.9 309.8 311.0 323.9 334.0 313.6 365.2 310.6 300.3 319.7 261.3 322.3 348.7 332.7 219.0 316.0 243.8 311.2 337.2 338.3 314.6 327.5 238.4 337.6 274.9 331.7"/><path class="s" marker-start="url(#m3)" marker-mid="url(#m3)" marker-end="url(#m3)" d="M296.8 315.0 278.8 319.8 304.7 291.2 300.4 317.7 324.4 274.5 170.4 313.4 280.5 293.4 289.5 314.7 274.6 327.2 283.1 304.7 329.1 314.5 298.5 302.8 317.4 333.9 314.6 311.2 265.7 298.3 285.2 312.4 274.4 288.3 320.8 306.0 331.7 328.2 305.8 313.3 334.6 330.6 321.5 319.3 338.8 308.2 300.3 307.9 316.7 315.3 286.9 322.4 342.2 322.4 307.0 298.7 368.1 318.3 313.7 314.8 333.9 324.6 331.9 316.9 311.3 327.4 306.3 309.0 314.8 293.0 282.6 311.1 309.9 308.3 301.9 307.7 306.9 301.5 324.2 316.5 241.6 309.8 314.1 314.3 233.1 294.1 343.1 317.4 277.8 301.4 335.0 313.6 259.4 301.7 249.1 304.4 278.0 307.6 325.4 308.7 267.2 326.1 329.7 316.9 305.9 320.1 287.7 317.8 304.7 317.7 296.7 303.8 341.4 315.8 281.2 323.8 325.6 319.5 303.3 333.2 350.0 302.9 300.3 292.8 319.6 313.0 307.0 308.0 341.6 329.7 295.0 300.5 306.4 295.6 296.7 311.6 341.8 318.9 323.0 315.6 275.0 313.3 305.5 304.6 309.1 308.8 314.0 319.8 304.4 322.6 265.6 334.5 270.8 317.1 312.6 305.8 314.5 312.5 274.5 295.1 369.5 301.5 251.3 322.7 248.9 319.4 325.8 312.9 305.6 300.6 245.0 321.0 312.1 309.9 298.5 291.8 302.3 310.8 253.0 308.3 313.2 313.3 291.7 291.5 279.0 302.5 252.0 329.3 332.0 297.4 273.3 322.0 296.4 304.6 263.5 312.0 341.7 308.5 356.3 324.2 326.9 302.4 288.3 340.3 345.2 310.9 307.1 307.7 281.9 321.2 262.7 306.1 270.2 302.9 298.3 294.4 252.6 318.0 291.6 295.3 321.9 309.5 339.7 289.8 324.3 336.5 295.6 302.7 242.9 289.6 333.4 310.3 332.8 324.7 315.1 305.0 290.3 304.1 311.1 278.0 270.7 327.2 295.5 312.6 277.7 305.2 281.6 304.9 290.6 289.0 235.1 300.6 270.3 302.7 335.4 310.0 230.7 302.5 246.5 318.4 351.1 334.9 328.6 321.5 327.0 297.4 290.0 320.4 325.0 335.7 347.9 300.1 308.6 310.5 305.2 306.8 290.8 299.1 314.8 304.7 311.9 286.5 316.4 307.8 318.0 321.3 336.9 315.8 320.0 309.8 429.7 281.9 264.5 301.5 246.8 328.5 264.0 319.8 250.2 337.1 270.2 325.2 295.8 282.5 299.4 295.4 307.3 328.3 320.8 318.2 295.5 327.7 339.2 308.7 287.8 320.3 325.0 323.2 300.9 307.0 324.9 326.9 314.4 307.6 269.7 287.7 256.6 333.2 301.4 300.4 293.2 319.6 275.2 307.4 319.5 308.4 336.5 322.7 288.4 293.7 270.2 308.8 277.3 314.0 238.2 315.3 326.3 313.6 345.3 318.6 316.0 319.1 305.7 311.8 396.0 312.1 333.1 294.2 274.0 329.2 292.0 319.5 351.7 320.0 359.3 324.6 317.8 323.0 254.9 299.8 288.2 335.0 344.0 312.9 318.6 315.9 269.6 326.3 298.5 321.4 284.7 284.4 334.3 325.5 367.5 326.4 273.5 321.4 259.7 340.3 233.4 302.8 203.9 321.4 272.6 332.2 218.2 316.1 353.3 316.9 303.4 306.6 262.3 321.3 290.3 323.0 307.3 303.5 298.2 326.0 298.0 315.7 349.0 312.2 332.5 303.8 355.3 305.0 302.3 297.1 328.3 321.1 287.5 303.4 330.3 308.9 244.3 301.2 284.1 325.2 284.9 301.7 263.3 310.1 337.6 327.6 263.1 321.0 325.3 323.0 253.4 287.9 319.8 311.3 300.2 308.6 352.8 314.4 336.7 303.0 272.2 298.4 317.1 313.6 318.8 295.7 357.4 314.1 320.7 317.5 323.7 312.9 340.6 299.6 343.4 320.5 309.2 315.2 297.0 310.8 361.7 320.5 320.1 313.9 291.1 284.9 315.0 316.7 371.3 289.6 318.0 285.9 340.0 306.5 249.8 292.2 300.5 326.6 320.7 314.3 316.4 318.9 296.2 289.1 316.6 317.7 284.3 318.5 326.1 303.0 347.5 323.6 314.8 315.8 302.1 309.8 251.4 323.9 228.6 299.8 280.3 302.6 270.0 299.1 304.1 307.1 225.5 308.7 303.4 313.7 273.1 316.8 358.4 335.9 296.1 309.6 310.9 322.1 304.6 324.2 298.3 316.4 340.4 315.5 303.5 302.6 352.6 315.6 332.1 325.9 323.8 313.9 214.9 316.3 329.5 300.6 301.6 306.3 337.9 294.1 285.3 284.5 238.4 282.3 253.4 305.6 323.7 326.4 257.1 320.4 327.0 319.9 301.0 324.6 357.9 324.9 325.5 313.7"/><path class="s" marker-start="url(#m4)" marker-mid="url(#m4)" marker-end="url(#m4)" d="M216.1 310.4 331.3 299.0 352.1 319.1 341.1 293.0 291.2 278.9 300.4 300.1 328.6 308.8 313.9 297.5 324.5 310.6 321.3 299.5 290.7 304.4 242.8 298.2 346.7 316.1 258.0 276.4 279.2 296.9 283.4 297.1 313.6 297.1 312.1 294.1 317.1 297.5 306.3 290.5 297.0 297.1 359.7 316.6 309.0 283.3 303.7 283.9 287.9 326.1 292.4 297.6 294.8 282.1 274.8 308.1 326.1 291.1 288.0 297.6 252.7 304.6 307.0 296.7 239.3 304.3 246.4 298.0 302.7 306.2 324.8 304.4 306.9 293.5 257.7 285.6 290.6 314.0 315.2 288.8 309.7 292.4 309.9 302.9 312.6 298.2 264.7 288.0 224.6 311.1 323.8 310.0 311.4 285.4 326.6 298.5 310.5 279.7 285.3 300.9 308.9 311.4 258.0 313.4 365.3 298.4 309.8 291.1 296.0 294.3 264.6 289.8 363.1 283.7 333.8 306.7 309.9 299.7 304.6 306.1 328.1 305.0 374.8 296.8 264.7 285.3 245.6 298.4 307.4 304.8 326.1 306.9 318.7 312.5 304.1 293.2 311.9 313.4 292.7 315.0 290.2 295.8 322.5 291.8 295.1 299.0 299.9 289.0 312.3 305.0 318.0 299.3 271.7 298.1 274.3 309.5 277.6 300.1 322.9 324.0 341.4 297.7 255.8 283.0 314.7 308.5 273.6 288.1 334.0 302.8 350.4 308.8 313.9 311.6 257.9 283.4 344.5 299.7 346.8 306.4 258.4 304.3 252.3 296.4 308.3 297.9 252.9 311.4 306.3 313.6 295.5 307.3 341.5 286.6 337.2 318.5 342.7 306.9 317.5 303.3 306.2 309.6 329.2 292.4 290.6 293.2 269.2 281.5 272.2 313.8 297.5 276.8 283.5 309.6 315.3 314.2 299.2 302.6 332.0 298.9 340.5 291.0 300.9 294.9 312.3 296.4 288.1 318.8 297.6 299.4 289.2 326.1 287.9 307.5 277.3 303.2 344.9 293.3 292.9 308.9 309.7 300.4 263.5 296.5 275.9 290.9 295.4 319.3 324.3 286.3 272.4 308.2 311.2 306.5 296.1 300.2 242.5 309.2 283.9 292.6 266.1 290.1 277.5 300.6 287.6 284.7 318.6 283.8 285.4 278.9 205.6 286.7 309.7 300.0 316.0 303.1 304.8 304.1 341.4 289.5 247.4 300.0 307.5 298.4 295.8 306.2 253.4 290.3 260.0 311.3 304.6 291.3 307.6 312.5 295.3 292.7 326.6 281.6 272.0 287.3 294.6 285.8 305.7 311.8 279.5 304.1 335.7 281.8 267.1 298.0 334.4 306.4 298.5 297.3 294.3 311.7 290.8 308.3 335.6 296.6 212.9 296.2 333.5 320.3 321.0 313.1 297.3 300.7 288.2 303.7 324.3 315.3 307.9 301.9 295.3 299.1 342.1 313.1 314.9 309.7 286.9 298.7 276.6 294.1 380.3 303.2 295.7 294.8 155.0 315.2 311.4 303.7 322.9 316.0 331.3 294.0 354.2 286.8 345.8 279.4 297.6 291.5 211.0 290.0 328.5 284.4 352.7 304.0 323.1 310.3 274.2 321.4 247.6 299.0 323.0 302.0 348.2 296.5 356.3 285.2 312.2 285.0 303.5 303.9 349.7 303.4 292.4 289.3 257.4 296.0 327.3 302.5 264.8 312.1 220.6 337.0 247.6 307.3 273.9 302.8 334.5 318.6 329.9 304.7 349.9 289.9 325.9 303.3 344.3 308.0 297.7 290.9 335.8 257.5 299.4 295.4 298.8 296.4 325.5 314.3 334.1 292.0 309.1 295.8 298.6 281.5 295.4 292.2 241.4 294.9 318.3 317.7 290.7 288.3 321.6 292.2 330.0 297.3 359.2 316.2 315.5 283.0 327.4 307.7 279.9 300.3 336.8 291.4 310.4 291.8 333.8 295.2 274.7 283.5 304.4 320.4 314.2 305.2 264.8 306.5 307.4 322.5 308.9 302.5 213.4 301.2 343.1 301.5 349.4 299.1 308.8 293.5 322.6 300.2 308.4 294.3 343.9 301.9 356.9 323.6 264.5 303.8 311.4 295.7 263.7 315.5 267.0 318.5 304.9 324.3 285.9 286.9 329.8 331.4 338.8 313.4 275.3 314.6 315.5 308.5 362.2 313.2 273.1 304.6 299.3 287.4 240.6 308.1 331.0 288.3 313.4 276.1 323.6 300.6 291.2 292.6 280.9 287.1 331.0 296.4 322.5 299.4 278.7 299.2 233.1 307.7 278.8 285.3 317.5 296.8 319.4 298.0 325.5 314.8 285.3 306.4 292.2 309.1 296.4 306.5 245.2 279.1 332.9 299.9 256.3 289.2 306.5 293.4 288.8 295.3 324.7 306.4 279.2 305.9 344.1 304.1 306.6 309.3 318.2 310.1 263.3 302.8 280.2 290.0 323.7 305.2 297.5 293.1 325.1 301.9 338.5 295.1 273.7 298.9 311.1 293.0 323.3 297.2 309.4 311.4 332.9 288.5 306.2 301.8 261.6 292.7 254.7 282.2 335.7 308.7 322.0 306.2 324.4 315.6 318.8 295.1 308.6 296.8"/><path class="s" marker-start="url(#m5)" marker-mid="url(#m5)" marker-end="url(#m5)" d="M221.7 274.7 306.4 289.3 275.4 298.8 298.6 281.8 291.9 295.5 310.4 310.2 269.5 314.2 331.3 288.7 359.6 287.6 282.8 305.8 293.3 276.5 267.4 292.9 298.5 277.5 336.2 303.3 316.3 288.9 282.0 277.8 297.0 281.5 284.9 298.0 322.0 290.5 275.0 285.8 314.6 294.8 393.4 281.4 312.8 283.5 259.2 303.1 335.9 293.2 303.2 269.9 322.6 299.7 298.4 280.1 247.6 288.4 293.8 289.2 291.9 288.3 279.1 289.8 281.0 265.2 287.8 290.8 302.1 298.7 305.4 285.0 325.5 301.2 308.9 286.6 318.8 289.3 322.1 290.3 224.9 279.4 341.4 306.6 303.8 279.7 312.9 287.1 281.8 291.5 310.8 287.2 293.6 285.3 273.1 287.2 307.8 291.6 301.7 300.4 304.6 282.5 308.2 298.3 174.3 295.4 346.8 295.1 284.5 288.4 299.8 285.8 311.6 288.6 308.5 305.4 333.6 290.6 326.4 278.9 328.1 297.4 295.5 270.6 309.9 291.6 309.1 286.8 299.0 270.5 329.8 284.5 328.0 292.4 328.6 293.5 313.6 291.8 292.4 283.5 327.2 286.7 351.3 267.5 314.5 285.9 245.0 300.4 310.3 289.8 317.0 287.4 323.4 315.1 307.0 299.2 273.9 296.7 316.7 295.4 293.2 300.4 308.3 282.9 274.4 290.6 385.9 309.4 301.7 290.0 385.4 290.9 319.5 288.5 267.5 293.1 289.2 270.4 347.7 288.1 320.0 283.5 345.0 282.5 264.7 286.6 283.5 295.5 316.7 305.5 335.1 291.4 331.2 279.2 262.4 293.2 300.9 279.4 287.1 280.1 308.2 322.2 298.1 282.1 326.5 264.2 293.4 290.3 300.4 297.2 287.4 303.0 222.0 295.0 291.4 285.4 322.0 280.5 325.7 298.9 274.7 276.8 307.8 268.5 291.8 290.3 295.8 295.3 314.1 285.1 321.1 294.4 282.8 297.0 307.1 304.1 340.5 303.9 320.2 304.4 304.1 305.1 318.0 278.3 305.1 284.4 292.5 290.5 252.3 275.7 265.5 288.6 272.3 281.1 299.9 283.3 307.6 267.3 327.8 270.1 327.6 290.2 321.7 319.5 300.2 274.6 276.5 277.0 292.7 285.2 259.2 296.1 308.5 276.7 317.4 293.1 268.4 293.0 333.1 308.5 289.2 292.2 292.9 282.3 297.1 274.9 299.7 278.9 314.1 286.3 317.2 288.5 262.2 285.8 266.0 305.3 338.4 297.8 291.8 275.0 293.5 310.1 292.1 284.9 277.3 279.4 294.7 274.9 342.8 279.8 243.7 293.7 318.5 290.6 298.6 268.4 268.1 267.6 273.5 287.5 246.3 313.2 293.8 277.0 365.2 294.2 323.2 288.6 316.0 273.1 255.6 276.2 311.9 297.6 298.4 288.5 276.7 279.7 275.4 310.9 272.8 276.8 263.5 271.3 281.0 291.8 315.0 273.5 305.5 289.0 268.3 292.6 299.0 299.4 274.9 271.3 293.8 299.5 317.5 284.8 276.6 279.4 311.6 291.3 336.0 280.9 322.7 289.2 336.3 284.2 303.9 284.6 263.1 310.6 243.9 270.7 285.3 292.8 367.5 306.4 249.5 275.1 249.9 266.3 325.1 319.4 313.9 288.1 322.1 297.2 270.5 294.2 301.7 271.8 306.6 298.1 267.6 286.1 304.0 271.0 336.1 293.7 299.4 288.1 312.5 288.5 325.0 289.3 333.5 283.9 264.1 296.2 283.9 288.1 351.8 296.0 324.7 300.9 337.9 296.7 306.2 277.9 293.7 305.5 288.8 294.3 315.3 277.2 270.9 284.0 351.8 286.2 306.6 289.0 263.5 301.2 248.0 284.2 306.8 304.8 291.3 278.1 304.1 284.9 316.2 303.4 325.2 293.3 336.6 310.7 329.5 282.8 305.7 279.2 334.7 289.1 284.9 284.0 185.2 254.3 204.6 284.7 253.1 268.0 338.0 310.3 257.7 285.6"/><path class="s" marker-start="url(#m6)" marker-mid="url(#m6)" marker-end="url(#m6)" d="M294.4 288.1 282.5 280.9 306.3 283.9 289.8 276.6 298.0 276.9 282.2 285.4 297.3 293.3 321.2 284.3 294.3 291.4 303.2 284.4 254.3 295.0 293.3 262.4 320.7 281.2 329.5 273.3 309.2 283.6 276.2 290.1 346.2 281.0 278.0 305.2 276.1 289.2 310.1 273.5 328.9 284.6 267.2 265.7 317.4 266.0 304.4 288.5 337.4 279.6 273.3 273.8 325.1 267.6 309.5 288.7 337.9 274.1 310.2 276.6 307.5 276.6 305.5 276.0 325.9 284.9 260.2 274.0 323.6 292.0 304.1 265.6 279.6 286.3 342.6 285.2 299.7 279.2 310.5 277.3 323.1 277.8 276.7 259.4 238.6 284.9 324.4 268.3 309.8 278.4 289.1 281.3 246.5 266.4 331.9 287.3 263.9 267.0 315.1 278.4 319.3 275.9 263.6 278.3 317.4 264.1 315.0 279.8 297.6 274.2 335.9 291.1 306.6 295.3 338.4 277.3 336.4 285.7 338.7 282.7 242.6 263.2 323.4 275.5 322.3 283.8 270.8 275.8 298.8 279.2 282.5 268.2 316.9 286.9 298.5 266.0 319.6 280.8 294.7 274.4 325.1 279.2 305.9 299.8 305.2 259.5 305.2 282.7 291.8 284.8 284.6 269.8 205.9 284.5 254.9 286.1 297.2 271.3 241.5 273.5 273.3 283.0 324.0 266.8 330.8 269.6 315.1 289.0 253.0 276.8 330.7 272.6 280.7 272.7 320.8 270.5 355.2 251.9 342.3 282.6 283.0 267.5 320.7 291.6 325.6 275.7 311.7 266.0 257.4 251.5 290.0 276.2 312.9 264.2 316.2 278.4 330.3 279.4 335.5 283.1 225.1 295.5 305.7 289.0 282.5 272.6 210.0 300.9 250.6 298.2 311.4 269.4 335.5 282.3 332.3 285.2 298.9 269.2 332.0 282.3 299.6 288.1 352.0 293.1 324.5 290.1 339.6 277.9 259.8 262.3 315.4 289.7 259.5 264.5 265.5 268.8 278.5 289.4 317.3 262.9 338.7 281.8 314.0 265.8 304.8 268.4 276.8 260.2 307.9 270.4 301.2 283.4 302.1 277.4 316.7 274.3 280.1 282.6 314.9 271.9 282.9 279.2 322.7 274.1 305.3 256.4 328.3 289.5 319.3 278.4 304.8 262.8 329.0 267.5 312.9 276.5 308.9 274.0 318.8 266.0 347.2 285.2 325.3 276.9 256.2 274.3 325.3 296.1 305.4 305.9 322.7 289.6 332.6 295.2 249.6 273.8 331.0 301.3"/><path class="s" marker-start="url(#m7)" marker-mid="url(#m7)" marker-end="url(#m7)" d="M272.1 279.1 340.3 256.1 316.0 263.5 334.5 281.4 328.8 275.6 276.6 290.3 284.9 272.4 255.5 267.5 309.0 268.2 321.0 273.7 283.0 277.2 340.4 299.8 302.7 278.7 368.0 268.1 337.6 266.1 299.4 270.2 329.0 275.3 310.4 261.9 320.4 267.9 275.2 261.9 313.3 278.5 300.2 270.6 298.4 252.3 293.4 269.8 340.8 273.5 309.4 264.1 260.8 254.0 323.0 255.4 279.2 242.2 301.1 249.5 336.5 268.3 305.4 272.6 305.8 272.7 280.4 266.1 296.2 260.5 260.0 263.9 321.5 285.7 312.1 256.6 305.5 241.8 319.9 258.2 342.4 254.6 334.9 275.9 316.0 266.6 240.3 256.4 305.0 284.6 280.1 275.8 327.3 284.6 274.8 269.0 271.4 262.8 319.8 282.3 270.5 259.7 302.5 273.4 243.1 264.1 326.4 284.8 357.4 249.1 296.3 258.6 308.6 259.3 297.1 280.9 272.1 267.5 261.7 260.3 301.7 259.2 296.7 272.3 292.9 243.8 355.3 270.0 232.5 265.4 344.9 268.3 274.2 272.8 308.5 265.8 264.3 301.3 274.5 245.2 252.1 237.5 289.0 258.6 305.0 268.2 300.9 256.9 281.1 280.0 301.8 255.4 318.5 282.9 300.7 255.9 278.3 259.8 318.5 245.6 247.7 277.8 329.9 246.6 306.6 280.8 329.4 275.0 284.0 275.2 323.2 273.1 320.7 276.6 336.5 260.7 299.5 264.6 282.6 273.0 317.2 275.1 330.6 258.6 277.8 261.4 336.1 266.8 323.3 259.9 307.0 273.0 340.5 261.9 314.2 290.6 292.7 254.0 362.9 279.5 304.9 283.0 319.8 280.2 282.9 249.4 281.7 265.2 199.4 254.2 269.4 255.6 326.8 269.6 272.5 265.0 265.1 277.6 298.2 283.2 317.0 275.9 319.2 277.2 291.2 243.1 262.5 281.4 308.5 277.0 312.9 271.2 250.7 269.6 299.7 249.3 316.0 244.6 304.0 253.6 293.2 267.7 304.9 280.6 305.8 263.0 319.7 280.4 290.5 276.9 300.3 260.0 263.6 257.1 307.8 277.9 301.6 283.8 348.0 251.4 298.5 281.8 315.3 264.0"/><path class="s" marker-start="url(#m8)" marker-mid="url(#m8)" marker-end="url(#m8)" d="M271.4 244.9 353.1 247.5 292.9 264.9 321.5 278.3 244.7 255.7 307.8 248.4 306.9 236.8 262.3 258.2 331.2 265.0 297.0 256.8 343.6 256.5 316.2 246.4 268.4 256.3 315.2 265.3 334.1 264.1 298.9 271.2 371.6 249.1 309.3 268.4 312.2 243.5 332.8 274.2 240.3 269.7 305.2 257.4 280.8 258.4 287.4 262.1 324.5 264.3 270.3 272.8 330.8 271.5 321.0 260.1 329.4 267.2 245.3 269.3 305.3 245.6 274.6 248.9 328.9 245.6 322.7 257.2 287.0 257.2 288.5 251.5 296.0 236.6 304.8 243.1 319.3 236.8 285.9 243.2 281.3 258.9 324.0 246.1 318.1 273.8 356.7 250.1 292.8 262.7 331.8 258.0 277.8 254.8 304.6 271.6 279.9 258.3 292.7 247.9 314.7 265.5 345.9 252.9 286.9 259.7 300.5 275.9 322.9 255.7 282.2 258.6 310.9 257.3 364.0 267.6 297.0 266.0 280.9 240.0 347.7 266.9 318.3 246.4 331.8 245.0 246.4 236.9 289.2 250.9 317.0 283.7 307.6 244.5 256.3 252.2 282.0 254.3 285.2 235.4 279.0 267.3 125.2 260.6 228.5 267.1 302.8 237.1 300.4 264.9 333.3 258.4 328.9 258.3 298.1 257.4 328.7 262.5 269.4 249.7 318.2 241.2 272.0 257.0 294.0 241.8 311.0 262.3 258.3 225.9 320.1 278.0 323.4 251.8"/><path class="s" marker-start="url(#m9)" marker-mid="url(#m9)" marker-end="url(#m9)" d="M323.9 238.7 284.1 264.7 289.2 272.3 326.5 244.2 294.0 251.6 321.2 258.8 273.9 242.5 331.1 249.3 302.4 258.7 271.3 249.3 282.0 263.2 267.4 210.8 324.8 243.7 288.2 243.9 220.0 255.5 291.0 226.7 338.3 245.3 301.7 232.4 312.1 247.5 244.3 259.1 261.7 236.0 241.4 252.7 253.6 240.2 279.5 267.8 276.9 241.7 296.1 232.4 307.3 241.2 326.7 257.7 304.9 237.5 370.2 249.9 322.3 242.5 323.9 238.7 243.4 265.4 310.4 255.8 277.4 249.5 303.4 248.1 288.7 227.8 267.3 231.5 261.1 238.3 340.4 283.2 336.9 267.4 268.1 262.8 324.2 255.1 294.9 238.0 218.3 239.7 278.7 237.2 259.9 250.2 300.0 225.0 353.2 251.0 233.9 252.4 312.9 237.2 266.1 255.5 390.0 240.1 283.6 235.7 281.8 227.0 330.1 248.7 266.5 228.3 327.5 254.7 311.1 238.2 341.4 248.4 279.9 263.5 277.0 237.1 285.0 251.6 322.5 247.4 223.5 242.1 308.3 229.2 303.1 244.5 282.9 263.9 294.8 260.3 320.2 263.6 219.7 246.0 317.5 250.4 305.4 253.2 317.9 252.5 308.9 248.5 246.6 236.9 282.0 236.5 319.8 249.7 314.4 258.6 259.6 251.3 327.6 257.1 284.1 210.3"/><path class="s" marker-start="url(#m10)" marker-mid="url(#m10)" marker-end="url(#m10)" d="M303.9 249.2 311.6 231.6 268.7 234.6 318.2 248.7 282.7 248.8 301.2 220.1 298.8 221.1 331.3 255.3 338.0 240.5 331.2 253.1 326.8 244.9 307.5 212.3 316.1 253.2 313.3 232.7 278.3 241.1 282.6 237.2 265.7 243.9 310.1 252.8 280.1 224.6 313.9 236.7 311.8 242.1 253.2 243.0 306.0 236.1 285.9 241.3 251.1 226.4 317.9 236.1 310.8 236.4 283.5 210.9 295.5 247.6 289.4 242.8 292.6 239.8 299.9 272.7 275.2 241.8 294.4 233.7 321.5 228.9 307.5 232.4 336.1 228.5 275.8 231.1 229.8 217.6 291.1 229.8 282.3 230.6 339.0 254.8 256.7 232.2 295.3 220.5 232.9 228.6 298.2 234.7 319.7 243.5 302.4 237.9 267.9 248.0 308.6 232.6 264.0 257.1 374.8 249.5 304.1 232.3 320.0 252.0 334.9 236.8 297.7 222.5 297.5 209.8 400.0 242.7 309.8 226.0 319.1 230.6 280.6 222.0 270.1 245.2 348.7 241.0 334.9 233.2 327.8 263.4 367.0 232.1 296.1 226.0"/><path class="s" marker-start="url(#m11)" marker-mid="url(#m11)" marker-end="url(#m11)" d="M299.3 213.3 268.5 206.0 326.1 220.9 330.6 226.4 294.0 216.3 302.3 215.9 292.7 231.5 259.4 209.0 303.1 201.3 232.9 243.9 283.6 228.3 265.5 232.4 297.3 211.9 312.5 222.5 273.9 231.4 341.1 245.5 323.8 216.7 313.7 247.8 257.3 225.3 255.9 222.5 357.9 247.7 277.2 221.3 274.2 214.8 257.1 213.3 258.2 231.0 279.1 221.7 308.5 225.2 337.0 197.0 269.4 194.6 309.2 216.8 269.0 219.5 324.7 225.8 340.1 225.9 323.5 245.7 292.9 213.7 293.5 228.8 332.5 259.3 292.7 220.4 292.9 229.8 305.8 225.6 276.7 220.7 289.8 219.8 341.3 224.9 293.2 220.9 261.6 205.6 297.6 232.8 282.6 228.8 297.5 233.7 329.2 223.2 294.0 226.7 264.2 221.7 230.5 263.8 293.5 223.2 305.0 241.4 284.3 209.4 332.3 219.3 327.3 228.1 305.7 219.4 278.4 219.8"/><path class="s" marker-start="url(#m12)" marker-mid="url(#m12)" marker-end="url(#m12)" d="M302.7 208.7 321.5 222.8 279.7 207.7 317.6 227.6 281.1 206.0 325.7 234.7 344.3 214.9 330.1 216.5 302.2 208.4 152.6 230.8 298.4 218.6 236.2 211.2 315.4 202.2 335.9 204.4 236.5 214.2 276.4 222.1 238.6 214.9 324.0 205.5 336.3 226.4 306.5 219.2 311.7 209.7 268.9 224.2 292.1 208.0 293.6 197.8 284.3 223.6 327.5 220.8 218.9 203.6 271.0 188.3 241.9 207.8 317.6 198.1 336.5 225.8 321.1 187.0 334.8 220.7 328.1 236.1 308.9 197.2 307.2 219.9 247.3 225.6 308.2 216.3 295.1 200.1 318.9 196.0 284.0 226.6 239.5 189.9 311.1 203.6 288.6 201.6 266.8 234.4 288.4 224.8 300.0 207.7 307.0 221.5 218.8 230.8 305.8 198.4 315.0 218.0 319.7 216.9 241.7 207.9 328.0 208.2 273.3 219.9 322.0 223.0 289.3 224.4 331.8 225.0"/><path class="s" marker-start="url(#m13)" marker-mid="url(#m13)" marker-end="url(#m13)" d="M304.2 219.1 293.0 209.1 318.3 204.3 326.3 204.6 302.9 177.6 333.2 191.2 322.3 183.0 294.8 197.5 321.3 194.2 314.7 210.7 310.1 187.8 322.9 208.7 373.4 219.4 286.2 196.6 312.1 205.5 322.8 194.1 304.9 189.7 295.1 184.5 279.5 215.8 306.9 215.4 328.8 212.1 294.9 206.8 253.8 200.7 303.2 207.7 283.2 222.7 263.7 213.0 214.8 215.1 333.1 217.8 269.3 217.0 329.5 210.4 321.4 213.7 283.3 194.4 260.5 188.3 304.2 201.6 296.3 189.6 269.4 206.8 291.0 191.1 333.3 221.8 336.1 204.8 298.6 200.5 293.3 209.0 309.0 182.5 280.7 192.5 281.5 207.8 289.1 217.3 246.8 175.0 273.7 189.6 262.7 184.3 301.1 193.2 268.8 203.7 326.6 216.9 320.7 203.3 306.1 184.3 274.8 188.1"/><path class="s" marker-start="url(#m14)" marker-mid="url(#m14)" marker-end="url(#m14)" d="M292.2 192.7 190.8 185.2 266.2 186.9 333.8 190.2 247.2 180.3 243.0 202.5 326.0 202.5 303.8 152.0 311.9 185.9 298.3 183.3 322.0 221.2 294.4 165.8 217.4 194.0 276.3 175.7 333.1 197.2 283.6 186.1 289.9 205.5 395.3 183.4 272.9 186.3 270.6 187.7 326.3 196.2 279.9 174.5 316.7 201.2 273.2 204.6 283.6 196.0 330.9 200.6 308.2 192.5 321.6 196.4 304.3 185.0 306.2 189.4 279.1 177.0 276.1 171.6 325.3 198.2 299.4 180.1 328.1 192.8 258.7 186.0 304.8 189.8 300.0 191.1 293.4 181.5 320.0 178.3 251.7 186.6 258.5 192.7 270.5 182.8 254.4 160.3 280.2 191.3 278.0 186.1 289.4 208.1 246.2 182.9 284.3 180.6 300.7 171.8 295.3 147.3 306.5 174.2 293.8 181.2 249.3 163.1 258.7 178.9 280.1 201.5"/><path class="s" marker-start="url(#m15)" marker-mid="url(#m15)" marker-end="url(#m15)" d="M316.2 190.5 289.1 185.6 287.7 192.9 319.0 179.4 316.8 179.4 309.3 159.0 284.1 194.0 329.0 205.7 295.1 171.3 283.0 157.3 279.9 151.2 333.8 192.0 310.4 150.0 299.5 216.8 319.0 180.4 282.6 187.2 305.5 197.6 282.6 172.0 287.0 162.3 250.2 179.2 341.0 217.3 310.8 190.8 313.4 177.7 305.5 155.2 323.6 176.3 296.2 187.9 337.9 181.0 306.6 196.8 329.1 167.9 279.9 175.5 291.3 184.5 302.9 172.7 266.2 187.5 322.9 209.9 337.7 194.1 303.0 159.6 147.1 156.7 285.5 175.1 325.9 193.0 273.1 155.8 324.0 173.9 317.7 173.4 290.3 185.2 284.5 187.5 309.6 182.2 321.2 196.2 293.1 171.4 305.0 173.9 294.8 179.9 324.4 185.9"/><path class="s" marker-start="url(#m16)" marker-mid="url(#m16)" marker-end="url(#m16)" d="M300.1 180.2 253.4 159.4 299.3 178.2 340.3 203.0 314.0 166.5 308.2 136.0 325.8 173.6 302.5 155.2 277.0 142.3 303.7 157.5 315.3 163.0 319.7 166.7 323.7 179.0 268.4 172.5 289.8 148.0 300.6 159.0 323.1 175.1 316.3 174.7 308.9 167.2 296.1 158.6 305.3 167.6 314.4 157.5 303.5 161.4 289.8 137.8 291.7 162.8 326.5 188.0 298.7 160.7 285.4 158.3 324.2 193.4 284.0 170.9 255.0 152.9 285.9 158.0 312.4 168.9 307.1 169.0 304.0 186.8 312.8 147.7 318.3 163.4 302.8 163.3 307.9 184.1 328.2 142.3 300.7 163.7 317.5 182.5 248.1 161.9 257.4 150.9 296.3 152.3 312.2 168.4 327.5 157.5 339.2 191.4 296.5 176.3 217.6 145.2 273.1 159.1 352.9 188.0 326.2 170.7 300.9 157.2 303.6 185.4 281.1 155.0 307.4 170.7 308.7 176.6 281.2 140.4 295.0 182.7 289.5 172.1 274.0 145.4 290.4 145.0 315.5 162.9 288.9 196.7 320.1 180.2 304.6 167.7 282.3 180.0 313.9 172.4 321.7 151.6 310.3 173.6 311.7 166.7 290.4 146.4 300.6 188.8"/><path class="s" marker-start="url(#m17)" marker-mid="url(#m17)" marker-end="url(#m17)" d="M320.9 173.1 315.2 146.5 311.0 152.1 318.1 153.3 303.1 150.5 271.4 154.8 305.7 158.5 286.1 151.8 291.8 140.6 346.7 174.1 305.5 156.2 300.9 149.7 299.2 168.6 295.9 147.2 278.5 132.2 307.5 158.1 333.9 162.1 300.1 152.0 248.7 143.2 316.2 168.1 245.8 138.4 291.0 159.0 303.3 158.8 283.4 149.6 284.7 152.2 254.0 145.5 302.5 157.7 290.8 159.5 283.5 135.3 318.8 155.2 353.5 151.6 342.8 183.2 282.1 149.2 291.3 165.1 282.7 152.4 287.6 148.7 298.3 149.9 276.9 163.0 282.2 142.6 268.8 154.2 311.3 167.5 290.6 147.2 274.5 128.5 298.5 153.8 261.5 128.9 276.5 140.1 312.3 164.5 298.8 156.6 284.5 183.6 307.0 156.0 296.5 154.1 295.9 170.4 315.5 169.7 256.3 161.4 331.2 153.0 298.3 138.5 311.9 155.1 281.1 138.9 308.8 164.5 300.6 169.8 284.4 171.6 331.6 147.1 290.3 152.8 300.4 153.5 319.5 170.9 301.4 151.8 298.0 158.0"/><path class="s" marker-start="url(#m18)" marker-mid="url(#m18)" marker-end="url(#m18)" d="M285.7 146.8 278.9 128.8 300.7 155.7 260.1 133.9 296.9 155.7 294.9 150.8 317.7 149.4 296.1 147.4 249.0 126.6 291.0 125.0 261.9 143.1 293.6 148.9 284.5 124.8 310.4 164.4 279.9 124.9 306.8 141.8 258.5 151.7 299.5 158.8 290.1 139.9 327.4 163.7 311.3 143.9 251.7 128.1 296.8 121.5 285.5 131.8 276.0 139.7 304.4 151.5 317.7 140.8 279.2 118.7 307.5 162.6 324.5 145.1 269.1 129.4 273.5 146.5 316.2 139.8 275.7 135.9 297.8 126.8 291.7 149.6 289.4 122.7 322.8 148.8 322.9 134.8 264.7 123.5 286.8 118.5 297.2 133.0 304.0 139.5 336.6 155.6 356.0 144.7 303.2 162.9 312.5 159.2 221.4 120.2 328.2 136.0 304.4 132.2 321.8 145.2 307.3 141.5 307.1 133.1 306.7 113.0 298.0 140.6 292.4 131.3 294.0 144.6 304.5 136.8 324.8 145.6 308.1 145.4 293.9 149.5 285.4 147.7 229.1 154.1 292.2 139.8 292.0 147.5 282.5 142.7 264.3 124.9 323.4 130.3 276.9 131.9 307.2 124.3 259.1 127.2 298.7 135.5 310.5 138.1 288.2 121.1 324.1 147.1 240.9 109.2 305.9 158.2"/><path class="s" marker-start="url(#m19)" marker-mid="url(#m19)" marker-end="url(#m19)" d="M330.0 157.2 277.8 142.1 195.0 123.0 336.1 122.7 272.5 120.2 304.6 131.6 281.6 99.7 333.7 139.8 302.6 124.3 264.4 98.5 271.2 127.9 240.7 129.5 290.8 136.2 289.3 139.8 263.4 109.7 298.8 119.0 300.4 134.7 276.8 114.0 259.0 134.8 330.0 144.4 289.3 111.3 300.8 142.8 299.1 101.1 289.4 150.7 295.4 131.5 269.3 138.0 229.7 126.1 268.8 128.9 299.2 131.7 305.3 132.4 277.6 118.2 295.2 142.1 313.9 120.6 309.6 143.5 320.1 153.6 253.0 110.9 306.9 128.6 271.0 119.2 292.3 123.5 300.6 129.6 317.2 133.3 292.4 106.2 275.6 135.3 297.3 143.5 288.9 126.6 286.9 129.5 266.3 126.7 294.4 138.7 299.2 136.8 319.7 152.0 280.1 132.4 310.7 133.3 284.4 133.0 219.9 116.5 287.0 118.0 292.5 128.6 309.7 135.8 310.6 119.4 304.3 127.3 299.4 126.4 273.1 116.6 251.8 113.1 255.7 120.0 342.3 132.4 295.0 124.4 287.1 115.8 265.3 128.2 312.4 127.9 307.5 135.3 276.6 113.0 338.7 149.5 322.3 154.2 319.0 145.7 265.8 99.0"/><path class="s" marker-start="url(#m20)" marker-mid="url(#m20)" marker-end="url(#m20)" d="M283.5 163.4 329.1 141.2 303.2 127.2 285.0 115.5 292.9 113.7 289.7 129.3 243.0 85.8 316.5 128.7 298.0 116.8 288.7 121.1 285.4 125.2 343.4 149.4 272.5 114.0 255.5 89.1 309.2 120.7 288.3 108.6 291.8 118.9 340.7 137.5 294.0 120.8 274.3 114.6 311.8 115.4 320.4 120.0 307.5 120.0 289.1 107.9 199.0 98.8 296.9 107.0 237.8 107.7 280.9 113.0 289.9 133.5 291.7 146.8 280.6 113.0 252.4 115.3 315.2 132.7 306.4 116.5 280.0 90.6 323.4 122.6 306.1 131.7 300.7 114.4 319.1 84.3 291.4 127.8 259.0 131.2 259.9 131.8 287.2 114.0 304.8 116.4 302.6 127.1 325.4 159.9 248.0 114.6 279.5 102.8 285.4 111.1 303.1 115.3 265.9 133.6 297.9 130.9 277.7 107.3 312.1 137.0 350.0 142.7 290.4 98.7 301.8 111.4 332.0 139.1 318.4 120.3 289.4 137.8 238.9 93.5 301.5 126.0 267.3 100.7 272.3 126.1 334.2 140.8 326.9 117.8 304.2 114.6 274.7 105.5 295.3 96.3 317.6 145.1 325.9 141.3 225.0 125.6 284.0 91.8 322.7 132.7 251.1 108.9 297.8 124.0 304.3 138.7 302.2 130.3 307.8 133.9 232.0 93.9 309.8 117.4 291.8 135.2 261.2 139.9 290.6 97.4 307.2 139.1 306.6 116.9 308.3 140.7 316.5 141.0 301.1 116.4 259.1 98.6 303.4 117.8 296.3 118.1 290.2 122.0 294.0 145.1 297.7 118.6 329.8 122.5"/><path class="s" marker-start="url(#m21)" marker-mid="url(#m21)" marker-end="url(#m21)" d="M276.8 105.3 297.3 103.3 269.9 93.2 296.9 85.2 304.8 127.3 319.3 124.3 299.6 127.4 297.5 114.8 271.4 131.7 304.3 107.0 279.8 111.8 326.6 150.6 323.0 134.2 300.8 118.5 265.6 94.1 263.3 84.1 316.7 122.4 285.0 129.1 315.0 119.9 280.7 122.9 299.0 109.7 283.8 89.7 307.3 115.0 321.6 116.0 272.1 118.0 284.1 110.5 272.3 110.9 328.5 118.5 290.6 101.5 296.7 86.7 263.7 100.5 255.1 100.5 282.4 105.7 297.9 119.2 257.8 86.7 296.8 107.5 316.1 134.5 337.6 140.9 317.5 103.8 283.0 92.2 264.3 94.2 318.8 138.6 333.6 125.6 332.5 129.7 310.8 137.6 280.3 109.2 304.8 115.6 300.8 109.4 298.8 110.4 276.7 104.4 318.9 116.0 329.2 146.0 271.9 103.5 295.2 91.4 273.2 97.8 271.4 100.4 304.9 119.1 279.2 107.2 294.9 131.7 279.0 93.7 312.4 118.3 294.3 124.8 273.0 123.4 278.3 115.2 275.4 101.7 312.1 114.2 304.2 113.0 287.3 106.2 277.4 98.6 298.4 104.1 287.6 84.0 283.3 123.9 301.1 129.3 297.4 116.4 267.6 103.7 285.2 93.0 296.6 105.8 303.7 111.7 262.3 82.5 285.2 122.5 287.7 127.0 286.1 109.4 268.8 80.9 273.0 107.6 318.5 117.5 277.1 109.1 303.0 101.0 329.5 116.7 301.9 102.3 276.0 109.2 298.6 110.9 312.6 110.2 275.5 125.9 271.8 101.5 295.0 105.3 320.0 127.0 325.0 135.4 280.7 118.5 265.1 104.5 275.8 104.0 305.5 132.6 277.2 109.0 300.4 99.9 289.0 117.6 289.8 116.0 319.4 130.1 285.8 86.3 305.4 105.0 286.9 113.5 292.9 118.5 279.0 103.6 300.3 105.9 287.7 104.1 312.4 118.4 279.5 97.9 311.0 111.2 292.2 84.9 337.1 159.1 292.3 112.6 295.5 118.1 294.0 116.7 271.8 84.8 266.5 108.3"/><path class="s" marker-start="url(#m22)" marker-mid="url(#m22)" marker-end="url(#m22)" d="M261.5 62.8 306.3 111.9 281.7 91.1 328.0 105.0 325.9 110.6 320.2 106.2 254.3 75.1 295.6 98.9 264.3 85.8 297.6 89.2 292.9 88.8 276.7 96.8 328.7 118.5 316.8 112.4 241.7 94.5 319.0 137.4 299.4 95.7 300.4 116.9 329.1 117.6 273.0 85.5 264.8 91.3 308.9 98.5 287.3 83.5 325.4 104.1 273.4 99.8 317.1 112.9 272.6 87.3 301.2 100.1 304.4 105.2 295.1 89.7 339.9 138.6 309.4 109.7 306.2 114.3 291.5 91.3 309.7 109.8 321.8 113.9 319.7 100.2 295.3 99.1 263.9 86.5 252.8 91.5 312.7 113.2 312.0 120.3 276.6 100.7 281.0 84.6 280.2 64.7 311.8 98.3 292.4 99.0 266.9 108.6 287.6 112.4 280.9 77.1 301.3 102.4 301.5 83.3 298.5 105.5 316.4 121.8 307.4 119.0 304.9 90.2 264.7 85.2 322.4 136.8 319.5 121.0 301.0 109.3 266.0 88.4 296.0 90.0 287.4 104.8 295.1 105.9 315.5 113.3 295.0 97.4 273.0 94.6 279.5 101.9 327.5 124.9 326.0 129.6 263.5 111.5 263.5 85.5 309.0 119.0 315.9 113.6 270.2 93.9 288.8 108.3 296.4 98.4 333.8 79.5 297.0 106.3 289.2 75.5 306.6 102.7 261.0 79.0 327.6 120.6 291.1 98.9 306.1 96.9 277.1 83.8 285.8 87.4 311.4 116.6 288.0 95.7 291.8 107.3 295.2 98.4 298.6 117.3 320.4 123.3 293.5 104.7 315.6 109.5 274.7 103.5 257.5 81.7 252.9 84.3 283.5 94.7 282.9 80.6 283.9 95.5 282.9 98.3 259.6 97.6 266.3 103.4 307.0 86.2 285.1 116.4 267.2 114.8 289.8 95.0 269.2 113.8 265.4 77.6 296.9 102.5 326.3 128.5 276.1 72.6 322.0 103.4 296.2 94.9 305.7 114.4 301.7 115.8 317.9 91.9 262.8 85.6 284.6 105.4 267.5 87.2 261.0 73.9 287.2 93.4 287.0 88.8 266.1 101.0 276.5 104.3 260.8 96.4 264.4 79.3 275.7 94.7 303.2 111.8 321.7 106.9 298.5 79.9 312.9 107.8 279.9 74.1 280.8 97.3 299.4 107.3 266.5 71.8 270.2 107.2 274.3 87.0 289.2 92.8 291.9 96.9 257.1 68.9 300.2 110.1 328.0 133.3 302.4 88.4 302.3 93.8 265.5 78.8 263.4 85.0 259.0 99.7 323.2 118.3 295.5 99.8 260.5 68.7 341.1 128.5 300.2 141.1 284.9 105.2 309.5 95.6 298.5 94.5 287.9 86.2 283.3 110.3 296.6 106.2 300.5 84.2 281.5 101.7 297.9 94.1 316.5 114.9 320.9 139.4 296.5 90.5 297.3 108.5 287.2 108.1 270.9 102.2 274.6 99.2 298.7 80.5 289.4 117.6 302.5 94.7 311.4 108.3 281.8 102.8 325.0 129.4 282.2 101.9 304.5 108.1 280.6 95.1 325.1 125.6 289.1 93.7 332.0 133.4 287.6 116.4 288.3 123.1"/><path class="s" marker-start="url(#m23)" marker-mid="url(#m23)" marker-end="url(#m23)" d="M241.9 74.2 276.4 88.5 307.5 109.6 279.1 89.3 317.5 108.0 291.1 107.8 282.5 75.0 292.0 46.1 289.1 93.7 298.3 115.6 263.1 99.4 276.7 97.2 257.0 77.0 277.9 64.0 271.2 82.0 250.2 72.6 288.4 84.7 308.5 105.5 302.0 97.2 262.2 81.2 279.6 85.2 288.3 88.1 292.1 77.1 254.0 85.6 301.4 86.6 278.6 64.9 239.7 55.3 303.2 104.1 310.5 93.0 240.8 72.1 284.0 68.0 288.5 72.4 298.8 95.7 300.9 101.3 282.4 96.5 309.6 93.0 297.8 85.9 271.2 73.0 334.0 126.5 267.7 91.2 309.8 106.3 263.3 77.1 304.7 109.3 276.1 70.9 301.4 95.5 260.8 86.7 306.2 91.9 310.0 85.1 265.6 76.2 323.8 116.7 286.3 103.7 271.3 74.0 260.7 69.5 287.4 104.7 317.2 96.3 255.0 63.1 308.2 87.8 306.8 95.6 303.8 82.0 289.8 91.5 301.0 89.8 269.1 70.1 274.1 61.3 300.2 98.9 274.9 79.0 287.8 93.5 290.4 91.3 278.8 86.5 282.5 93.7 273.2 84.9 278.5 88.2 283.7 89.1 258.5 61.9 288.9 76.5 286.9 82.2 269.8 76.5 294.1 83.1 288.8 73.8 265.9 100.3 286.6 85.5 272.6 73.9 320.9 111.9 304.2 116.8 239.7 72.0 287.3 77.8 289.5 81.5 262.7 66.8 300.4 94.9 321.1 109.0 302.2 110.6 293.9 78.8 269.9 81.5 312.5 120.3 291.2 98.4 292.1 90.5 305.9 94.1 263.1 79.6 272.0 89.8 274.9 84.7 300.1 94.3 250.7 61.7 262.9 83.3 283.3 83.6 274.7 68.9 320.2 109.1 305.7 86.9 256.2 69.5 292.3 86.3 283.2 78.2 291.0 98.5 261.3 86.3 282.3 73.9 304.3 100.0 306.9 94.4 268.9 73.7 283.4 82.2 294.7 82.6 285.7 94.0 301.7 106.5 275.7 86.1 269.0 89.2 284.3 85.4 283.3 79.7 266.4 71.3 300.5 94.2 300.4 91.0 267.1 68.8 239.5 81.5 285.3 62.9 316.2 118.8 270.6 87.2 303.5 109.1 268.5 70.6 239.8 80.8 241.9 63.3 287.1 65.8 280.5 105.0 298.1 86.3 298.2 93.6 256.1 70.3 244.9 71.6 275.9 91.8 304.8 89.7 258.5 82.5 256.4 72.2 296.6 102.6 303.9 86.5 320.7 108.2 288.5 95.9 308.3 91.8 292.6 78.7 290.2 107.3 281.1 99.5 289.6 81.2 303.7 102.0 302.9 100.0 299.0 90.4 295.0 82.9 260.7 72.0 291.4 83.0 286.0 91.7 289.8 85.8 294.3 102.2 292.6 90.6 299.7 110.2 262.4 90.4 285.4 80.7 280.8 86.4 289.3 83.2 315.6 116.8 285.4 84.0 285.9 76.3 296.7 91.6 261.9 62.6 310.7 97.8 319.2 126.3 290.6 97.1 262.1 77.8 308.6 109.6 242.8 81.6 258.0 78.7 262.7 75.4 316.8 111.3 285.9 94.0 299.0 71.4 266.6 77.4 321.0 93.2 319.5 124.0 287.6 105.7 314.7 109.6 331.8 112.9 274.6 79.6 262.9 64.4 304.6 97.6 277.0 64.6 276.2 85.0 290.9 93.2 285.8 106.3 258.6 64.1 292.2 80.2 325.2 122.7 284.3 76.8 295.3 73.3 308.5 95.8 267.8 93.9 294.1 88.9 285.1 96.4 275.0 63.8 267.7 88.8 304.5 105.7 301.5 94.3 281.8 73.0 281.5 78.5 293.5 92.8"/><path class="s" marker-start="url(#m24)" marker-mid="url(#m24)" marker-end="url(#m24)" d="M321.1 90.9 300.0 91.8 277.5 74.2 280.5 80.6 303.0 90.8 256.1 71.4 263.1 76.8 265.0 75.2 279.9 67.8 293.1 82.1 269.5 58.2 266.1 65.1 282.1 77.3 328.1 109.8 286.1 63.6 298.3 75.0 265.6 74.0 275.5 54.2 283.7 71.8 317.9 84.1 249.3 68.0 285.5 71.0 263.7 59.2 305.6 97.1 276.3 76.2 254.7 63.5 276.1 82.0 237.9 56.4 306.7 80.9 242.8 39.6 314.7 96.3 286.6 70.2 299.3 93.7 287.0 86.0 276.9 90.5 272.2 83.3 290.7 79.5 274.4 76.9 283.7 67.9 299.5 89.5 240.8 58.8 266.9 65.0 305.2 100.7 296.8 75.8 249.6 44.6 328.7 108.2 272.4 63.4 279.2 71.8 264.8 56.2 283.8 93.4 247.0 52.6 286.2 66.4 304.3 93.9 299.1 88.5 305.2 96.6 284.5 67.7 323.9 109.2 270.3 74.3 285.1 61.7 291.2 84.4 287.2 68.1 289.0 79.4 279.3 58.4 267.2 79.5 295.2 87.0 246.3 60.0 296.4 92.9 285.3 72.1 310.1 95.8 268.5 55.0 196.6 75.2 321.7 117.9 251.1 70.7 290.3 75.5 295.6 77.5 274.0 68.5 251.9 70.2 272.6 59.7 289.5 82.1 278.3 62.7 294.3 92.6 289.1 70.4 283.1 66.8 281.9 70.4 326.0 112.5 290.9 81.6 302.2 73.7 289.7 87.8 302.6 78.0 292.2 82.7 304.1 95.2 236.6 57.7 270.3 81.5 263.4 64.5 256.3 64.5 271.7 83.6 275.4 72.9 310.1 82.7 286.2 71.6 300.5 83.4 306.3 91.7 288.5 96.5 301.7 85.3 265.0 66.1 260.4 62.5 314.6 100.2 288.6 67.7 256.8 52.8 277.5 69.1 282.8 61.8 255.5 64.7 286.8 77.8 274.2 76.9 268.6 62.1 307.8 102.3 288.3 92.8 266.7 71.5 255.7 52.3 274.6 54.3 277.2 87.2 295.1 75.1 301.5 95.9 291.6 61.2 275.5 65.1 306.9 96.9 286.9 94.3 268.9 51.7 287.2 68.5 238.7 67.6 292.0 75.3 305.7 81.7 308.0 92.8 303.6 92.1 270.1 56.2 302.9 86.1 248.5 56.2 248.3 51.9 324.8 101.6 284.3 73.2 306.6 101.8 269.4 64.4 304.4 108.4 235.4 53.3 299.3 93.1 269.4 78.1 271.6 62.7 299.6 88.9 287.6 71.8 268.4 71.7 289.2 61.4 302.9 100.2 311.0 87.0 267.5 54.7 250.4 57.7 284.4 79.3 300.7 78.3 324.8 103.6 318.1 99.4 277.3 82.8 279.5 62.4 302.0 83.9 310.1 95.0 279.0 36.8 303.3 97.8 281.8 80.8 280.8 75.0 304.2 78.2 257.0 64.6 291.3 84.7 265.4 60.5 279.4 62.3 285.8 68.0 298.1 103.0 305.8 93.0 265.0 78.9 296.1 71.8 318.2 98.1 262.0 76.0 252.8 46.9 297.7 89.1 302.4 81.4 250.0 31.3 302.0 96.7 277.3 61.8 268.2 64.3 278.2 68.7 269.4 68.0 280.4 86.6 247.8 45.2 292.0 95.1 248.9 56.6 295.8 77.9 327.3 108.7 288.1 79.0 293.9 85.3 242.2 49.5 316.6 83.9 275.8 58.9 261.1 51.2 326.9 101.5 291.4 78.5 304.5 112.5 269.5 77.0 321.5 95.7 272.2 55.4 288.7 80.7 306.9 94.2 244.8 47.9 291.2 65.3 261.1 58.2 254.4 68.8 265.8 70.3 272.9 90.5 260.7 57.5 289.0 68.7 304.6 91.5 247.1 53.6 270.8 63.7 305.1 95.8 294.8 88.7 304.0 96.3 281.8 76.0 272.9 63.2 248.2 61.4 241.8 47.0 267.6 69.4 247.0 68.3 268.7 79.9 316.8 83.8 251.9 42.8 284.9 72.8 287.4 73.2 281.7 90.1 263.3 71.9 299.3 95.1 277.8 70.7 233.1 60.2 304.1 91.1 284.5 74.6 279.8 67.1 278.6 70.0 298.3 99.9 294.7 82.0 302.4 78.8 251.7 56.7 278.8 73.4 307.6 78.9 293.3 86.9 288.1 77.4 271.6 66.6 259.9 76.7 268.0 72.7 262.4 67.4 277.1 80.7 257.1 42.7 279.9 75.2 293.1 82.7 254.3 61.3 277.4 83.7 299.6 74.5 286.8 76.6 255.3 54.9 270.3 65.0 270.2 67.2 297.1 82.7 261.0 57.8 264.7 54.3 263.4 55.4 295.4 94.4 256.5 52.7 291.6 67.4 264.8 58.7 313.4 105.5 299.8 73.8 281.5 101.5 312.3 95.7 289.5 81.9 250.8 50.5 294.8 89.6 287.3 86.2 260.2 50.5 300.5 89.7 307.6 86.1 290.9 81.7 232.3 37.7 291.7 67.7 288.3 66.6 284.3 68.8 286.2 82.1 305.9 80.2 266.5 57.8 297.9 87.9 278.6 78.2 315.9 93.9 268.0 70.6 330.1 110.8 291.6 84.1 300.3 96.0 232.4 52.3 246.9 65.0 269.6 59.3 326.4 105.1 299.0 92.4 294.6 76.5 296.3 92.1 295.4 95.4 271.7 65.4 302.6 90.7 291.9 74.6 322.9 116.0 311.1 104.4 278.1 73.7 306.4 97.1 246.6 46.8 278.3 64.3 286.3 85.6 318.3 95.0 296.4 95.3 268.0 55.6 312.0 96.3 236.2 46.7 300.2 95.3 304.6 83.1 271.7 74.1 250.4 69.0 294.9 88.2 273.7 80.9 332.6 109.5 258.1 83.4 255.5 55.0 296.7 77.8 315.3 111.3 295.7 85.6 279.6 69.9 275.3 67.5 283.5 86.8 226.6 47.3 230.3 39.6 284.8 64.7 248.6 54.1 301.8 83.2 273.8 73.1 252.7 47.1 299.2 85.7 270.8 74.1 258.0 72.2 271.1 60.1 266.6 60.3 259.5 64.3 296.5 73.4 332.7 115.6 299.3 72.6 261.5 61.0 276.9 63.2 257.0 56.5 274.0 58.6 290.4 69.0 275.2 80.2 310.5 92.2 275.5 50.8 300.0 89.6 277.8 72.2 311.6 97.4 262.1 73.0 303.9 77.0 266.8 54.7 301.7 85.3 261.5 57.4 302.6 75.9 266.0 58.3 251.9 54.4 255.1 66.4 293.7 93.6 284.2 69.1 283.6 65.9 287.6 58.4 301.5 86.9 253.6 52.2 332.6 117.9 271.5 73.3 283.7 95.9 273.8 63.1 247.7 42.0 283.2 66.4 319.7 103.2 320.2 102.3 312.2 94.6 282.6 68.6 296.6 65.2 311.1 90.9 271.9 65.1 284.6 83.4 302.1 96.0 285.5 80.1 290.6 104.1 276.2 59.3 252.2 56.8 274.2 68.7 290.0 77.8 294.3 84.6 271.7 59.3 281.6 73.5 305.1 101.4 273.8 66.7 257.8 63.5 320.6 107.3 261.0 65.9 277.0 66.9 310.6 89.6 266.9 62.6 279.9 63.4 289.3 70.2 276.8 68.1 245.1 64.7 305.8 97.6 293.8 68.4 277.4 78.6 306.7 91.3 291.6 82.8 275.1 59.6 278.2 71.9 304.9 88.8 261.0 66.7 266.2 73.4 267.9 63.2 281.8 72.6 251.4 56.1 291.0 78.2 311.2 103.2 310.7 101.0 281.0 63.6 313.3 85.1 293.9 84.2 258.8 57.2 294.1 78.9 248.5 52.6 246.1 55.0 288.2 78.5 298.0 83.5 289.9 87.4 244.8 90.5 283.1 70.5 314.8 101.2 301.6 98.2 284.2 71.0 284.6 65.1 301.4 101.1 300.6 105.0 285.9 83.8 298.6 86.3 273.1 66.1 233.2 59.2 258.8 61.6 243.1 56.5 297.9 70.5 230.1 56.7 289.7 87.6 297.9 81.1 323.8 112.3 301.6 91.7 293.3 74.7 249.0 62.2 277.4 60.8 285.4 65.7 299.0 93.5 287.0 68.8 260.6 45.1 280.1 66.9 275.1 60.1 288.8 76.1 319.2 112.7 302.4 102.7 281.4 81.6 308.2 94.0 284.8 81.4 299.3 76.6 265.7 53.6 317.0 89.1 255.5 69.8 232.6 48.9 327.8 106.8 307.1 103.5 319.9 99.4 270.9 91.3 277.2 67.5 282.2 65.0 288.9 69.7 251.7 53.5 290.6 71.5 277.2 62.6 304.9 84.4 274.8 65.6 317.9 114.4 256.0 63.9 262.7 81.3 287.7 67.8 286.4 72.5 268.5 74.4 293.9 84.2 278.1 89.8 265.0 64.1"/><path class="s" marker-start="url(#m1)" marker-mid="url(#m1)" marker-end="url(#m1)" d="M284.7 320.1 263.0 340.0 313.8 344.5 209.3 344.6 265.5 329.2 305.5 338.4 341.1 347.3 269.5 331.9 310.9 341.4 296.1 329.0 188.1 319.8 357.3 340.8 429.7 347.1 309.7 341.0 418.5 308.9 337.6 338.9 180.5 325.7 356.8 333.7 303.0 324.1 291.7 341.0 320.5 343.9 254.2 321.2 282.6 325.5 360.1 325.9 240.3 339.2 247.7 330.3 265.5 353.4 264.0 339.7 247.0 320.7 312.3 350.6 284.2 319.1 210.3 331.7 222.7 355.2 313.5 350.6 157.1 341.1 443.8 323.7 432.9 346.7 401.4 320.0 377.7 311.5 393.4 333.1 169.4 334.7 258.1 341.2 214.2 337.1 303.3 330.2 185.9 337.4 240.0 324.2 312.1 327.9 320.7 335.3 345.4 337.0 318.5 340.3 357.1 321.6 174.5 382.7 262.9 330.7 372.4 331.1 232.9 347.1 314.3 326.4 268.2 342.1 342.0 335.0 332.1 330.7 300.5 331.1 303.5 345.0 246.2 338.6 265.1 347.6 310.8 338.3 216.8 329.1 319.6 317.1 339.7 328.8 224.5 346.8 215.2 338.3 324.4 328.4 284.3 345.0 304.4 348.7 215.5 334.6 318.4 347.2 311.3 339.9 389.9 357.3 405.8 338.0 361.3 320.8 278.9 334.8 241.4 327.1 276.2 359.6 402.3 349.0 215.0 343.4 298.7 330.9 261.8 335.2 248.7 359.1 383.1 343.8 311.5 335.5 245.2 358.4 371.4 331.9 184.6 365.3 340.7 337.5 283.0 335.2 314.1 332.0 281.6 341.0 305.8 346.2 268.2 336.7 316.8 342.7 243.7 338.8 297.5 343.9 251.8 329.1 228.9 360.3 377.8 325.8 161.2 339.9 257.4 334.2 357.4 315.5 310.2 334.0 376.8 326.8 254.7 343.1 317.7 332.8 285.3 351.8 308.4 317.5 342.0 310.9 362.8 313.7 314.6 286.7 311.8 337.1 179.5 364.2 323.9 349.0 328.1 314.2 271.0 333.9 295.2 341.8 365.4 346.3 302.7 342.0 414.5 342.7 230.0 345.0 322.6 340.9 346.2 337.0 233.8 333.1 190.8 330.4 217.3 341.2 427.4 331.8 281.1 338.3 286.7 340.5 347.0 337.2 365.0 347.8 360.8 335.4 443.3 323.9 319.1 333.7 315.4 295.5 366.9 353.6 299.0 338.2 136.4 322.1 389.8 331.5 263.8 347.6 338.2 332.8 308.8 333.8 298.6 339.7 259.5 348.7 260.6 330.1 241.5 349.0 390.9 324.4 256.7 338.2 322.3 330.5 366.6 328.4 256.4 348.0 252.9 319.2 246.7 343.8 276.6 345.5 334.0 345.8 212.2 316.0 362.2 339.2 269.4 326.4 313.2 328.2 319.3 314.8 303.0 337.2 338.0 342.1 363.3 347.3 343.3 359.4 391.5 322.0 262.0 349.1 347.7 324.8 285.1 329.9 327.7 307.6 325.3 328.9 200.7 311.5 381.4 329.6 368.8 338.5 362.3 340.1 432.7 346.0 326.5 348.9 346.2 324.5 286.6 339.9 376.8 324.9 222.4 334.3 253.1 384.8 251.6 338.3 351.1 335.4 291.8 340.5 298.6 338.6 319.4 327.3 267.9 336.3 362.2 357.9 293.9 322.2 248.4 339.0 293.1 330.9 174.2 340.7 216.0 363.5 312.2 348.6 298.8 342.4 407.3 336.1 287.3 322.6 365.7 329.7 295.6 321.7 359.7 346.8 347.1 312.4 338.8 327.1 311.5 331.3 262.3 339.5 235.9 378.9 249.1 326.7 197.9 341.9 202.4 346.6 280.8 333.5 271.8 331.8 279.8 339.5 312.1 347.7 242.4 330.9 336.2 327.2 302.4 323.5 269.7 332.6 301.1 344.4 345.4 333.2 336.6 325.9 331.0 333.0 349.9 321.2 448.5 326.8 394.5 330.1 391.6 329.7 156.8 337.2 262.5 337.1 327.0 340.4 337.4 310.3 353.2 335.7 315.8 339.3 313.8 341.1 301.5 309.2 344.3 339.8 391.2 322.9 258.2 328.0 278.1 332.5 444.3 337.3 345.7 346.7 300.3 349.0 248.4 322.1 311.5 346.8 282.9 330.8 198.0 336.7 348.4 334.9 362.1 320.2 236.6 337.9 301.9 356.2 256.5 316.6 309.4 349.2 314.3 336.7 212.0 338.6 244.0 357.2 337.0 319.8 245.7 343.7 253.5 347.7 321.8 339.1 341.6 324.3 307.8 340.2 354.0 325.3 367.4 326.6 312.4 291.2 312.6 297.3 304.3 334.6 323.9 333.4 306.9 338.7 323.4 320.7 264.1 346.8 401.9 367.4 325.1 348.7 308.3 343.2 267.9 357.4 278.2 334.6 337.5 351.7 326.1 322.7 322.8 337.8 259.3 320.7 287.9 330.5 326.1 349.4 291.4 358.3 282.8 368.5 232.2 341.1 304.1 330.7 287.4 341.5 153.6 351.6 255.9 323.2 352.2 334.1 231.6 326.7 378.5 331.1 321.7 324.9 253.6 330.4 287.3 348.6 321.4 337.4 343.2 337.4 266.3 336.2 328.7 344.8 345.6 337.2 287.7 317.7 381.7 330.0 281.1 336.0 331.1 343.6 382.9 316.2 197.4 329.0 266.4 334.6 333.7 334.8 321.2 291.8 248.1 343.9 280.1 328.5 279.0 336.1 175.6 358.3 213.6 331.5 303.0 335.0 327.6 336.2 307.1 348.9 398.4 321.4 385.8 344.8 352.2 322.7 304.7 346.2"/><path class="s" marker-start="url(#m2)" marker-mid="url(#m2)" marker-end="url(#m2)" d="M283.5 331.8 294.9 331.1 332.2 323.3 297.4 324.0 283.8 326.2 253.3 330.5 282.2 348.4 288.3 330.7 310.2 323.9 359.0 324.9 319.7 316.5 331.6 326.9 345.4 328.7 244.2 314.9 287.8 315.7 279.6 305.8 319.3 304.2 285.2 330.6 307.5 304.9 350.1 311.4 305.9 324.4 316.1 332.4 290.8 344.5 356.2 310.4 265.5 328.8 318.8 340.8 284.0 337.8 315.8 306.7 326.7 338.3 259.0 329.6 334.0 336.0 325.8 329.4 291.3 316.3 285.9 305.9 361.5 317.6 302.9 330.9 363.8 334.0 346.0 321.4 290.7 334.9 252.6 323.8 239.4 355.3 350.1 329.5 197.2 345.9 313.3 348.3 268.8 333.9 290.3 322.6 324.5 349.1 303.2 333.9 300.9 327.2 249.9 315.5 273.1 330.8 295.7 317.4 327.0 334.2 312.2 324.5 395.0 334.7 300.7 332.9 310.2 326.8 214.5 315.8 323.7 306.7 290.2 331.4 318.3 337.9 318.6 329.1 285.0 326.9 315.3 335.7 376.5 341.0 299.9 318.1 359.7 309.3 237.2 330.2 221.2 341.3 310.3 322.3 322.4 328.9 363.3 338.2 364.0 319.8 326.5 324.9 300.4 301.0 250.1 339.7 359.7 326.1 221.7 348.3 322.5 325.3 266.7 321.4 346.7 336.5 327.4 302.8 343.9 328.6 315.5 322.5 279.1 330.1 175.0 326.3 302.7 314.0 186.1 327.8 220.9 345.2 347.4 322.3 336.5 318.6 346.8 318.9 322.9 327.4 375.5 309.2 319.7 335.5 255.7 333.0 220.8 334.2 320.3 321.6 316.5 311.7 269.9 322.2 298.1 317.3 369.4 318.3 317.9 333.6 287.2 326.5 265.0 317.8 418.3 319.4 399.9 298.5 294.3 339.8 293.4 329.9 266.0 330.9 308.9 333.1 289.7 324.9 295.6 326.6 229.5 330.5 255.1 319.6 238.1 330.6 305.8 323.7 257.3 323.1 309.5 331.8 256.9 328.9 346.2 333.8 322.3 330.2 291.9 319.1 259.8 310.3 267.6 308.6 316.4 314.5 276.0 338.6 318.6 293.4 386.6 335.4 247.0 334.8 337.8 334.0 307.8 304.6 353.3 331.4 297.3 320.9 358.5 325.4 350.1 327.4 268.8 329.4 369.6 324.2 372.8 315.0 314.2 326.1 339.9 316.4 342.6 315.7 284.0 336.5 320.7 323.9 335.4 322.1 308.6 327.9 245.0 318.3 268.7 335.9 340.4 330.4 352.7 339.6 399.4 343.2 308.7 300.0 339.5 322.0 342.0 330.3 288.2 326.2 349.0 332.2 282.4 322.4 260.7 317.9 336.8 304.2 285.6 333.5 265.0 331.0 347.7 327.6 323.9 336.1 263.5 322.0 255.1 332.5 315.3 325.6 301.5 308.4 230.5 316.2 301.3 318.9 289.6 342.2 360.7 332.3 223.3 320.6 287.6 333.2 337.4 318.7 344.4 307.0 192.4 326.1 296.1 322.1 343.9 339.6 332.5 332.8 308.2 323.4 240.0 333.7 342.7 321.7 299.1 317.5 273.0 321.9 254.9 335.7 325.1 325.1 243.4 326.7 338.5 343.3 283.4 315.3 270.8 326.5 269.5 333.7 315.0 318.8 325.7 317.9 297.9 330.0 220.8 316.0 283.2 332.5 269.6 327.8 293.0 327.7 345.7 319.6 359.7 311.9 248.0 313.5 310.8 309.9 307.3 344.6 260.9 327.4 328.8 332.6 228.9 332.9 291.1 314.1 286.6 323.8 204.7 318.5 264.6 320.2 342.4 337.9 282.8 313.5 358.2 305.7 294.9 322.9 276.2 331.6 297.8 324.0 360.1 318.0 398.1 319.0 348.8 328.7 325.5 324.2 359.8 327.8 324.8 337.7 349.6 330.8 299.2 326.6 263.6 323.6 288.9 326.5 293.1 330.5 321.6 329.6 254.8 320.9 291.0 339.4 246.3 336.3 283.7 330.3 219.2 329.6 297.4 334.8 356.6 315.7 302.0 319.0 253.2 337.1 317.3 314.9 266.4 329.7 334.9 312.2 274.0 303.2 324.7 333.9 337.8 346.6 348.8 324.5 335.3 329.4 308.0 336.1 229.2 328.2 382.0 340.3 248.7 336.4 316.4 341.9 319.0 350.0 209.1 340.0 391.9 332.9 300.6 324.2 320.7 313.9 305.7 313.3 313.5 340.5 304.0 341.5 281.6 316.1 306.9 316.6 348.7 320.2 310.9 292.6 268.8 327.2 325.4 319.1 243.9 317.4 333.6 314.8 345.7 312.7 294.8 346.3 248.4 325.1 270.9 323.7 379.1 311.8 306.3 330.1 287.0 333.9 367.7 338.6 429.0 302.8 271.4 338.1 324.2 324.3 314.5 321.8 303.8 340.3 280.3 309.1 330.2 326.2 301.3 311.6 286.4 323.8 333.1 350.4 317.4 327.4 321.6 331.6 278.0 331.1 198.9 337.9 281.9 336.3"/><path class="s" marker-start="url(#m3)" marker-mid="url(#m3)" marker-end="url(#m3)" d="M330.2 328.6 274.4 304.6 317.8 300.7 274.6 296.7 300.6 314.2 306.2 300.8 300.2 331.3 302.1 315.6 282.4 310.3 308.6 306.6 279.6 302.3 332.1 309.2 302.3 322.1 352.5 307.4 321.1 308.3 259.4 318.4 361.7 326.8 316.1 308.6 320.1 321.9 278.5 317.1 332.9 325.7 196.2 307.5 319.2 323.0 328.9 316.7 354.8 303.2 282.3 314.9 334.0 291.1 261.6 324.9 298.9 324.2 315.7 308.1 339.8 317.5 289.0 297.5 339.5 314.7 308.1 311.0 312.1 314.8 305.1 304.1 258.5 331.6 263.1 319.6 273.0 299.8 271.5 297.7 348.4 303.0 363.6 325.4 290.0 327.1 263.5 320.6 289.7 332.2 311.5 316.1 351.1 296.8 305.5 310.5 274.6 315.2 252.2 313.6 256.6 319.1 293.9 311.5 314.3 314.2 311.9 309.1 307.6 290.5 294.9 326.0 290.2 311.5 353.7 303.4 269.6 316.1 266.4 316.7 319.4 318.8 306.6 321.3 270.1 315.3 286.7 297.0 308.2 299.4 229.6 306.7 237.4 312.2 303.1 314.3 232.7 310.6 292.4 316.8 317.2 327.9 300.5 309.9 256.3 313.1 272.5 314.7 272.7 327.2 326.1 329.4 275.6 314.7 326.6 316.6 276.2 342.0 296.2 314.8 328.3 322.9 281.5 307.7 323.5 320.1 217.2 321.1 228.9 312.7 276.8 301.3 283.5 317.9 275.4 310.2 281.3 337.7 319.5 300.8 253.3 306.0 323.2 310.4 300.3 315.9 323.1 308.6 242.1 313.0 284.7 311.4 321.8 319.6 290.0 326.4 323.7 320.3 255.6 317.3 271.7 316.3 275.0 303.3 308.8 289.6 319.4 313.2 275.6 334.9 305.2 317.0 304.8 298.6 305.0 307.5 249.1 322.0 231.7 312.6 269.6 315.5 287.1 313.7 319.8 291.0 355.9 315.8 289.3 314.4 271.6 313.0 218.7 327.7 302.5 317.1 280.7 331.6 295.5 287.1 329.2 299.6 297.3 304.4 268.6 329.3 334.0 298.8 302.8 314.9 353.5 309.1 305.7 313.0 284.8 321.2 315.8 317.0 166.2 303.4 326.4 331.1 320.4 317.9 336.1 305.9 316.4 313.8 337.3 305.1 326.5 313.3 361.3 329.0 172.4 304.3 319.4 299.4 277.1 311.1 254.1 305.4 308.1 304.7 269.2 323.1 312.4 311.3 272.9 306.3 245.5 311.7 281.6 316.5 317.9 311.5 278.0 318.9 351.1 317.6 352.5 339.7 340.7 327.4 256.9 317.2 341.1 310.4 233.7 325.0 333.3 349.9 328.7 315.1 312.4 314.5 299.0 293.6 329.7 302.3 298.1 304.0 298.3 318.8 326.7 331.0 351.5 309.9 334.6 328.7 313.8 302.2 319.1 316.3 298.9 318.8 343.8 310.0 278.5 318.1 311.2 319.2 347.5 316.4 359.1 322.4 305.7 305.8 264.7 302.9 229.5 319.8 320.3 315.2 327.8 307.6 371.0 311.0 367.1 308.4 254.1 318.3 351.3 320.2 228.4 318.9 336.0 328.3 295.7 313.0 321.7 302.9 310.9 315.8 333.7 341.6 305.0 318.5 292.6 307.8 320.6 325.2 321.7 298.6 301.4 324.6 303.4 300.6 315.3 316.7 340.0 301.0 311.8 308.6 250.5 323.2 306.6 295.9 269.4 339.6 299.4 297.3 307.8 319.4 304.0 328.8 273.5 324.6 199.9 305.4 339.5 329.2 303.4 299.1 280.9 300.2 256.3 289.8 228.1 326.7 273.5 303.5 315.4 324.6 350.0 321.7 250.3 314.5 363.1 300.5 273.4 339.8 240.7 300.6 310.3 318.9 309.7 317.5 305.3 311.5 220.1 299.5 324.8 312.0 263.7 313.9 310.2 316.3 308.3 300.1 332.8 310.8 367.0 303.4 276.1 331.1 275.3 300.9 331.4 300.1 337.4 325.7 322.4 312.5 352.8 335.1 278.3 328.0 315.8 315.2 357.7 315.5 308.4 307.6 266.7 320.7 319.8 324.2 337.6 301.2 237.6 284.4 353.9 305.3 342.6 327.2 346.8 317.4 271.6 326.7 346.6 304.7 277.2 326.9 300.3 321.4 300.2 291.7 307.7 317.6 272.1 332.7 344.7 310.0 301.1 333.0 328.2 319.2 329.9 319.5 360.9 309.9 320.3 314.3 271.9 284.5 279.6 321.2 265.6 311.2 331.3 330.8 269.8 301.6 301.7 327.6 352.8 308.0 307.1 321.0 313.2 305.3 315.5 317.6 327.5 309.5 343.7 312.3 324.2 310.7 287.1 324.6 258.0 323.6 307.4 325.8 244.2 306.9 324.8 339.6 322.2 302.6 316.2 290.7 268.9 323.8 282.7 301.2 315.0 338.4 322.0 316.2 298.0 319.1"/><path class="s" marker-start="url(#m4)" marker-mid="url(#m4)" marker-end="url(#m4)" d="M319.2 306.5 315.8 309.8 323.2 314.0 332.8 318.3 282.2 303.0 301.0 306.9 309.0 291.8 282.4 311.9 384.1 301.9 328.0 317.1 326.0 316.6 297.9 302.6 328.4 306.0 301.9 305.7 287.1 291.0 312.2 277.0 331.2 311.5 305.8 293.6 351.1 322.7 229.2 307.3 352.5 345.4 305.5 275.4 284.2 283.5 322.7 281.7 284.2 290.7 342.9 301.4 319.5 276.5 329.0 287.6 274.4 291.0 340.5 288.2 323.0 296.8 269.9 304.2 306.9 294.6 327.6 297.9 309.5 306.4 304.3 282.2 362.9 296.5 292.7 296.8 281.7 289.9 308.6 301.9 263.3 283.6 340.6 291.3 281.9 297.1 286.3 306.2 317.7 290.7 337.8 324.1 263.0 300.3 263.8 298.7 196.1 304.5 284.6 315.6 308.2 299.1 317.4 294.7 318.7 294.8 316.8 299.5 336.2 306.8 320.4 280.7 285.8 286.7 269.5 295.5 257.7 286.4 331.5 299.6 310.1 282.8 319.0 292.8 304.2 296.2 316.8 305.0 314.7 298.2 317.7 296.9 239.1 297.1 306.2 297.7 348.3 299.0 370.7 303.9 264.1 298.9 291.4 308.8 271.8 303.3 253.8 311.3 297.6 302.9 316.9 304.8 284.9 305.3 345.7 312.2 301.1 281.7 282.3 287.7 300.9 295.3 309.1 302.2 231.2 312.8 302.2 275.6 307.2 287.2 314.7 299.7 307.9 313.8 326.8 310.7 297.4 312.9 301.2 279.6 280.4 299.4 345.6 298.0 274.1 290.7 295.8 301.5 307.0 301.5 333.1 304.7 280.4 290.9 263.1 288.5 275.5 292.0 340.4 322.7 295.7 310.0 304.9 312.3 277.9 286.6 280.5 291.0 302.6 299.5 295.7 305.6 325.3 283.7 247.8 291.7 276.0 312.0 310.9 289.5 248.1 285.7 319.9 320.3 273.3 308.3 276.1 289.6 290.9 299.2 314.0 295.5 284.6 299.0 328.1 302.7 229.9 302.1 282.7 309.4 333.0 320.7 212.2 297.3 342.0 299.1 329.8 301.6 241.5 298.3 269.1 303.9 284.5 321.1 279.7 274.0 275.3 304.1 354.3 296.9 233.8 307.2 314.4 307.3 260.6 276.6 303.2 308.2 331.1 318.9 285.7 302.6 322.0 304.9 322.1 300.9 307.2 300.5 298.0 279.6 237.7 282.8 233.2 276.4 285.8 321.7 334.3 304.3 300.9 308.5 274.4 308.3 320.0 316.5 230.6 300.8 302.9 292.7 307.6 314.8 347.8 293.1 308.8 305.8 262.0 307.3 327.7 291.4 279.8 292.1 321.6 287.5 281.7 287.6 303.9 276.2 289.8 289.7 319.4 299.2 272.5 288.1 320.5 285.7 330.1 303.1 224.1 282.6 309.0 318.5 264.2 297.4 315.2 308.6 244.1 294.5 308.7 291.5 271.7 290.4 291.8 287.9 331.1 307.6 319.1 295.8 328.0 310.7 272.5 315.5 288.5 313.5 340.1 295.8 285.1 315.4 279.1 304.2 311.4 317.1 305.8 290.2 295.5 291.6 304.8 294.2 280.2 294.0 309.5 296.9 312.5 291.6 295.4 296.5 332.0 302.9 278.7 308.8 241.1 291.0 307.0 283.6 222.4 315.4 258.0 292.9 302.8 291.0 310.6 289.2 308.4 301.8 290.3 281.4 327.5 301.5 324.0 322.9 211.3 304.8 323.4 276.4 248.8 307.8 283.0 301.9 301.5 282.1 320.8 300.1 305.3 290.5 335.8 327.9 311.4 308.1 347.5 292.7 309.7 292.5 293.3 307.0 313.8 301.1 335.1 322.6 324.0 305.5 314.5 290.2 313.4 310.3 300.1 262.8 258.2 303.2 282.2 323.5 332.2 293.5 313.6 286.9 301.1 292.6 289.7 294.6 283.3 299.5 308.8 310.3 189.5 302.6 290.2 290.1 278.1 308.0 250.8 288.9 301.7 291.7 229.2 315.0 305.2 310.4 293.0 293.2 268.4 293.6 327.7 303.1 297.3 308.6 327.4 299.2 280.6 281.8 300.2 285.8 227.9 296.8 313.4 304.6 304.8 284.4 294.5 311.5 322.9 316.1 349.9 306.5 251.1 298.4 346.3 299.3 292.2 290.4 309.7 303.6 242.3 288.0 300.8 301.1 316.1 278.0 315.6 316.4 308.4 305.8 276.5 297.9 307.4 276.0 298.8 291.6 300.8 297.6 337.2 312.8 327.3 306.3 319.4 291.7 305.6 322.5 325.8 305.2 352.6 288.7 295.4 306.2 274.5 288.3 272.5 307.7 297.3 319.5 346.2 307.9 316.5 298.5 293.4 305.0 233.3 312.0 263.4 290.7 261.7 300.5 272.2 281.0 257.0 302.5 283.5 278.0 261.3 306.4 233.4 305.8 305.4 294.7 259.1 300.4 354.7 327.1 305.6 290.4 319.8 309.8 284.2 295.7 315.9 312.7 317.6 311.4 294.8 287.0 318.0 291.7 291.6 296.8 257.1 285.4 332.0 299.8 237.4 311.1 303.1 291.7 274.3 299.8 314.8 295.8 284.5 310.6 291.7 297.2 312.1 294.4 247.6 295.8 311.4 293.3 259.6 293.4 313.1 283.5 324.2 289.9 255.9 297.6 306.4 327.8"/><path class="s" marker-start="url(#m5)" marker-mid="url(#m5)" marker-end="url(#m5)" d="M282.9 290.2 218.6 295.8 244.0 292.6 272.7 291.6 279.6 263.1 266.4 299.6 294.4 297.7 310.6 291.5 303.5 289.7 314.2 302.6 292.3 279.3 330.1 270.6 288.7 292.1 316.3 285.6 324.7 305.1 347.3 301.4 297.2 288.3 294.7 278.8 247.6 293.1 285.1 289.4 309.2 296.5 297.8 281.0 320.1 296.6 333.5 303.9 343.9 298.1 271.1 293.9 349.2 298.4 297.7 269.9 300.8 298.8 290.5 295.5 263.1 291.6 322.5 282.7 324.7 284.4 325.6 283.8 308.2 282.1 292.9 296.9 280.3 282.2 336.2 292.9 320.1 284.6 307.7 289.0 340.5 289.4 343.0 282.9 308.1 279.8 264.5 294.8 317.3 295.3 261.2 298.3 353.1 283.7 327.2 311.1 315.2 275.1 275.4 284.9 266.5 273.6 316.4 303.7 277.6 302.5 366.9 285.9 261.7 285.8 303.7 283.3 314.1 296.6 281.6 285.8 294.5 286.6 337.3 289.9 301.4 297.7 338.1 301.8 256.8 310.6 178.4 268.6 304.1 276.8 303.5 268.7 367.5 300.5 335.7 286.9 315.1 291.3 347.7 290.3 290.0 292.4 308.2 298.3 326.2 286.9 307.6 290.7 342.7 313.8 307.8 285.1 327.7 271.5 315.1 273.4 305.7 275.7 347.9 283.2 331.9 273.3 333.1 299.5 274.9 304.3 313.4 300.9 294.6 292.7 295.3 282.2 311.8 289.0 343.7 286.0 309.8 285.4 351.0 295.2 303.1 283.9 281.9 287.2 334.4 286.3 310.9 271.5 275.6 278.6 336.9 297.6 292.1 281.7 275.7 276.8 319.6 298.0 237.0 306.3 335.8 292.5 312.9 288.7 266.9 305.5 330.8 275.4 241.6 279.2 296.3 295.9 267.2 281.4 276.1 292.6 304.4 254.1 324.7 298.7 337.7 308.4 314.3 283.6 329.7 292.9 263.8 289.1 285.3 300.0 237.8 298.4 313.9 279.3 336.3 295.0 223.4 282.2 297.2 286.8 292.0 278.8 321.4 306.9 270.4 276.0 331.6 290.2 295.6 302.7 301.5 289.3 317.8 310.5 279.8 284.0 287.5 289.7 253.1 263.3 303.3 278.5 347.6 284.4 285.4 285.8 326.7 287.6 270.2 279.2 327.2 307.7 322.8 290.7 314.9 292.4 346.1 299.1 269.8 295.4 321.8 292.1 324.3 297.0 311.7 266.4 303.9 282.7 293.2 285.7 303.3 299.9 290.7 274.6 293.4 278.1 286.2 292.4 315.3 296.1 297.9 298.5 304.6 292.9 305.5 304.7 252.3 295.6 330.7 294.2 271.6 282.8 268.9 292.7 284.9 299.0 300.3 280.8 347.7 289.1 252.2 273.7 314.2 306.1 319.8 285.7 299.3 285.2 286.3 284.0 273.5 275.2 286.8 288.1 331.3 281.7 329.7 285.9 310.6 291.3 262.3 278.8 307.9 281.1 327.2 298.8 307.4 290.8 341.4 294.5 286.2 270.5 322.0 265.5 321.4 296.8 309.7 272.3 283.9 268.0 309.9 283.7 309.3 281.3 282.2 277.9 353.2 286.9 314.8 282.1 270.1 270.9 299.8 272.2 268.1 273.7 297.0 266.6 324.8 287.7 331.7 295.6 277.8 292.5 269.6 300.4 285.0 289.0 306.6 318.3 309.8 295.3 307.0 281.8 307.2 278.2 322.5 304.4 308.5 289.0 226.2 292.0 280.8 291.4 304.0 302.5 299.2 295.1 313.2 286.5 285.9 293.9 288.0 292.3 313.7 279.3 296.4 270.3 295.1 287.1 280.9 286.6 310.6 280.7 280.3 282.0 316.8 296.8 298.5 275.7 323.2 307.2 297.8 285.3 263.8 316.3 316.5 265.0 367.1 275.5 254.4 294.6 317.1 285.3 289.5 276.7 280.5 284.7 315.2 283.0 288.1 298.9 223.8 278.6 313.7 274.4 292.1 284.6 306.1 286.9 306.8 280.9 273.2 290.5 325.4 289.1 320.4 286.0 325.4 288.6 275.1 278.8 327.1 287.1 331.7 292.1 306.4 286.0 295.7 266.8 263.2 271.5 311.1 272.5 321.0 297.7 262.4 289.7 286.9 278.6 350.5 297.4 279.7 277.5 333.3 293.1 365.2 291.5 276.1 296.5 300.9 268.9 310.3 279.7 297.9 322.4 286.6 286.3 296.4 297.4 283.4 294.0 260.1 275.8 344.7 303.3 270.3 298.1 328.6 301.2 240.2 294.4 335.4 302.9 270.0 283.2"/><path class="s" marker-start="url(#m6)" marker-mid="url(#m6)" marker-end="url(#m6)" d="M301.1 302.2 337.1 276.5 285.5 285.2 303.7 257.7 304.5 293.6 316.7 279.8 315.2 278.4 296.5 262.1 172.3 306.3 284.3 269.2 332.3 284.7 248.3 284.9 326.5 285.3 308.0 281.7 312.2 268.3 301.7 258.6 300.8 262.9 292.1 269.5 325.1 287.5 307.4 281.2 312.6 259.7 267.3 256.1 345.1 273.7 290.2 268.5 272.5 267.9 322.0 299.8 338.3 276.4 328.5 282.2 320.4 286.9 279.5 277.3 289.0 276.3 241.2 279.0 329.6 290.2 329.2 290.1 294.2 269.8 283.7 274.8 259.8 267.8 289.8 288.1 298.5 287.8 200.3 296.7 308.6 277.1 278.4 283.2 320.0 271.7 307.9 281.4 282.9 286.7 295.1 289.1 290.2 269.4 294.8 280.5 351.0 301.7 315.6 274.8 321.5 296.8 321.0 278.7 325.1 282.3 347.8 294.7 333.8 276.2 329.4 279.4 338.7 296.6 308.5 263.7 309.2 281.5 317.6 299.3 301.4 297.1 315.6 268.2 324.3 244.7 240.1 269.6 304.7 265.4 277.0 280.4 302.2 269.7 313.0 274.9 244.5 272.0 295.0 281.4 266.9 254.1 319.7 263.5 272.1 277.4 300.9 272.7 289.7 284.0 313.1 264.4 272.0 255.8 307.6 270.8 259.0 284.2 330.9 264.5 307.8 284.7 286.9 258.8 260.1 283.7 292.5 268.6 300.2 284.7 316.5 274.4 310.3 283.3 305.1 261.5 320.2 278.2 277.7 260.5 338.3 268.2 282.8 298.2 313.7 276.6 262.0 254.2 313.2 262.9 343.9 287.0 318.7 283.6 237.9 283.5 311.9 283.8 303.5 261.2 293.5 272.6 291.7 291.9 284.2 280.6 352.3 287.0 300.5 278.4 323.4 278.3 316.5 278.9 314.8 268.3 270.5 285.4 247.6 297.3 313.4 272.2 317.8 279.2 282.9 291.1 279.0 300.1 266.4 271.6 314.3 278.5 405.7 286.5 297.3 296.7 316.3 263.6 334.3 267.4 288.2 278.1 319.4 294.4 255.4 255.5 270.7 270.9 332.8 285.1 278.9 272.3 237.8 277.0 311.6 269.4 263.6 286.9 317.2 282.8 278.1 276.1 282.9 276.9 336.2 288.8 313.8 288.8 300.3 274.3 362.8 268.4 338.3 276.0 289.1 285.6 314.0 278.3 320.9 284.8 253.4 272.4 354.3 291.8 327.7 276.1 294.7 280.5 319.1 284.4 318.4 252.6 275.7 308.1 297.4 265.6 322.0 267.9 316.3 276.8 298.2 261.8 327.2 279.1 322.8 269.0 309.5 269.5 299.1 256.7 257.5 301.3 323.2 261.8 297.1 261.2 264.5 268.2 294.1 278.1 266.1 299.8 343.2 268.8 305.5 264.0 354.9 291.0 307.9 277.4 285.9 286.5 315.4 302.7 306.0 247.6 352.8 293.3 259.4 282.6 307.7 277.4 288.9 286.0 321.0 281.9 296.5 282.5 271.7 276.4 246.7 248.1 287.3 285.8 268.6 277.8 308.5 262.9 306.9 281.7 297.3 282.2 291.9 255.6 298.3 266.2 312.7 264.7 295.6 291.8 328.3 294.9 257.6 306.6 302.3 277.9 272.3 284.3"/><path class="s" marker-start="url(#m7)" marker-mid="url(#m7)" marker-end="url(#m7)" d="M223.6 258.4 326.0 269.9 341.0 272.7 331.9 276.4 315.8 267.9 316.4 281.8 307.7 269.0 265.9 264.6 334.4 267.0 279.4 276.9 297.2 248.0 288.9 245.5 274.0 241.3 304.8 258.7 244.7 255.3 314.4 254.5 325.9 281.0 312.4 268.6 304.2 273.2 227.7 280.6 303.7 259.2 350.9 250.3 332.6 280.0 328.0 281.6 315.3 263.7 309.2 259.5 321.7 271.9 327.8 261.3 260.5 252.3 275.8 282.6 309.3 257.3 306.1 276.1 323.7 276.6 280.3 270.2 280.3 275.1 307.3 264.9 257.9 247.0 272.1 259.7 347.0 270.8 347.6 282.4 306.1 257.1 320.1 264.7 305.3 253.7 213.2 276.3 255.1 261.1 243.3 271.5 306.1 258.1 282.2 273.3 260.5 270.2 303.0 253.1 279.8 262.4 304.5 256.4 297.9 278.8 324.5 265.6 358.2 249.1 309.1 292.1 321.1 285.3 234.5 238.7 292.8 275.8 336.9 251.7 293.7 271.2 302.2 259.2 282.0 288.1 314.8 275.4 320.7 284.5 283.8 272.3 211.8 284.6 366.4 273.4 293.8 283.4 276.3 266.0 295.4 267.0 263.4 263.0 312.0 257.5 328.1 258.9 271.1 268.6 329.7 256.9 314.6 279.9 269.9 271.5 317.2 262.0 366.7 276.0 274.7 265.0 331.1 284.8 318.2 281.0 275.8 288.8 323.2 281.0 311.7 257.7 281.3 249.4 322.8 259.5 242.8 263.4 271.0 263.5 331.5 272.2 305.8 261.5 338.7 254.5 321.6 287.9 332.8 263.0 332.2 255.3 313.7 259.4 314.7 274.6 297.1 278.4 228.7 263.2 329.3 266.8 277.3 273.6 341.7 280.6 332.4 282.3 297.4 260.8 307.0 257.2 274.5 285.2 314.3 277.4 304.2 271.8 354.6 296.3 287.7 290.0 276.6 267.4 281.5 261.4 353.5 293.8 301.4 267.5 285.0 244.4 325.3 274.7"/><path class="s" marker-start="url(#m8)" marker-mid="url(#m8)" marker-end="url(#m8)" d="M323.7 276.0 145.1 238.7 252.6 264.2 303.9 235.2 247.9 228.7 261.4 262.1 306.6 244.2 275.5 256.5 169.1 252.5 314.2 255.5 255.1 240.7 316.9 256.1 299.8 257.2 250.3 246.9 287.8 263.7 302.0 242.6 296.5 253.0 310.1 241.6 293.7 246.3 299.8 277.3 330.2 280.7 307.2 252.3 274.7 254.2 283.3 273.9 236.0 248.6 291.6 256.0 316.7 271.0 328.8 256.9 314.4 272.3 245.2 277.1 343.9 265.8 288.3 250.3 371.6 276.4 261.2 231.5 286.4 244.1 300.4 244.6 310.8 259.2 309.8 232.0 312.7 253.7 308.0 253.9 297.9 264.3 306.3 248.5 313.8 245.2 311.3 244.6 268.1 277.4 281.7 257.6 325.2 256.9 290.9 268.0 291.5 246.0 352.0 263.7 345.3 256.3 320.9 254.4 271.8 244.0 307.7 257.0 317.7 257.8 326.4 240.1 340.1 265.9 269.8 237.7 275.5 245.0 301.1 247.2 296.7 241.0 293.0 244.8 271.1 250.0 312.2 261.3 335.8 241.5 283.6 232.1 355.4 261.3 307.1 261.7 295.6 258.9 305.6 273.4 281.1 271.2 293.3 267.0 290.2 249.2 274.3 254.0 316.9 246.8 155.5 261.7 262.5 265.0 319.3 259.1"/><path class="s" marker-start="url(#m9)" marker-mid="url(#m9)" marker-end="url(#m9)" d="M318.3 245.7 340.7 262.6 268.4 254.1 293.2 223.3 268.1 237.4 314.5 241.6 281.4 252.3 357.1 242.2 306.5 234.7 320.6 238.2 306.5 262.6 276.5 235.2 282.1 247.9 306.4 247.3 261.3 239.0 178.4 248.2 284.8 217.2 304.1 241.3 280.9 241.5 260.8 244.8 309.4 262.1 303.3 237.6 255.0 249.3 328.3 249.2 319.5 246.0 316.7 263.1 290.0 215.9 330.7 265.2 313.2 222.4 318.5 247.9 282.0 248.7 290.9 216.2 321.1 237.0 304.5 256.0 346.7 274.3 317.4 240.3 313.1 251.5 334.8 261.1 268.9 235.6 404.9 246.1 315.1 235.6 333.8 284.2 319.4 245.6 332.0 251.8 329.4 247.0 273.3 251.3 307.5 246.0 337.5 256.4 329.0 250.7 324.2 234.5 296.6 258.7 297.8 248.9 315.7 234.8 284.7 247.0"/><path class="s" marker-start="url(#m10)" marker-mid="url(#m10)" marker-end="url(#m10)" d="M312.3 252.7 293.4 242.3 333.2 244.4 309.9 237.8 315.3 246.6 319.3 247.6 303.7 222.0 305.0 235.2 297.2 243.6 308.4 227.9 304.4 228.2 300.2 256.5 287.0 209.7 289.2 240.3 229.3 217.1 327.9 234.0 317.2 228.2 305.5 231.3 293.8 246.5 262.4 236.8 223.0 234.3 323.7 238.0 316.0 239.0 268.6 221.6 334.3 229.3 353.1 244.5 337.9 241.7 308.7 254.5 334.8 241.3 313.8 235.0 335.4 241.1 282.9 254.9 333.2 227.4 300.3 246.6 321.8 234.5 280.1 222.4 270.0 211.2 292.1 232.4 268.8 239.1 347.7 244.2 267.6 215.8 312.0 222.4 318.7 246.0 280.3 238.2 321.2 242.5 312.8 243.0 327.7 251.2 318.7 243.3 305.1 240.8 306.0 220.1 295.0 195.9 236.2 210.9 311.6 242.9 309.5 246.7 309.0 218.1 350.5 249.9 289.2 237.9"/><path class="s" marker-start="url(#m11)" marker-mid="url(#m11)" marker-end="url(#m11)" d="M343.3 208.2 303.1 216.3 327.7 221.5 323.9 213.1 317.2 213.3 299.1 233.1 336.0 230.4 329.4 235.2 320.4 243.4 291.8 231.8 252.0 239.3 276.1 225.0 324.7 248.3 345.5 217.2 374.1 238.1 304.5 218.5 285.2 231.7 335.0 243.1 313.1 230.3 312.3 226.6 266.4 209.0 293.4 191.9 257.2 221.5 308.7 212.8 281.9 241.7 322.4 226.5 273.1 217.5 334.6 221.8 302.8 214.8 284.6 213.9 308.9 228.4 306.8 234.3 307.7 227.8 317.9 238.8 267.9 222.5 272.1 221.2 271.4 209.9 261.5 233.4 274.0 225.9 314.9 243.9 342.8 229.9 328.4 236.0 242.0 210.0 311.4 207.8 320.2 211.5 345.1 233.9 306.4 214.2 299.3 215.7 270.0 216.8 314.2 220.8 325.5 230.7 296.2 255.6 340.4 230.4 294.1 209.0 300.0 213.7 292.9 254.3 315.1 218.3 298.2 217.8 330.2 216.4 317.0 218.0 296.3 191.9 333.8 248.7 330.0 241.2 331.7 246.6 324.7 233.5"/><path class="s" marker-start="url(#m12)" marker-mid="url(#m12)" marker-end="url(#m12)" d="M329.5 237.2 292.8 217.3 304.5 221.9 311.9 215.8 319.2 209.7 305.5 213.8 289.4 206.7 281.2 214.0 296.5 223.9 285.3 213.0 283.2 201.5 254.8 207.6 292.9 213.0 341.4 232.6 279.6 231.6 278.5 203.3 276.6 207.6 298.2 235.0 297.9 209.8 318.6 212.8 312.3 217.3 260.9 222.4 305.2 213.4 322.6 193.7 286.4 192.5 315.8 216.7 328.8 216.1 322.3 226.3 297.9 207.6 286.3 206.5 323.2 210.8 323.4 219.6 335.8 227.9 330.2 224.4 286.4 202.5 288.1 199.9 272.7 202.9 349.6 214.1 327.0 210.0 344.8 238.6 305.3 231.4 296.8 212.0 303.4 215.0 295.1 207.7 317.2 215.9 269.4 238.8 272.2 208.7 317.5 216.2 312.7 209.1 253.3 203.3 317.6 229.5 284.2 224.7 340.7 184.7 307.3 230.2 273.6 200.7 255.2 217.5 325.3 212.2 286.3 209.1 311.7 213.5 313.0 200.3 271.8 215.5 274.7 212.9 303.6 210.5 273.3 187.6 323.8 228.1 264.0 237.6 282.1 207.0 342.9 235.4"/><path class="s" marker-start="url(#m13)" marker-mid="url(#m13)" marker-end="url(#m13)" d="M226.4 186.8 306.2 203.5 278.2 196.2 300.9 214.2 234.1 206.5 267.1 210.6 276.1 199.0 320.6 210.1 309.3 201.7 283.3 193.8 268.6 195.7 336.4 203.8 318.8 203.9 257.8 184.4 329.7 183.5 319.9 200.6 319.7 209.6 330.1 194.8 304.1 195.4 247.6 194.2 232.1 196.6 311.8 201.9 276.3 210.8 288.0 197.0 324.9 211.2 284.4 208.7 278.6 213.6 283.0 219.0 335.7 188.5 304.8 194.7 314.4 208.0 206.1 197.4 293.9 190.2 313.4 209.7 271.3 190.7 298.7 212.5 345.8 214.8 320.0 211.9 318.7 185.4 292.4 210.7 252.1 203.2 315.0 200.8 315.9 200.1 293.8 199.3 300.7 212.5 333.8 206.8 303.3 210.0 316.2 215.6 322.9 192.8 312.7 200.0 315.7 187.3 305.1 204.1 299.5 188.7 330.4 196.9 322.7 214.9"/><path class="s" marker-start="url(#m14)" marker-mid="url(#m14)" marker-end="url(#m14)" d="M335.7 192.5 274.7 190.7 332.6 208.3 283.9 197.3 313.9 181.5 311.8 201.0 298.5 186.9 323.7 188.5 283.4 186.4 302.5 204.6 313.5 205.6 319.3 159.0 310.1 183.7 322.1 207.6 332.6 197.2 333.4 192.8 309.6 199.0 340.9 198.4 294.9 192.6 319.6 224.0 298.7 174.7 304.7 191.3 344.8 156.1 305.7 187.3 316.8 197.4 310.3 198.2 332.6 197.9 274.3 199.3 300.9 189.9 313.9 176.7 249.7 185.4 298.0 214.4 269.6 176.2 271.8 182.2 234.6 198.2 322.6 198.6 318.1 178.5 318.4 196.4 267.0 173.8 234.1 196.8 263.5 183.6 326.4 212.1 315.5 194.5 292.8 201.7 299.9 192.8 277.5 202.0 305.4 198.9 322.9 199.6 289.7 187.1 254.7 194.6 297.7 171.9 296.9 176.7 224.1 190.3 253.7 203.5 248.6 181.2 242.9 195.2 309.2 177.1 302.6 178.1 326.7 183.6 309.9 206.2 335.5 175.3 332.8 204.0 344.4 208.6"/><path class="s" marker-start="url(#m15)" marker-mid="url(#m15)" marker-end="url(#m15)" d="M303.2 169.0 309.7 191.6 283.5 155.2 301.6 172.5 271.7 181.4 290.6 179.4 319.3 186.9 272.5 168.8 331.5 189.4 260.1 179.0 294.5 163.9 282.5 157.9 342.5 185.9 295.8 176.8 317.8 187.7 342.2 191.7 290.1 177.7 309.9 181.1 363.6 194.3 293.9 188.5 320.5 196.6 282.2 183.0 305.6 177.0 298.8 189.0 317.4 185.2 299.1 167.5 328.1 198.4 308.7 186.7 296.5 154.7 282.0 165.9 299.0 176.8 293.9 163.7 291.7 184.7 327.8 193.6 288.7 155.9 277.8 186.9 254.6 159.7 281.7 160.3 313.8 170.7 309.0 160.4 269.7 165.6 312.0 183.8 326.8 182.9 307.4 174.2 262.3 198.3 270.0 164.7 295.4 173.8 304.8 194.5 307.7 185.0 288.0 165.1 273.8 179.1 360.8 164.9 297.8 182.2 304.4 192.7 320.4 179.7 290.2 154.5 268.6 158.7 268.0 162.0 267.1 171.0 322.5 202.3"/><path class="s" marker-start="url(#m16)" marker-mid="url(#m16)" marker-end="url(#m16)" d="M259.7 175.3 300.6 188.1 322.5 161.5 280.8 151.3 260.4 184.4 300.1 164.3 235.9 133.3 313.9 169.9 300.4 152.2 301.9 158.8 312.3 172.6 303.8 161.0 310.2 155.6 263.5 172.5 309.5 188.5 301.3 161.9 245.5 155.6 297.7 146.0 314.1 185.8 313.9 154.5 287.4 180.2 318.7 174.1 254.4 165.1 267.4 157.4 316.9 167.2 341.6 120.2 309.9 179.7 247.3 143.5 304.9 167.7 307.4 172.1 313.5 154.0 296.5 165.7 242.6 154.8 316.6 183.2 282.6 173.7 318.4 185.3 326.6 192.9 296.9 160.1 281.9 155.9 281.7 161.1 294.3 152.9 281.6 166.6 299.7 164.7 349.2 173.8 322.3 161.2 270.5 162.5 313.5 177.5 295.7 176.1 312.8 176.9 320.9 189.0 316.4 177.8 295.8 153.6 299.8 160.8 284.7 146.2 249.7 158.1 306.3 158.9 336.1 182.2 303.5 162.9 331.4 161.2 310.5 185.6"/><path class="s" marker-start="url(#m17)" marker-mid="url(#m17)" marker-end="url(#m17)" d="M296.6 141.4 265.7 139.5 308.2 141.4 316.3 153.1 301.7 170.0 264.6 146.7 264.0 143.4 252.7 151.1 270.0 134.5 288.7 152.2 233.3 151.6 342.2 178.2 267.5 165.3 360.5 163.4 321.8 136.6 319.4 181.8 248.9 131.7 306.5 180.3 311.1 145.8 292.5 148.6 293.1 155.0 262.1 130.0 302.6 164.9 258.4 153.5 327.9 169.6 285.6 162.3 328.9 171.3 304.1 171.5 342.3 176.9 286.8 128.9 300.0 145.2 265.4 138.2 337.7 165.8 296.2 134.1 300.7 166.2 260.9 149.0 259.9 149.9 317.1 160.3 283.1 160.6 279.8 153.3 316.7 157.8 326.2 155.2 263.6 154.3 305.2 144.9 263.6 155.1 244.6 151.8 238.7 137.7 310.9 147.4 263.8 139.9 314.2 170.4 279.4 157.1 244.9 140.7 257.2 125.3 270.4 139.1 298.7 151.6 303.5 156.8 285.1 132.9 325.3 172.3 316.7 159.7 290.0 150.2 335.7 144.4 299.5 168.5 328.1 185.3 327.4 164.5 265.6 139.1 324.7 143.6"/><path class="s" marker-start="url(#m18)" marker-mid="url(#m18)" marker-end="url(#m18)" d="M294.9 163.8 315.4 143.9 287.4 123.4 244.2 142.0 307.9 146.3 311.8 125.4 302.2 154.1 286.4 144.3 264.7 138.2 329.3 157.5 317.1 152.8 283.3 111.9 294.7 164.7 286.6 131.6 308.4 148.0 282.6 179.7 317.0 135.9 319.9 149.5 281.0 148.9 277.4 154.3 285.7 130.7 330.3 140.6 309.7 141.0 290.5 148.2 305.2 131.4 290.1 129.6 276.8 125.7 300.0 146.3 290.4 130.4 262.5 132.8 294.6 137.7 276.3 159.1 307.0 140.0 320.3 156.6 261.8 150.3 341.0 126.2 271.8 128.6 298.8 129.5 305.0 109.0 290.8 133.7 243.3 138.5 300.7 136.4 296.3 133.0 342.6 169.6 318.4 155.0 290.3 150.8 321.2 162.9 258.2 127.7 268.2 131.1 304.9 155.9 311.7 135.6 287.9 126.9 269.1 180.2 299.9 142.9 311.5 151.3 305.7 141.0 313.1 160.9 314.1 151.5 255.4 134.3 317.8 182.8 298.4 127.4"/><path class="s" marker-start="url(#m19)" marker-mid="url(#m19)" marker-end="url(#m19)" d="M284.1 128.2 313.0 147.1 316.7 150.9 274.8 123.4 314.0 135.6 251.4 119.5 290.9 124.4 259.6 145.2 273.9 130.5 300.9 154.0 318.8 141.5 291.2 114.9 322.4 137.2 302.4 137.2 276.6 120.2 311.3 140.2 285.4 128.0 287.2 146.8 278.1 122.5 327.3 126.2 307.9 132.2 297.3 148.2 253.6 126.0 264.5 121.6 313.0 134.1 255.8 125.9 287.4 146.3 292.8 133.6 319.6 143.9 317.5 143.5 326.5 148.4 318.3 122.9 302.8 146.3 306.9 131.4 287.1 121.7 342.2 148.4 295.6 130.8 285.7 131.1 320.2 132.4 288.1 137.9 328.4 163.8 303.8 136.8 309.7 125.9 313.7 143.0 292.1 119.8 341.1 164.8 288.1 120.8 311.1 139.0 244.8 114.6 289.8 137.2 326.3 141.7 315.2 116.8 272.5 140.5 302.3 148.4 253.5 146.2 269.5 123.0 298.6 142.9 265.3 116.1 292.8 154.9 287.7 125.6 290.8 149.0 319.7 162.4 316.1 154.1 310.5 145.2 268.5 148.1 323.2 144.3 323.1 172.0 330.8 153.9 297.5 138.2 254.7 111.3 283.8 140.3 290.4 116.4 294.0 148.6 292.3 135.4 303.5 138.8 304.1 139.0 325.1 167.4 293.0 134.1 261.1 120.5 286.4 120.7 303.4 137.3 315.0 150.9 320.4 152.5 283.3 123.4"/><path class="s" marker-start="url(#m20)" marker-mid="url(#m20)" marker-end="url(#m20)" d="M300.2 122.7 299.7 138.5 289.2 116.4 246.0 122.8 276.1 126.9 341.3 150.3 289.8 132.4 252.1 108.9 322.1 128.7 338.3 150.6 299.6 108.5 312.4 127.6 300.1 137.8 323.6 144.3 269.6 124.5 285.0 125.8 310.1 126.3 310.6 127.4 279.0 128.7 284.6 107.4 314.4 130.4 262.9 99.7 315.6 151.0 248.0 107.3 340.2 153.9 267.1 116.4 301.6 128.0 243.8 148.5 249.2 100.7 303.7 120.7 301.7 116.1 318.1 127.0 251.1 88.7 298.9 106.7 213.9 145.1 307.4 110.6 324.3 136.9 311.9 136.7 299.9 115.8 292.9 130.1 302.1 137.3 281.1 133.3 305.0 128.3 254.5 118.1 289.7 104.2 297.0 107.7 274.7 114.8 289.6 110.0 262.7 109.5 302.3 125.5 322.6 142.2 287.2 118.0 294.0 112.3 293.2 135.7 331.8 136.1 329.1 140.3 290.5 119.7 312.8 114.1 295.0 140.8 329.4 135.7 267.3 109.5 308.4 131.6 284.3 116.3 296.1 137.1 286.3 120.5 261.8 123.1 312.4 123.0 290.2 119.8 296.9 133.8 304.4 117.2 295.7 133.4 293.7 146.0 273.7 130.9 301.6 149.5 247.4 110.3 307.2 118.4 310.1 127.0 301.1 123.9 286.6 108.8 294.8 107.9 282.4 110.4 278.1 103.9"/><path class="s" marker-start="url(#m21)" marker-mid="url(#m21)" marker-end="url(#m21)" d="M311.2 125.8 284.0 107.4 309.8 86.3 279.4 123.5 303.0 115.1 271.8 108.9 284.4 104.0 249.9 83.6 277.6 85.6 336.3 138.4 289.8 116.5 271.2 101.2 321.4 122.8 289.7 111.3 286.7 95.1 307.6 125.9 256.8 100.3 301.8 114.7 279.1 89.3 262.1 99.3 312.0 106.2 278.3 103.1 324.1 121.2 276.3 91.5 262.5 142.4 258.0 100.5 307.8 114.9 296.1 116.0 299.6 102.7 302.1 125.9 285.3 91.7 279.4 102.4 280.9 107.5 286.4 88.9 288.4 93.4 279.4 106.4 286.9 86.9 266.1 110.5 313.6 115.0 300.2 122.3 329.0 120.9 270.8 96.5 287.4 119.4 262.1 121.2 302.0 108.4 304.2 115.7 290.8 120.2 320.0 120.7 303.9 113.3 257.9 103.8 288.8 133.1 285.2 107.7 293.2 123.9 247.2 88.9 252.9 95.9 288.7 94.4 311.9 132.4 308.1 111.5 301.8 118.1 319.9 110.0 298.7 120.6 272.1 120.6 304.5 113.5 306.6 118.8 280.5 96.9 266.9 96.4 300.0 141.1 297.6 108.1 309.3 112.3 290.3 109.2 300.6 109.1 294.2 120.4 300.5 117.4 296.7 114.7 269.5 96.6 303.1 111.6 274.1 109.6 241.8 82.2 327.4 130.7 286.6 101.6 306.7 123.6 270.0 113.4 314.6 131.0 295.2 120.8 323.4 142.7 297.0 128.7 278.3 90.6 278.5 119.9 281.1 105.4 238.8 106.1 290.8 117.4 298.7 105.1 308.8 91.9 267.8 95.8 314.9 111.2 307.5 99.8 299.5 125.8 260.5 85.1 316.3 119.9 291.9 128.6 291.4 113.7 253.6 92.5 293.4 137.1 307.6 129.2"/><path class="s" marker-start="url(#m22)" marker-mid="url(#m22)" marker-end="url(#m22)" d="M283.0 94.3 265.0 113.3 314.7 108.5 265.9 85.8 275.8 99.2 303.3 110.3 268.3 107.5 308.1 99.0 281.2 92.4 301.8 98.9 304.4 116.6 327.1 129.3 267.5 88.0 291.6 95.9 296.6 97.7 295.7 110.7 287.3 93.7 312.9 115.8 311.3 89.6 296.6 104.8 309.0 108.7 264.9 86.3 254.0 83.9 278.3 87.9 320.5 126.4 266.4 70.9 279.9 91.5 299.4 111.9 286.1 96.5 275.5 98.0 289.9 90.2 304.5 94.9 284.6 92.1 280.2 83.6 282.8 112.4 236.1 74.3 264.4 88.4 298.0 99.7 244.8 67.3 284.2 95.6 283.5 73.7 301.2 85.5 271.2 96.8 268.1 90.9 295.2 98.1 273.3 97.1 269.8 88.7 330.9 109.4 278.9 83.5 272.6 97.0 308.6 109.7 282.6 82.2 304.1 91.4 315.0 93.3 277.7 97.5 289.9 100.3 295.4 86.6 310.6 113.9 291.4 94.1 327.4 124.5 307.8 94.5 289.0 78.7 280.5 87.9 296.0 91.9 269.7 97.9 293.4 89.1 283.7 82.1 278.3 79.2 314.1 107.5 281.2 72.7 284.8 91.3 263.1 74.9 241.3 79.0 323.8 107.1 304.0 103.7 284.7 85.9 291.3 101.2 280.8 80.2 296.2 109.5 360.8 138.6 295.3 101.1 297.4 92.1 286.4 89.7 282.3 91.1 276.3 84.0 274.2 104.9 292.3 82.9 288.7 98.3 266.3 76.2 290.6 108.7 306.9 96.5 288.1 96.1 295.6 97.1 271.5 96.3 321.2 128.8 265.5 89.7 308.8 113.7 324.7 109.1 315.7 106.4 280.8 93.8 293.3 96.1 280.0 72.9 305.1 109.9 292.4 88.7 318.3 95.3 282.7 121.0 249.4 92.1 270.3 98.4 295.5 113.9 306.3 92.7 311.4 112.0 269.8 85.7 300.6 116.8 246.4 81.3 279.9 103.2 259.9 96.8 280.9 87.2 271.0 103.0 290.1 104.1 324.4 121.0 267.5 79.0 309.1 125.8 268.1 104.3 300.2 115.8 318.2 115.0 308.5 119.2 312.9 120.0 312.3 99.3 248.3 98.1 286.4 96.4 296.0 95.6 278.7 103.7 293.7 89.4 289.5 98.1 301.4 108.1 298.2 110.9 315.9 122.3 280.1 91.0 305.8 126.5 269.2 105.3 276.1 71.9 298.7 99.0 319.3 131.9 277.5 82.3 281.2 99.4 302.7 113.6 322.6 126.4 252.3 104.7 286.1 111.4 313.6 121.4 306.6 116.4 294.9 112.3 315.8 116.7 315.8 106.0 307.2 112.3 273.4 98.3 311.1 103.6 260.7 68.1 269.8 76.0 291.2 104.5 294.2 90.7 294.3 110.3 266.1 95.0 286.8 116.5 320.2 109.3 308.0 99.9 307.2 71.6 296.6 119.4 291.2 96.7 301.2 116.8 296.5 97.2 284.2 101.8 292.1 86.0 284.8 95.3 305.5 98.6 304.5 96.3 318.5 137.8 284.5 115.1 302.3 101.2"/><path class="s" marker-start="url(#m23)" marker-mid="url(#m23)" marker-end="url(#m23)" d="M298.1 102.6 278.5 75.0 289.0 77.4 254.8 61.7 299.2 99.6 265.6 78.8 255.3 77.5 313.8 114.8 269.4 87.9 298.1 108.1 302.8 108.7 282.1 87.3 302.2 93.0 310.1 89.2 281.9 80.6 311.0 119.8 313.6 116.8 314.4 103.2 286.1 104.5 295.4 85.1 309.3 107.5 295.4 92.1 285.4 99.4 300.4 78.0 310.7 93.4 275.6 83.6 284.5 89.2 275.8 80.0 308.5 105.7 279.2 82.1 291.8 116.2 305.5 107.5 279.3 91.3 297.7 84.9 299.6 100.7 274.3 75.1 304.0 88.7 255.1 87.3 332.0 110.4 278.1 76.4 304.7 119.9 311.7 105.6 256.5 88.8 313.7 96.4 269.2 83.4 287.9 87.7 312.7 111.1 297.0 73.3 294.9 95.0 291.1 97.1 276.1 96.3 299.1 103.5 286.4 84.0 254.7 66.9 287.8 77.2 274.8 92.9 295.3 75.7 280.8 83.8 292.2 68.3 340.3 122.3 280.3 94.9 318.1 105.8 275.1 75.7 324.4 102.0 304.7 85.3 266.3 88.0 261.1 77.6 296.4 80.7 316.2 117.5 297.5 95.2 268.7 103.6 298.5 104.2 309.8 82.4 263.2 81.4 295.2 120.1 273.1 72.0 296.9 98.7 279.7 83.6 286.8 81.7 259.6 71.0 254.5 90.2 285.4 71.7 295.8 90.2 264.8 76.7 257.7 86.2 257.5 86.5 254.5 92.5 303.1 107.9 257.8 62.3 267.4 65.8 252.8 89.5 249.2 85.1 282.9 92.1 294.6 86.4 292.7 89.8 318.0 107.4 266.0 94.4 320.3 101.3 268.5 62.3 287.0 97.7 325.9 100.5 282.1 80.6 293.3 87.6 288.4 87.2 283.4 77.7 300.7 95.3 263.6 77.3 281.9 90.4 276.4 81.6 287.8 67.6 291.0 74.9 293.1 96.9 248.6 82.9 300.4 100.1 320.8 124.3 273.2 106.6 309.2 107.8 278.3 91.8 262.1 87.9 305.2 87.6 254.5 79.1 305.8 77.5 261.9 103.0 281.1 84.3 272.5 85.0 243.7 79.0 292.6 86.6 333.0 110.9 307.9 109.2 284.8 83.2 287.4 88.5 289.1 109.7 293.4 90.8 323.1 117.1 312.3 91.7 290.9 75.9 262.3 84.6 282.8 103.2 296.0 98.8 271.4 91.8 307.2 93.0 290.8 88.3 248.7 66.9 299.7 90.6 266.3 87.7 285.0 103.4 279.4 111.0 273.1 77.9 291.0 83.0 282.8 77.9 250.4 78.9 283.6 71.2 260.9 71.6 258.7 77.6 312.4 116.4 301.8 90.3 303.6 97.6 282.9 99.2 305.9 97.7 276.9 75.0 288.2 79.9 279.2 73.9 240.9 62.5 268.4 90.4 323.5 101.4 308.1 79.7 318.1 98.8 315.3 107.8 269.7 82.3 280.8 97.7 273.8 80.3 295.7 106.6 259.7 71.5 291.3 85.2 281.6 82.3 302.9 74.8 294.7 97.6 309.8 97.2 307.8 93.2 279.0 84.8 287.5 75.9 234.4 68.7 277.4 69.1 288.6 80.9 298.7 93.9 301.7 103.4 247.4 77.7 247.9 63.1 273.4 72.1 275.5 89.9 298.6 96.4 300.0 93.0 306.8 111.0 275.5 77.8 279.8 70.8 316.3 105.0 291.8 88.2 240.5 70.1 329.1 110.6 318.6 109.8 251.8 54.1 303.5 97.4 252.7 58.3 317.1 105.1 290.9 92.0 285.3 85.3 278.0 69.8 300.3 93.5 282.4 88.7 278.8 91.6 319.2 108.7 293.5 90.5 306.3 103.5 270.3 67.8 318.2 108.1 300.5 96.5 282.1 67.2 313.2 100.0 247.2 52.5 281.8 85.0 303.7 88.4 328.1 121.0 276.5 79.4 294.4 67.3 271.6 77.6 296.8 107.0 279.0 100.9 281.3 74.4 296.5 87.7 284.0 72.0 292.1 82.4 276.9 78.5 302.9 116.1 256.1 64.2 250.5 85.7 276.1 70.5 256.8 74.7 280.4 76.8 278.7 74.5 286.8 92.5 309.3 116.8"/><path class="s" marker-start="url(#m24)" marker-mid="url(#m24)" marker-end="url(#m24)" d="M297.7 71.2 286.0 66.2 299.0 87.7 286.1 72.3 273.3 87.6 238.3 51.3 310.3 75.6 311.5 83.4 288.4 73.8 286.7 72.8 277.1 80.8 314.9 94.3 290.9 78.4 274.4 67.3 287.5 62.2 291.5 89.0 287.8 92.3 269.2 46.5 301.5 92.0 291.1 83.6 272.1 73.4 282.3 69.6 268.9 65.7 261.1 74.5 316.6 103.4 309.2 88.8 275.0 76.6 298.7 75.4 258.8 52.6 270.2 53.6 273.5 58.1 269.0 65.1 250.9 47.6 271.5 73.5 316.1 101.6 279.0 62.0 311.1 95.6 283.9 72.6 267.7 67.0 292.0 70.5 276.6 67.1 309.6 93.3 262.0 64.0 261.3 62.8 290.6 74.0 252.5 53.1 305.1 98.5 257.3 65.7 268.2 74.2 299.9 91.8 275.6 60.2 317.0 93.1 295.3 75.6 264.8 71.8 306.8 103.2 307.0 79.2 290.6 74.9 273.8 66.1 269.5 48.2 316.0 102.2 289.6 72.7 301.5 83.9 280.0 94.7 289.5 79.7 284.2 72.2 287.9 78.8 259.5 56.0 262.7 73.6 292.8 84.9 272.6 71.7 281.0 62.3 282.4 87.2 250.9 45.9 302.2 82.6 256.5 48.4 260.0 67.8 274.6 77.9 269.2 56.0 279.2 64.9 268.5 84.6 278.5 65.5 276.1 79.3 284.0 70.5 254.5 60.1 294.1 77.0 257.1 54.6 275.2 57.4 328.2 107.4 295.4 77.2 276.9 58.0 279.8 70.2 244.5 63.6 276.4 68.4 275.2 77.5 296.4 71.6 288.6 79.7 273.3 84.4 295.4 91.7 304.1 89.9 244.7 63.6 306.1 81.6 291.4 78.9 260.0 77.1 297.2 98.3 283.8 60.9 283.7 81.0 267.5 72.8 270.2 57.2 282.5 88.4 289.1 83.4 317.3 91.4 263.9 49.8 244.0 54.6 267.1 66.6 279.8 78.2 282.6 64.0 300.9 91.4 297.3 86.3 257.3 56.1 306.4 90.1 257.8 67.7 305.7 87.3 321.2 106.2 275.4 68.2 272.0 49.0 248.2 58.0 280.0 72.4 312.6 95.1 302.9 85.3 249.4 50.4 301.2 82.9 269.3 69.6 311.7 103.0 269.8 80.6 281.4 68.4 263.4 53.9 297.6 87.4 284.4 79.7 300.3 95.4 235.0 47.5 313.3 99.2 274.9 79.4 303.0 102.1 262.3 57.1 292.1 80.0 286.1 84.5 300.8 91.6 299.6 81.0 253.4 49.6 318.7 114.5 306.0 95.3 252.9 62.9 272.0 75.0 286.9 68.8 282.5 70.5 226.6 45.0 297.3 82.9 260.3 61.2 320.5 98.1 241.9 62.3 296.1 105.2 298.0 83.7 280.7 80.3 327.5 110.9 289.1 74.8 294.4 70.3 292.6 87.9 297.0 87.3 297.6 74.0 257.9 61.0 314.6 98.5 306.7 91.5 272.3 59.2 283.5 82.2 273.4 68.1 257.7 60.9 308.0 96.9 293.9 77.5 295.1 90.8 250.9 56.8 298.4 69.2 250.0 64.3 291.2 68.9 303.0 84.6 267.0 58.8 269.3 68.2 292.8 87.6 280.9 77.5 319.0 104.3 259.6 61.8 278.6 65.0 296.5 79.5 238.9 43.6 274.7 63.1 318.8 90.3 278.7 90.9 291.8 81.0 267.0 74.0 284.4 72.2 309.9 94.9 316.0 96.4 296.0 83.8 268.5 63.5 291.4 81.7 290.8 76.0 305.9 84.9 293.7 74.2 279.1 59.9 266.4 51.2 285.4 73.8 243.9 63.5 301.3 77.3 262.5 59.1 259.0 60.4 289.9 78.7 304.1 87.9 251.2 65.1 296.0 88.9 328.8 107.0 273.1 66.7 272.9 74.0 224.6 40.3 294.2 85.3 270.8 66.9 272.8 69.2 312.4 93.5 273.7 82.0 309.3 106.8 264.8 69.8 264.4 87.1 279.2 75.7 273.2 72.3 255.8 70.7 290.2 74.2 283.9 61.5 257.1 58.9 277.9 82.7 331.5 110.3 285.9 64.0 275.7 61.6 334.3 107.9 282.1 57.4 296.4 100.0 264.7 60.7 317.0 92.7 264.2 83.8 302.9 73.2 259.3 57.8 293.3 70.6 261.6 65.0 292.7 71.1 284.4 73.9 273.1 83.7 302.1 76.0 261.7 61.4 270.3 72.9 246.7 68.4 315.7 84.3 277.2 84.1 274.8 57.3 284.3 86.5 308.0 89.6 290.9 77.2 285.4 85.3 287.2 86.5 265.0 52.1 271.7 57.4 285.6 74.0 281.4 59.8 302.9 95.0 286.2 72.2 284.7 79.8 284.8 66.6 325.7 107.3 276.0 50.2 313.8 92.5 276.4 76.3 297.9 84.0 229.8 47.4 297.7 82.7 287.4 86.4 283.4 86.8 267.4 66.1 279.7 75.6 280.0 70.0 296.6 88.5 264.5 74.5 275.1 65.0 312.5 102.3 297.0 70.9 289.8 84.6 268.4 57.7 285.8 78.4 265.4 62.6 276.0 64.3 268.4 64.2 300.7 76.3 255.2 59.6 287.1 74.5 271.9 74.8 242.9 50.0 304.3 93.7 264.1 63.6 238.8 58.6 280.2 81.3 314.9 85.3 267.1 83.6 317.8 113.1 302.3 86.4 325.6 98.0 326.3 96.8 244.8 47.6 301.3 81.7 313.0 109.1 285.4 73.6 284.7 70.8 260.2 64.6 310.3 82.3 310.3 89.9 267.7 59.5 288.5 67.1 300.1 97.4 282.8 74.4 307.5 96.8 289.3 89.2 254.6 60.3 289.4 93.7 256.3 56.9 283.2 68.9 274.0 54.2 300.2 73.8 275.9 72.4 281.8 61.2 318.3 115.1 272.2 72.6 296.0 94.6 272.8 73.8 286.0 80.9 284.8 72.9 284.9 66.5 300.8 94.9 275.1 61.1 306.5 88.0 330.3 105.6 282.1 90.3 243.7 59.2 286.4 88.7 296.4 97.2 285.8 72.2 275.9 68.5 306.4 86.7 295.1 76.8 238.6 57.0 305.5 94.6 259.0 62.9 306.1 97.3 268.7 64.5 313.9 98.4 299.2 77.8 260.0 54.5 248.7 76.1 287.2 71.5 282.2 69.8 257.3 51.7 284.3 71.0 250.8 71.6 279.9 70.7 263.9 56.5 310.1 99.6 275.5 57.5 294.0 66.6 299.7 83.5 313.9 102.5 251.5 53.2 299.1 82.8 275.1 70.9 276.8 74.7 265.8 79.9 276.2 75.2 264.7 70.2 276.8 66.8 278.0 61.9 281.5 69.0 291.5 76.9 289.2 76.4 323.5 96.4 276.6 51.2 240.9 56.8 315.8 120.6 310.2 98.3 275.9 70.6 261.4 56.9 282.5 69.1 254.4 80.3 334.5 108.3 267.2 65.2 249.2 51.8 301.7 72.8 286.6 68.4 269.6 69.7 284.2 58.5 267.7 56.2 277.8 70.6 308.5 81.2 295.6 82.9 272.2 74.6 270.7 66.4 312.8 107.1 301.6 79.7 286.6 88.4 241.9 64.5 283.3 69.6 270.8 70.0 285.5 59.6 306.3 96.1 250.7 77.6 316.1 102.7 279.4 67.9 297.0 79.9 285.3 85.7 308.8 88.6 262.1 70.5 321.2 92.8 263.3 61.4 287.6 76.9 296.7 86.9 269.7 53.0 304.6 60.8 288.3 77.7 303.1 81.2 287.7 72.1 281.6 90.8 309.9 80.7 251.0 61.3 290.0 82.9 275.8 71.0 272.6 56.3 261.6 84.8 301.2 99.1 311.5 100.9 293.6 79.8 269.2 53.8 311.1 89.2 301.8 105.9 295.7 80.0 295.8 79.8 319.2 97.4 282.4 68.2 284.2 85.4 267.0 68.5 285.3 79.5 254.8 54.5 287.2 69.9 255.3 66.0 251.9 68.9 304.0 95.8 314.2 95.8 252.1 63.5"/></g>
<g><line class="ax" x1="78.3" y1="296.0" x2="78.3" y2="26.0"/><line class="ax" x1="78.3" y1="296.0" x2="151.5" y2="403.5"/><line class="ax" x1="151.5" y1="403.5" x2="503.2" y2="380.3"/><line class="ax" x1="78.3" y1="296.0" x2="73.6" y2="289.1"/><line class="ax" x1="78.3" y1="242.0" x2="73.6" y2="235.1"/><line class="ax" x1="78.3" y1="188.0" x2="73.6" y2="181.1"/><line class="ax" x1="78.3" y1="134.0" x2="73.6" y2="127.1"/><line class="ax" x1="78.3" y1="80.0" x2="73.6" y2="73.1"/><line class="ax" x1="78.3" y1="26.0" x2="73.6" y2="19.1"/><line class="ax" x1="78.3" y1="296.0" x2="69.7" y2="296.5"/><line class="ax" x1="98.7" y1="326.0" x2="90.1" y2="326.5"/><line class="ax" x1="119.2" y1="356.1" x2="110.6" y2="356.6"/><line class="ax" x1="139.6" y1="386.1" x2="131.0" y2="386.6"/><line class="ax" x1="503.2" y1="380.3" x2="507.9" y2="387.2"/><line class="ax" x1="468.0" y1="382.6" x2="472.8" y2="389.6"/><line class="ax" x1="432.9" y1="384.9" x2="437.6" y2="391.9"/><line class="ax" x1="397.7" y1="387.3" x2="402.4" y2="394.2"/><line class="ax" x1="362.5" y1="389.6" x2="367.2" y2="396.5"/><line class="ax" x1="327.4" y1="391.9" x2="332.1" y2="398.8"/><line class="ax" x1="292.2" y1="394.2" x2="296.9" y2="401.2"/><line class="ax" x1="257.0" y1="396.5" x2="261.7" y2="403.5"/><line class="ax" x1="221.8" y1="398.9" x2="226.6" y2="405.8"/><line class="ax" x1="186.7" y1="401.2" x2="191.4" y2="408.1"/><line class="ax" x1="151.5" y1="403.5" x2="156.2" y2="410.4"/></g>
<g><rect x="3.2" y="278.08" width="8.8" height="11.42" fill="#2a2f7e"/><text class="cl" x="13" y="287.4">1</text><rect x="3.2" y="266.97" width="8.8" height="11.42" fill="#2070b4"/><text class="cl" x="13" y="276.3">2</text><rect x="3.2" y="255.85" width="8.8" height="11.42" fill="#1ca4d4"/><text class="cl" x="13" y="265.2">3</text><rect x="3.2" y="244.73" width="8.8" height="11.42" fill="#16acd8"/><text class="cl" x="13" y="254.1">4</text><rect x="3.2" y="233.62" width="8.8" height="11.42" fill="#14a8d0"/><text class="cl" x="13" y="243.0">5</text><rect x="3.2" y="222.50" width="8.8" height="11.42" fill="#16a2c8"/><text class="cl" x="13" y="231.9">6</text><rect x="3.2" y="211.38" width="8.8" height="11.42" fill="#1c9bbe"/><text class="cl" x="13" y="220.7">7</text><rect x="3.2" y="200.27" width="8.8" height="11.42" fill="#2399aa"/><text class="cl" x="13" y="209.6">8</text><rect x="3.2" y="189.15" width="8.8" height="11.42" fill="#2d9d96"/><text class="cl" x="13" y="198.5">9</text><rect x="3.2" y="178.03" width="8.8" height="11.42" fill="#3ea27d"/><text class="cl" x="13" y="187.4">10</text><rect x="3.2" y="166.92" width="8.8" height="11.42" fill="#5aaa62"/><text class="cl" x="13" y="176.3">11</text><rect x="3.2" y="155.80" width="8.8" height="11.42" fill="#7ab244"/><text class="cl" x="13" y="165.2">12</text><rect x="3.2" y="144.68" width="8.8" height="11.42" fill="#9bc02d"/><text class="cl" x="13" y="154.0">13</text><rect x="3.2" y="133.57" width="8.8" height="11.42" fill="#b2cb26"/><text class="cl" x="13" y="142.9">14</text><rect x="3.2" y="122.45" width="8.8" height="11.42" fill="#d4da1c"/><text class="cl" x="13" y="131.8">15</text><rect x="3.2" y="111.33" width="8.8" height="11.42" fill="#f0e40f"/><text class="cl" x="13" y="120.7">16</text><rect x="3.2" y="100.22" width="8.8" height="11.42" fill="#f8d412"/><text class="cl" x="13" y="109.6">17</text><rect x="3.2" y="89.10" width="8.8" height="11.42" fill="#fab61c"/><text class="cl" x="13" y="98.5">18</text><rect x="3.2" y="77.98" width="8.8" height="11.42" fill="#f69b1c"/><text class="cl" x="13" y="87.3">19</text><rect x="3.2" y="66.87" width="8.8" height="11.42" fill="#f07a1e"/><text class="cl" x="13" y="76.2">20</text><rect x="3.2" y="55.75" width="8.8" height="11.42" fill="#ea5823"/><text class="cl" x="13" y="65.1">21</text><rect x="3.2" y="44.63" width="8.8" height="11.42" fill="#e23c28"/><text class="cl" x="13" y="54.0">22</text><rect x="3.2" y="33.52" width="8.8" height="11.42" fill="#e01e22"/><text class="cl" x="13" y="42.9">23</text><rect x="3.2" y="22.40" width="8.8" height="11.42" fill="#d60c26"/><text class="cl" x="13" y="31.8">24</text><path class="ct" d="M3.5 283.6h2.2M9.8 283.6h2.2"/><path class="ct" d="M3.5 272.5h2.2M9.8 272.5h2.2"/><path class="ct" d="M3.5 261.4h2.2M9.8 261.4h2.2"/><path class="ct" d="M3.5 250.3h2.2M9.8 250.3h2.2"/><path class="ct" d="M3.5 239.2h2.2M9.8 239.2h2.2"/><path class="ct" d="M3.5 228.1h2.2M9.8 228.1h2.2"/><path class="ct" d="M3.5 216.9h2.2M9.8 216.9h2.2"/><path class="ct" d="M3.5 205.8h2.2M9.8 205.8h2.2"/><path class="ct" d="M3.5 194.7h2.2M9.8 194.7h2.2"/><path class="ct" d="M3.5 183.6h2.2M9.8 183.6h2.2"/><path class="ct" d="M3.5 172.5h2.2M9.8 172.5h2.2"/><path class="ct" d="M3.5 161.4h2.2M9.8 161.4h2.2"/><path class="ct" d="M3.5 150.2h2.2M9.8 150.2h2.2"/><path class="ct" d="M3.5 139.1h2.2M9.8 139.1h2.2"/><path class="ct" d="M3.5 128.0h2.2M9.8 128.0h2.2"/><path class="ct" d="M3.5 116.9h2.2M9.8 116.9h2.2"/><path class="ct" d="M3.5 105.8h2.2M9.8 105.8h2.2"/><path class="ct" d="M3.5 94.7h2.2M9.8 94.7h2.2"/><path class="ct" d="M3.5 83.5h2.2M9.8 83.5h2.2"/><path class="ct" d="M3.5 72.4h2.2M9.8 72.4h2.2"/><path class="ct" d="M3.5 61.3h2.2M9.8 61.3h2.2"/><path class="ct" d="M3.5 50.2h2.2M9.8 50.2h2.2"/><path class="ct" d="M3.5 39.1h2.2M9.8 39.1h2.2"/><path class="ct" d="M3.5 28.0h2.2M9.8 28.0h2.2"/><rect x="3.4" y="22.40" width="8.5" height="266.80" fill="none" stroke="#444" stroke-width="0.6"/></g>
<text class="tl" x="71.8" y="289.6" text-anchor="end">0</text><text class="tl" x="71.8" y="235.6" text-anchor="end">5</text><text class="tl" x="71.8" y="181.6" text-anchor="end">10</text><text class="tl" x="71.8" y="127.6" text-anchor="end">15</text><text class="tl" x="71.8" y="73.6" text-anchor="end">20</text><text class="tl" x="71.8" y="19.6" text-anchor="end">25</text><text class="tl" x="65.2" y="306.0" text-anchor="end">1</text><text class="tl" x="85.6" y="336.0" text-anchor="end">0.5</text><text class="tl" x="106.1" y="366.1" text-anchor="end">0</text><text class="tl" x="126.5" y="396.1" text-anchor="end">-0.5</text><text class="tl" x="512.7" y="400.9" text-anchor="middle">-1</text><text class="tl" x="476.2" y="402.9" text-anchor="middle">0</text><text class="tl" x="440.9" y="404.9" text-anchor="middle">1</text><text class="tl" x="405.7" y="407.0" text-anchor="middle">2</text><text class="tl" x="370.4" y="409.0" text-anchor="middle">3</text><text class="tl" x="335.1" y="411.0" text-anchor="middle">4</text><text class="tl" x="299.8" y="413.0" text-anchor="middle">5</text><text class="tl" x="264.5" y="415.0" text-anchor="middle">6</text><text class="tl" x="229.3" y="417.1" text-anchor="middle">7</text><text class="tl" x="194.0" y="419.1" text-anchor="middle">8</text><text class="tl" x="158.7" y="421.1" text-anchor="middle">9</text>
<text font-size="11" transform="translate(41.3,239.8) rotate(-90)">Number of tissues with protein data</text>
<text font-size="13.8" transform="translate(29.5,315.3) rotate(55.5)">Correlation of P and R</text>
<text font-size="15.7" transform="translate(202.8,449.6) rotate(-3.5)">P/R mean, log10(cell copy number ratio)</text>
</svg>
</body></html>
